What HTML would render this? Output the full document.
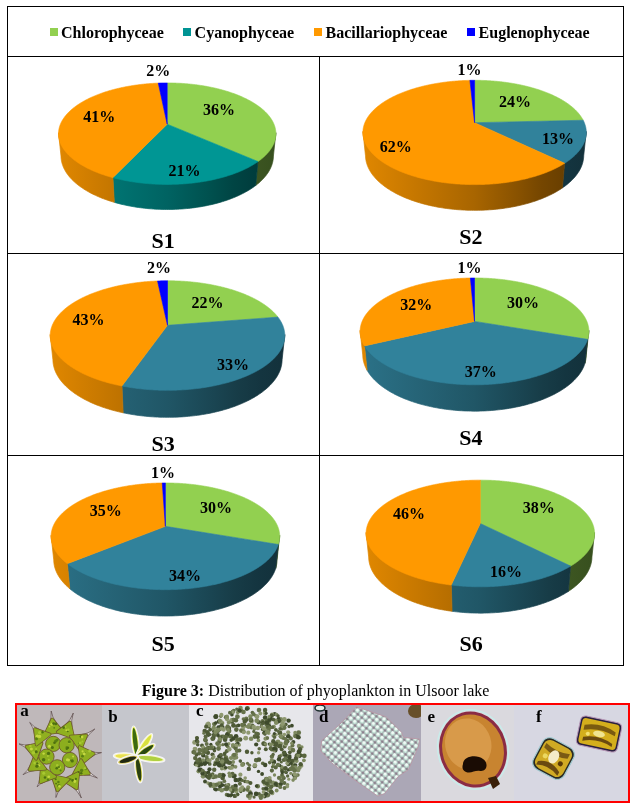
<!DOCTYPE html>
<html><head><meta charset="utf-8">
<style>
html,body{margin:0;padding:0;background:#fff;width:634px;height:804px;overflow:hidden}
svg{position:absolute;left:0;top:0;will-change:transform}
text{font-family:"Liberation Serif",serif}
</style></head><body>
<svg width="634" height="804" viewBox="0 0 634 804">
<rect x="0" y="0" width="634" height="804" fill="#fff"/>
<defs><linearGradient id="gS10" gradientUnits="userSpaceOnUse" x1="58.5" y1="0" x2="275.9" y2="0"><stop offset="0" stop-color="#80b746"/><stop offset="0.25" stop-color="#70a03e"/><stop offset="0.5" stop-color="#608935"/><stop offset="0.7" stop-color="#4d6e2a"/><stop offset="0.8" stop-color="#436025"/><stop offset="0.9" stop-color="#3c5521"/><stop offset="1.0" stop-color="#374f1e"/></linearGradient><linearGradient id="gS11" gradientUnits="userSpaceOnUse" x1="58.5" y1="0" x2="275.9" y2="0"><stop offset="0" stop-color="#008482"/><stop offset="0.25" stop-color="#007472"/><stop offset="0.5" stop-color="#006362"/><stop offset="0.7" stop-color="#00504e"/><stop offset="0.8" stop-color="#004544"/><stop offset="0.9" stop-color="#003d3d"/><stop offset="1.0" stop-color="#003938"/></linearGradient><linearGradient id="gS12" gradientUnits="userSpaceOnUse" x1="58.5" y1="0" x2="275.9" y2="0"><stop offset="0" stop-color="#e08700"/><stop offset="0.25" stop-color="#c47600"/><stop offset="0.5" stop-color="#a86500"/><stop offset="0.7" stop-color="#875100"/><stop offset="0.8" stop-color="#754600"/><stop offset="0.9" stop-color="#693f00"/><stop offset="1.0" stop-color="#613a00"/></linearGradient><linearGradient id="gS21" gradientUnits="userSpaceOnUse" x1="362.9" y1="0" x2="586.3" y2="0"><stop offset="0" stop-color="#2b7288"/><stop offset="0.25" stop-color="#266477"/><stop offset="0.5" stop-color="#205666"/><stop offset="0.7" stop-color="#1a4552"/><stop offset="0.8" stop-color="#173c47"/><stop offset="0.9" stop-color="#143540"/><stop offset="1.0" stop-color="#13313b"/></linearGradient><linearGradient id="gS22" gradientUnits="userSpaceOnUse" x1="362.9" y1="0" x2="586.3" y2="0"><stop offset="0" stop-color="#e08700"/><stop offset="0.25" stop-color="#c47600"/><stop offset="0.5" stop-color="#a86500"/><stop offset="0.7" stop-color="#875100"/><stop offset="0.8" stop-color="#754600"/><stop offset="0.9" stop-color="#693f00"/><stop offset="1.0" stop-color="#613a00"/></linearGradient><linearGradient id="gS31" gradientUnits="userSpaceOnUse" x1="50.2" y1="0" x2="284.8" y2="0"><stop offset="0" stop-color="#2b7288"/><stop offset="0.25" stop-color="#266477"/><stop offset="0.5" stop-color="#205666"/><stop offset="0.7" stop-color="#1a4552"/><stop offset="0.8" stop-color="#173c47"/><stop offset="0.9" stop-color="#143540"/><stop offset="1.0" stop-color="#13313b"/></linearGradient><linearGradient id="gS32" gradientUnits="userSpaceOnUse" x1="50.2" y1="0" x2="284.8" y2="0"><stop offset="0" stop-color="#e08700"/><stop offset="0.25" stop-color="#c47600"/><stop offset="0.5" stop-color="#a86500"/><stop offset="0.7" stop-color="#875100"/><stop offset="0.8" stop-color="#754600"/><stop offset="0.9" stop-color="#693f00"/><stop offset="1.0" stop-color="#613a00"/></linearGradient><linearGradient id="gS40" gradientUnits="userSpaceOnUse" x1="360.1" y1="0" x2="588.9" y2="0"><stop offset="0" stop-color="#80b746"/><stop offset="0.25" stop-color="#70a03e"/><stop offset="0.5" stop-color="#608935"/><stop offset="0.7" stop-color="#4d6e2a"/><stop offset="0.8" stop-color="#436025"/><stop offset="0.9" stop-color="#3c5521"/><stop offset="1.0" stop-color="#374f1e"/></linearGradient><linearGradient id="gS41" gradientUnits="userSpaceOnUse" x1="360.1" y1="0" x2="588.9" y2="0"><stop offset="0" stop-color="#2b7288"/><stop offset="0.25" stop-color="#266477"/><stop offset="0.5" stop-color="#205666"/><stop offset="0.7" stop-color="#1a4552"/><stop offset="0.8" stop-color="#173c47"/><stop offset="0.9" stop-color="#143540"/><stop offset="1.0" stop-color="#13313b"/></linearGradient><linearGradient id="gS42" gradientUnits="userSpaceOnUse" x1="360.1" y1="0" x2="588.9" y2="0"><stop offset="0" stop-color="#e08700"/><stop offset="0.25" stop-color="#c47600"/><stop offset="0.5" stop-color="#a86500"/><stop offset="0.7" stop-color="#875100"/><stop offset="0.8" stop-color="#754600"/><stop offset="0.9" stop-color="#693f00"/><stop offset="1.0" stop-color="#613a00"/></linearGradient><linearGradient id="gS50" gradientUnits="userSpaceOnUse" x1="51.1" y1="0" x2="279.7" y2="0"><stop offset="0" stop-color="#80b746"/><stop offset="0.25" stop-color="#70a03e"/><stop offset="0.5" stop-color="#608935"/><stop offset="0.7" stop-color="#4d6e2a"/><stop offset="0.8" stop-color="#436025"/><stop offset="0.9" stop-color="#3c5521"/><stop offset="1.0" stop-color="#374f1e"/></linearGradient><linearGradient id="gS51" gradientUnits="userSpaceOnUse" x1="51.1" y1="0" x2="279.7" y2="0"><stop offset="0" stop-color="#2b7288"/><stop offset="0.25" stop-color="#266477"/><stop offset="0.5" stop-color="#205666"/><stop offset="0.7" stop-color="#1a4552"/><stop offset="0.8" stop-color="#173c47"/><stop offset="0.9" stop-color="#143540"/><stop offset="1.0" stop-color="#13313b"/></linearGradient><linearGradient id="gS52" gradientUnits="userSpaceOnUse" x1="51.1" y1="0" x2="279.7" y2="0"><stop offset="0" stop-color="#e08700"/><stop offset="0.25" stop-color="#c47600"/><stop offset="0.5" stop-color="#a86500"/><stop offset="0.7" stop-color="#875100"/><stop offset="0.8" stop-color="#754600"/><stop offset="0.9" stop-color="#693f00"/><stop offset="1.0" stop-color="#613a00"/></linearGradient><linearGradient id="gS60" gradientUnits="userSpaceOnUse" x1="366.1" y1="0" x2="594.5" y2="0"><stop offset="0" stop-color="#80b746"/><stop offset="0.25" stop-color="#70a03e"/><stop offset="0.5" stop-color="#608935"/><stop offset="0.7" stop-color="#4d6e2a"/><stop offset="0.8" stop-color="#436025"/><stop offset="0.9" stop-color="#3c5521"/><stop offset="1.0" stop-color="#374f1e"/></linearGradient><linearGradient id="gS61" gradientUnits="userSpaceOnUse" x1="366.1" y1="0" x2="594.5" y2="0"><stop offset="0" stop-color="#2b7288"/><stop offset="0.25" stop-color="#266477"/><stop offset="0.5" stop-color="#205666"/><stop offset="0.7" stop-color="#1a4552"/><stop offset="0.8" stop-color="#173c47"/><stop offset="0.9" stop-color="#143540"/><stop offset="1.0" stop-color="#13313b"/></linearGradient><linearGradient id="gS62" gradientUnits="userSpaceOnUse" x1="366.1" y1="0" x2="594.5" y2="0"><stop offset="0" stop-color="#e08700"/><stop offset="0.25" stop-color="#c47600"/><stop offset="0.5" stop-color="#a86500"/><stop offset="0.7" stop-color="#875100"/><stop offset="0.8" stop-color="#754600"/><stop offset="0.9" stop-color="#693f00"/><stop offset="1.0" stop-color="#613a00"/></linearGradient></defs><path d="M275.90,132.69 L275.88,133.56 L275.83,134.45 L275.75,135.33 L275.64,136.21 L275.49,137.10 L275.30,137.99 L275.09,138.88 L274.84,139.77 L274.55,140.66 L274.23,141.55 L273.87,142.45 L273.48,143.34 L273.05,144.23 L272.59,145.12 L272.09,146.01 L271.55,146.89 L270.98,147.78 L270.37,148.66 L269.73,149.54 L269.05,150.42 L268.33,151.29 L267.58,152.16 L266.79,153.03 L265.96,153.89 L265.09,154.75 L264.19,155.60 L263.26,156.44 L262.28,157.28 L261.27,158.12 L260.22,158.94 L259.14,159.76 L258.02,160.57 L255.72,185.47 L256.82,184.61 L257.89,183.75 L258.91,182.88 L259.91,182.00 L260.86,181.12 L261.78,180.23 L262.67,179.33 L263.52,178.43 L264.33,177.52 L265.11,176.61 L265.86,175.69 L266.56,174.77 L267.23,173.84 L267.87,172.91 L268.47,171.98 L269.04,171.05 L269.57,170.11 L270.06,169.18 L270.52,168.24 L270.95,167.30 L271.34,166.36 L271.69,165.41 L272.01,164.47 L272.30,163.53 L272.56,162.59 L272.78,161.65 L272.96,160.71 L273.12,159.77 L273.24,158.84 L273.33,157.90 L273.38,156.97 L273.41,156.04 Z" fill="url(#gS10)" stroke="url(#gS10)" stroke-width="0.7"/>
<path d="M258.02,160.57 L256.84,161.39 L255.63,162.20 L254.38,163.00 L253.10,163.79 L251.78,164.57 L250.42,165.33 L249.03,166.09 L247.60,166.84 L246.14,167.58 L244.64,168.30 L243.11,169.01 L241.54,169.71 L239.95,170.40 L238.31,171.07 L236.65,171.73 L234.96,172.37 L233.23,173.00 L231.48,173.61 L229.69,174.21 L227.88,174.79 L226.04,175.36 L224.17,175.91 L222.27,176.44 L220.35,176.96 L218.40,177.45 L216.43,177.93 L214.43,178.39 L212.41,178.84 L210.37,179.26 L208.31,179.67 L206.23,180.05 L204.13,180.42 L202.01,180.76 L199.87,181.09 L197.72,181.39 L195.55,181.68 L193.37,181.94 L191.18,182.19 L188.97,182.41 L186.76,182.61 L184.53,182.79 L182.30,182.94 L180.05,183.08 L177.81,183.19 L175.55,183.29 L173.29,183.36 L171.03,183.40 L168.77,183.43 L166.50,183.43 L164.24,183.42 L161.98,183.38 L159.72,183.32 L157.46,183.23 L155.21,183.13 L152.96,183.00 L150.73,182.85 L148.50,182.68 L146.28,182.49 L144.07,182.27 L141.87,182.04 L139.68,181.78 L137.51,181.51 L135.35,181.21 L133.21,180.89 L131.08,180.55 L128.98,180.19 L126.89,179.82 L124.82,179.42 L122.77,179.00 L120.74,178.57 L118.74,178.11 L116.76,177.64 L114.80,177.15 L112.87,176.64 L114.31,202.35 L116.19,202.89 L118.10,203.40 L120.03,203.90 L121.98,204.38 L123.96,204.83 L125.95,205.27 L127.97,205.69 L130.00,206.08 L132.06,206.46 L134.12,206.81 L136.21,207.15 L138.31,207.46 L140.42,207.75 L142.55,208.02 L144.69,208.26 L146.84,208.49 L149.00,208.69 L151.17,208.87 L153.35,209.02 L155.53,209.16 L157.72,209.27 L159.92,209.36 L162.12,209.42 L164.32,209.46 L166.52,209.48 L168.72,209.48 L170.93,209.45 L173.13,209.40 L175.32,209.33 L177.52,209.23 L179.71,209.11 L181.89,208.97 L184.06,208.80 L186.23,208.61 L188.39,208.40 L190.53,208.17 L192.67,207.92 L194.79,207.64 L196.90,207.34 L198.99,207.02 L201.07,206.68 L203.13,206.32 L205.18,205.93 L207.21,205.53 L209.21,205.10 L211.20,204.66 L213.17,204.20 L215.11,203.71 L217.03,203.21 L218.93,202.69 L220.81,202.14 L222.66,201.59 L224.48,201.01 L226.28,200.41 L228.04,199.80 L229.79,199.17 L231.50,198.53 L233.18,197.87 L234.83,197.19 L236.46,196.50 L238.05,195.80 L239.61,195.08 L241.14,194.34 L242.64,193.59 L244.10,192.83 L245.53,192.06 L246.92,191.27 L248.29,190.48 L249.61,189.67 L250.91,188.85 L252.16,188.02 L253.39,187.18 L254.57,186.33 L255.72,185.47 Z" fill="url(#gS11)" stroke="url(#gS11)" stroke-width="0.7"/>
<path d="M112.87,176.64 L110.96,176.12 L109.09,175.57 L107.24,175.02 L105.42,174.44 L103.62,173.85 L101.86,173.24 L100.12,172.62 L98.42,171.98 L96.75,171.33 L95.11,170.67 L93.50,169.99 L91.93,169.30 L90.38,168.59 L88.87,167.88 L87.40,167.15 L85.96,166.40 L84.56,165.65 L83.19,164.89 L81.85,164.11 L80.56,163.33 L79.29,162.54 L78.07,161.74 L76.88,160.92 L75.73,160.10 L74.62,159.28 L73.54,158.44 L72.50,157.60 L71.50,156.75 L70.53,155.90 L69.61,155.04 L68.72,154.17 L67.87,153.30 L67.06,152.42 L66.28,151.54 L65.54,150.66 L64.84,149.77 L64.18,148.88 L63.55,147.98 L62.97,147.09 L62.42,146.19 L61.90,145.29 L61.43,144.38 L60.99,143.48 L60.59,142.58 L60.22,141.67 L59.89,140.77 L59.59,139.87 L59.34,138.96 L59.11,138.06 L58.92,137.16 L58.77,136.26 L58.65,135.36 L58.57,134.47 L58.52,133.58 L58.50,132.69 L60.99,156.04 L61.02,156.99 L61.08,157.93 L61.17,158.88 L61.29,159.83 L61.45,160.78 L61.64,161.73 L61.87,162.68 L62.13,163.63 L62.42,164.59 L62.75,165.54 L63.12,166.50 L63.52,167.45 L63.96,168.40 L64.43,169.36 L64.94,170.31 L65.48,171.25 L66.06,172.20 L66.68,173.14 L67.34,174.08 L68.03,175.02 L68.75,175.95 L69.52,176.88 L70.32,177.80 L71.15,178.72 L72.03,179.63 L72.94,180.54 L73.88,181.44 L74.87,182.34 L75.89,183.22 L76.94,184.10 L78.04,184.97 L79.16,185.84 L80.33,186.69 L81.53,187.53 L82.76,188.37 L84.03,189.19 L85.34,190.01 L86.68,190.81 L88.05,191.60 L89.46,192.38 L90.90,193.15 L92.37,193.90 L93.88,194.64 L95.42,195.37 L96.99,196.08 L98.59,196.78 L100.22,197.47 L101.88,198.13 L103.58,198.79 L105.30,199.42 L107.05,200.04 L108.82,200.65 L110.63,201.23 L112.46,201.80 L114.31,202.35 Z" fill="url(#gS12)" stroke="url(#gS12)" stroke-width="0.7"/>
<path d="M167.20,124.20 L167.20,82.94 L167.98,82.94 L168.77,82.94 L169.55,82.95 L170.34,82.96 L171.12,82.97 L171.91,82.98 L172.69,83.00 L173.47,83.02 L174.26,83.04 L175.04,83.07 L175.82,83.10 L176.61,83.13 L177.39,83.16 L178.17,83.20 L178.95,83.23 L179.73,83.27 L180.51,83.32 L181.29,83.36 L182.07,83.41 L182.85,83.46 L183.63,83.52 L184.40,83.58 L185.18,83.64 L185.96,83.70 L186.73,83.76 L187.51,83.83 L188.28,83.90 L189.05,83.97 L189.82,84.05 L190.59,84.13 L191.36,84.21 L192.13,84.29 L192.90,84.38 L193.67,84.46 L194.43,84.55 L195.20,84.65 L195.96,84.74 L196.72,84.84 L197.48,84.95 L198.24,85.05 L199.00,85.16 L199.76,85.27 L200.51,85.38 L201.27,85.49 L202.02,85.61 L202.77,85.73 L203.52,85.85 L204.27,85.98 L205.02,86.11 L205.76,86.24 L206.51,86.37 L207.25,86.51 L207.99,86.64 L208.73,86.79 L209.46,86.93 L210.20,87.08 L210.93,87.22 L211.66,87.38 L212.39,87.53 L213.12,87.69 L213.85,87.85 L214.57,88.01 L215.29,88.17 L216.01,88.34 L216.73,88.51 L217.44,88.68 L218.15,88.86 L218.86,89.04 L219.57,89.22 L220.28,89.40 L220.98,89.58 L221.68,89.77 L222.38,89.96 L223.08,90.16 L223.77,90.35 L224.46,90.55 L225.15,90.75 L225.84,90.95 L226.52,91.16 L227.20,91.37 L227.88,91.58 L228.55,91.79 L229.23,92.01 L229.90,92.23 L230.56,92.45 L231.23,92.67 L231.89,92.90 L232.54,93.13 L233.20,93.36 L233.85,93.60 L234.50,93.83 L235.14,94.07 L235.78,94.31 L236.42,94.56 L237.06,94.80 L237.69,95.05 L238.32,95.30 L238.94,95.56 L239.56,95.82 L240.18,96.08 L240.79,96.34 L241.41,96.60 L242.01,96.87 L242.62,97.14 L243.22,97.41 L243.81,97.68 L244.40,97.96 L244.99,98.24 L245.57,98.52 L246.15,98.80 L246.73,99.09 L247.30,99.38 L247.87,99.67 L248.43,99.96 L248.99,100.26 L249.55,100.56 L250.10,100.86 L250.65,101.16 L251.19,101.47 L251.73,101.78 L252.26,102.09 L252.79,102.40 L253.31,102.71 L253.83,103.03 L254.34,103.35 L254.85,103.67 L255.36,104.00 L255.86,104.32 L256.36,104.65 L256.85,104.98 L257.33,105.32 L257.81,105.65 L258.29,105.99 L258.76,106.33 L259.22,106.67 L259.68,107.02 L260.14,107.36 L260.59,107.71 L261.03,108.06 L261.47,108.42 L261.90,108.77 L262.33,109.13 L262.75,109.49 L263.17,109.85 L263.58,110.22 L263.98,110.58 L264.38,110.95 L264.77,111.32 L265.16,111.69 L265.54,112.07 L265.92,112.44 L266.29,112.82 L266.65,113.20 L267.01,113.58 L267.36,113.97 L267.70,114.35 L268.04,114.74 L268.37,115.13 L268.70,115.52 L269.02,115.91 L269.33,116.31 L269.64,116.71 L269.94,117.11 L270.23,117.51 L270.51,117.91 L270.79,118.31 L271.07,118.72 L271.33,119.13 L271.59,119.54 L271.84,119.95 L272.09,120.36 L272.32,120.77 L272.55,121.19 L272.78,121.61 L272.99,122.03 L273.20,122.45 L273.40,122.87 L273.60,123.29 L273.78,123.72 L273.96,124.14 L274.13,124.57 L274.30,125.00 L274.45,125.43 L274.60,125.86 L274.74,126.29 L274.87,126.73 L275.00,127.16 L275.12,127.60 L275.22,128.04 L275.33,128.48 L275.42,128.92 L275.50,129.36 L275.58,129.80 L275.65,130.24 L275.71,130.69 L275.76,131.13 L275.81,131.58 L275.84,132.03 L275.87,132.47 L275.89,132.92 L275.90,133.37 L275.90,133.82 L275.89,134.27 L275.88,134.72 L275.85,135.18 L275.82,135.63 L275.78,136.08 L275.73,136.54 L275.67,136.99 L275.60,137.45 L275.52,137.90 L275.44,138.36 L275.34,138.82 L275.24,139.27 L275.13,139.73 L275.00,140.19 L274.87,140.64 L274.73,141.10 L274.58,141.56 L274.42,142.02 L274.26,142.48 L274.08,142.93 L273.89,143.39 L273.70,143.85 L273.49,144.31 L273.28,144.77 L273.05,145.22 L272.82,145.68 L272.58,146.14 L272.33,146.59 L272.06,147.05 L271.79,147.51 L271.51,147.96 L271.22,148.42 L270.92,148.87 L270.61,149.32 L270.29,149.78 L269.96,150.23 L269.62,150.68 L269.28,151.13 L268.92,151.58 L268.55,152.03 L268.17,152.48 L267.79,152.92 L267.39,153.37 L266.98,153.82 L266.57,154.26 L266.14,154.70 L265.71,155.14 L265.26,155.58 L264.81,156.02 L264.34,156.46 L263.87,156.89 L263.39,157.33 L262.89,157.76 L262.39,158.19 L261.88,158.62 L261.35,159.05 L260.82,159.47 L260.28,159.90 L259.73,160.32 L259.17,160.74 L258.60,161.16 L258.02,161.57 Z" fill="#92d050" stroke="#92d050" stroke-width="0.6" stroke-linejoin="round"/>
<path d="M167.20,124.20 L258.02,161.57 L257.43,161.99 L256.83,162.40 L256.23,162.80 L255.61,163.21 L254.99,163.61 L254.36,164.01 L253.71,164.41 L253.06,164.81 L252.40,165.20 L251.73,165.59 L251.05,165.98 L250.36,166.37 L249.67,166.75 L248.96,167.13 L248.25,167.51 L247.52,167.88 L246.79,168.25 L246.05,168.62 L245.30,168.99 L244.54,169.35 L243.77,169.71 L242.99,170.06 L242.21,170.42 L241.41,170.77 L240.61,171.11 L239.80,171.46 L238.98,171.80 L238.16,172.13 L237.32,172.46 L236.48,172.79 L235.63,173.12 L234.77,173.44 L233.91,173.76 L233.03,174.07 L232.15,174.38 L231.26,174.69 L230.36,174.99 L229.46,175.29 L228.55,175.58 L227.63,175.87 L226.70,176.16 L225.77,176.44 L224.83,176.72 L223.88,176.99 L222.93,177.26 L221.97,177.52 L221.00,177.78 L220.03,178.04 L219.05,178.29 L218.06,178.54 L217.07,178.78 L216.07,179.02 L215.07,179.25 L214.06,179.48 L213.05,179.70 L212.02,179.92 L211.00,180.13 L209.97,180.34 L208.93,180.55 L207.89,180.75 L206.84,180.94 L205.79,181.13 L204.73,181.31 L203.67,181.49 L202.60,181.67 L201.53,181.84 L200.46,182.00 L199.38,182.16 L198.29,182.31 L197.21,182.46 L196.12,182.61 L195.02,182.75 L193.92,182.88 L192.82,183.01 L191.72,183.13 L190.61,183.24 L189.50,183.36 L188.39,183.46 L187.27,183.56 L186.15,183.66 L185.03,183.75 L183.91,183.83 L182.78,183.91 L181.66,183.98 L180.53,184.05 L179.40,184.12 L178.26,184.17 L177.13,184.22 L176.00,184.27 L174.86,184.31 L173.72,184.34 L172.58,184.37 L171.45,184.40 L170.31,184.41 L169.17,184.43 L168.03,184.43 L166.89,184.44 L165.75,184.43 L164.61,184.42 L163.47,184.41 L162.33,184.38 L161.19,184.36 L160.05,184.33 L158.92,184.29 L157.78,184.24 L156.65,184.20 L155.52,184.14 L154.38,184.08 L153.25,184.02 L152.13,183.95 L151.00,183.87 L149.88,183.79 L148.75,183.70 L147.63,183.61 L146.52,183.51 L145.40,183.40 L144.29,183.30 L143.18,183.18 L142.08,183.06 L140.97,182.94 L139.87,182.81 L138.78,182.67 L137.69,182.53 L136.60,182.38 L135.51,182.23 L134.43,182.07 L133.36,181.91 L132.28,181.75 L131.21,181.57 L130.15,181.40 L129.09,181.21 L128.04,181.03 L126.99,180.84 L125.94,180.64 L124.90,180.44 L123.87,180.23 L122.84,180.02 L121.82,179.80 L120.80,179.58 L119.79,179.35 L118.78,179.12 L117.78,178.89 L116.78,178.65 L115.79,178.40 L114.81,178.15 L113.84,177.90 L112.87,177.64 Z" fill="#009694" stroke="#009694" stroke-width="0.6" stroke-linejoin="round"/>
<path d="M167.20,124.20 L112.87,177.64 L111.90,177.38 L110.94,177.11 L109.99,176.84 L109.04,176.56 L108.10,176.28 L107.17,175.99 L106.24,175.70 L105.32,175.41 L104.41,175.11 L103.51,174.81 L102.61,174.51 L101.72,174.20 L100.84,173.88 L99.97,173.56 L99.10,173.24 L98.25,172.92 L97.40,172.59 L96.56,172.26 L95.72,171.92 L94.90,171.58 L94.08,171.24 L93.28,170.89 L92.48,170.54 L91.68,170.19 L90.90,169.83 L90.13,169.47 L89.36,169.11 L88.61,168.74 L87.86,168.38 L87.12,168.00 L86.39,167.63 L85.67,167.25 L84.96,166.87 L84.25,166.49 L83.56,166.10 L82.87,165.71 L82.20,165.32 L81.53,164.92 L80.87,164.53 L80.23,164.13 L79.59,163.73 L78.96,163.32 L78.34,162.91 L77.73,162.51 L77.13,162.10 L76.54,161.68 L75.95,161.27 L75.38,160.85 L74.82,160.43 L74.26,160.01 L73.72,159.59 L73.19,159.16 L72.66,158.73 L72.15,158.31 L71.64,157.87 L71.15,157.44 L70.66,157.01 L70.18,156.57 L69.72,156.14 L69.26,155.70 L68.81,155.26 L68.37,154.82 L67.95,154.38 L67.53,153.94 L67.12,153.49 L66.72,153.05 L66.33,152.60 L65.95,152.15 L65.58,151.70 L65.22,151.26 L64.87,150.80 L64.53,150.35 L64.20,149.90 L63.88,149.45 L63.56,149.00 L63.26,148.54 L62.97,148.09 L62.69,147.63 L62.41,147.18 L62.15,146.72 L61.89,146.27 L61.65,145.81 L61.41,145.35 L61.18,144.90 L60.97,144.44 L60.76,143.98 L60.56,143.52 L60.37,143.07 L60.19,142.61 L60.02,142.15 L59.86,141.69 L59.71,141.23 L59.57,140.78 L59.43,140.32 L59.31,139.86 L59.19,139.41 L59.09,138.95 L58.99,138.49 L58.90,138.04 L58.82,137.58 L58.75,137.13 L58.69,136.67 L58.64,136.22 L58.59,135.76 L58.56,135.31 L58.53,134.86 L58.51,134.41 L58.50,133.96 L58.50,133.51 L58.51,133.06 L58.52,132.61 L58.55,132.16 L58.58,131.71 L58.62,131.27 L58.67,130.82 L58.73,130.38 L58.80,129.93 L58.87,129.49 L58.95,129.05 L59.05,128.61 L59.14,128.17 L59.25,127.73 L59.36,127.30 L59.49,126.86 L59.62,126.43 L59.76,125.99 L59.90,125.56 L60.06,125.13 L60.22,124.70 L60.39,124.27 L60.56,123.85 L60.75,123.42 L60.94,123.00 L61.14,122.58 L61.34,122.16 L61.56,121.74 L61.78,121.32 L62.00,120.90 L62.24,120.49 L62.48,120.08 L62.73,119.67 L62.99,119.26 L63.25,118.85 L63.52,118.44 L63.80,118.04 L64.08,117.64 L64.37,117.23 L64.67,116.83 L64.97,116.44 L65.28,116.04 L65.60,115.65 L65.92,115.26 L66.25,114.87 L66.59,114.48 L66.93,114.09 L67.28,113.71 L67.63,113.32 L67.99,112.94 L68.36,112.57 L68.73,112.19 L69.11,111.81 L69.50,111.44 L69.89,111.07 L70.29,110.70 L70.69,110.34 L71.10,109.97 L71.51,109.61 L71.93,109.25 L72.36,108.89 L72.79,108.54 L73.22,108.18 L73.66,107.83 L74.11,107.48 L74.56,107.13 L75.02,106.79 L75.48,106.45 L75.95,106.11 L76.43,105.77 L76.91,105.43 L77.39,105.10 L77.88,104.77 L78.37,104.44 L78.87,104.11 L79.37,103.78 L79.88,103.46 L80.39,103.14 L80.91,102.82 L81.43,102.51 L81.96,102.19 L82.49,101.88 L83.03,101.57 L83.57,101.27 L84.11,100.96 L84.66,100.66 L85.21,100.36 L85.77,100.07 L86.33,99.77 L86.90,99.48 L87.47,99.19 L88.04,98.90 L88.62,98.62 L89.20,98.34 L89.79,98.06 L90.38,97.78 L90.97,97.51 L91.57,97.23 L92.17,96.96 L92.78,96.70 L93.39,96.43 L94.00,96.17 L94.62,95.91 L95.24,95.65 L95.86,95.40 L96.49,95.14 L97.12,94.89 L97.75,94.65 L98.39,94.40 L99.03,94.16 L99.67,93.92 L100.32,93.68 L100.97,93.45 L101.62,93.21 L102.27,92.98 L102.93,92.76 L103.60,92.53 L104.26,92.31 L104.93,92.09 L105.60,91.87 L106.27,91.66 L106.95,91.45 L107.63,91.24 L108.31,91.03 L108.99,90.83 L109.68,90.62 L110.37,90.42 L111.06,90.23 L111.76,90.03 L112.46,89.84 L113.16,89.65 L113.86,89.47 L114.56,89.28 L115.27,89.10 L115.98,88.92 L116.69,88.75 L117.40,88.57 L118.12,88.40 L118.84,88.24 L119.56,88.07 L120.28,87.91 L121.00,87.75 L121.73,87.59 L122.46,87.43 L123.19,87.28 L123.92,87.13 L124.65,86.99 L125.39,86.84 L126.13,86.70 L126.87,86.56 L127.61,86.42 L128.35,86.29 L129.09,86.16 L129.84,86.03 L130.59,85.90 L131.34,85.78 L132.09,85.66 L132.84,85.54 L133.59,85.42 L134.35,85.31 L135.10,85.20 L135.86,85.09 L136.62,84.99 L137.38,84.88 L138.14,84.78 L138.90,84.69 L139.67,84.59 L140.43,84.50 L141.20,84.41 L141.96,84.32 L142.73,84.24 L143.50,84.16 L144.27,84.08 L145.04,84.00 L145.81,83.93 L146.59,83.86 L147.36,83.79 L148.13,83.72 L148.91,83.66 L149.68,83.60 L150.46,83.54 L151.24,83.49 L152.02,83.43 L152.79,83.38 L153.57,83.34 L154.35,83.29 L155.13,83.25 L155.91,83.21 L156.69,83.17 L157.48,83.14 L158.26,83.11 Z" fill="#ff9900" stroke="#ff9900" stroke-width="0.6" stroke-linejoin="round"/>
<path d="M167.20,124.20 L158.26,83.11 L159.00,83.08 L159.75,83.06 L160.49,83.03 L161.24,83.01 L161.98,82.99 L162.73,82.98 L163.47,82.97 L164.22,82.96 L164.96,82.95 L165.71,82.94 L166.45,82.94 L167.20,82.94 Z" fill="#0000ff" stroke="#0000ff" stroke-width="0.6" stroke-linejoin="round"/>
<path d="M586.30,131.45 L586.28,132.37 L586.23,133.29 L586.14,134.22 L586.02,135.15 L585.86,136.08 L585.66,137.01 L585.43,137.94 L585.16,138.87 L584.86,139.81 L584.51,140.74 L584.13,141.68 L583.71,142.61 L583.25,143.54 L582.76,144.48 L582.22,145.41 L581.65,146.33 L581.04,147.26 L580.39,148.19 L579.70,149.11 L578.97,150.02 L578.21,150.94 L577.40,151.85 L576.55,152.75 L575.67,153.65 L574.74,154.55 L573.78,155.44 L572.78,156.32 L571.73,157.20 L570.65,158.07 L569.53,158.93 L568.37,159.78 L567.18,160.63 L565.94,161.47 L564.67,162.29 L562.38,187.96 L563.62,187.09 L564.83,186.21 L566.01,185.32 L567.14,184.42 L568.24,183.51 L569.30,182.60 L570.33,181.67 L571.31,180.74 L572.26,179.81 L573.17,178.86 L574.04,177.92 L574.87,176.96 L575.67,176.00 L576.42,175.04 L577.14,174.07 L577.82,173.10 L578.46,172.12 L579.07,171.15 L579.63,170.17 L580.16,169.19 L580.65,168.20 L581.11,167.22 L581.53,166.23 L581.91,165.24 L582.25,164.26 L582.56,163.27 L582.83,162.28 L583.06,161.30 L583.26,160.31 L583.43,159.33 L583.56,158.35 L583.65,157.37 L583.71,156.40 L583.74,155.42 Z" fill="url(#gS21)" stroke="url(#gS21)" stroke-width="0.7"/>
<path d="M564.67,162.29 L563.35,163.12 L561.99,163.93 L560.59,164.73 L559.16,165.52 L557.69,166.30 L556.18,167.07 L554.64,167.82 L553.06,168.57 L551.44,169.30 L549.79,170.01 L548.11,170.71 L546.39,171.40 L544.64,172.07 L542.86,172.73 L541.04,173.37 L539.20,173.99 L537.32,174.60 L535.41,175.19 L533.48,175.76 L531.51,176.32 L529.52,176.86 L527.50,177.38 L525.46,177.88 L523.39,178.36 L521.30,178.82 L519.18,179.26 L517.05,179.69 L514.89,180.09 L512.71,180.47 L510.51,180.83 L508.30,181.17 L506.06,181.49 L503.81,181.78 L501.55,182.06 L499.27,182.31 L496.99,182.54 L494.68,182.75 L492.37,182.93 L490.05,183.10 L487.73,183.24 L485.39,183.35 L483.05,183.45 L480.71,183.52 L478.36,183.57 L476.01,183.59 L473.66,183.60 L471.31,183.58 L468.96,183.53 L466.62,183.46 L464.27,183.37 L461.94,183.26 L459.61,183.13 L457.29,182.97 L454.97,182.79 L452.67,182.58 L450.38,182.36 L448.10,182.11 L445.83,181.84 L443.58,181.55 L441.35,181.23 L439.13,180.90 L436.93,180.54 L434.74,180.17 L432.58,179.77 L430.44,179.35 L428.32,178.91 L426.22,178.45 L424.15,177.98 L422.10,177.48 L420.08,176.96 L418.08,176.43 L416.11,175.88 L414.17,175.31 L412.26,174.72 L410.37,174.11 L408.52,173.49 L406.70,172.86 L404.91,172.20 L403.15,171.53 L401.43,170.85 L399.74,170.15 L398.08,169.44 L396.46,168.71 L394.87,167.97 L393.32,167.22 L391.81,166.46 L390.33,165.68 L388.89,164.89 L387.49,164.09 L386.12,163.28 L384.79,162.46 L383.50,161.63 L382.25,160.79 L381.04,159.94 L379.87,159.08 L378.74,158.22 L377.64,157.34 L376.59,156.46 L375.57,155.57 L374.60,154.68 L373.66,153.78 L372.77,152.88 L371.91,151.97 L371.09,151.05 L370.32,150.13 L369.58,149.21 L368.88,148.28 L368.22,147.35 L367.60,146.42 L367.02,145.49 L366.48,144.55 L365.98,143.61 L365.52,142.68 L365.10,141.74 L364.71,140.80 L364.36,139.86 L364.05,138.92 L363.78,137.98 L363.54,137.04 L363.35,136.10 L363.18,135.17 L363.06,134.23 L362.97,133.30 L362.92,132.37 L362.90,131.45 L365.46,155.42 L365.49,156.40 L365.55,157.38 L365.64,158.37 L365.78,159.36 L365.94,160.34 L366.14,161.33 L366.38,162.32 L366.66,163.32 L366.97,164.31 L367.31,165.30 L367.70,166.29 L368.12,167.29 L368.58,168.28 L369.08,169.27 L369.61,170.25 L370.19,171.24 L370.80,172.22 L371.45,173.20 L372.14,174.18 L372.87,175.15 L373.63,176.12 L374.44,177.08 L375.28,178.04 L376.16,179.00 L377.08,179.95 L378.04,180.89 L379.03,181.82 L380.07,182.75 L381.14,183.67 L382.25,184.58 L383.40,185.48 L384.59,186.38 L385.82,187.26 L387.08,188.13 L388.38,189.00 L389.71,189.85 L391.09,190.69 L392.50,191.52 L393.94,192.34 L395.42,193.14 L396.94,193.93 L398.49,194.71 L400.07,195.47 L401.69,196.22 L403.34,196.96 L405.02,197.68 L406.74,198.38 L408.48,199.06 L410.26,199.73 L412.07,200.39 L413.90,201.02 L415.77,201.64 L417.66,202.24 L419.58,202.82 L421.53,203.38 L423.50,203.92 L425.49,204.44 L427.51,204.94 L429.56,205.42 L431.62,205.88 L433.71,206.32 L435.81,206.74 L437.94,207.13 L440.08,207.51 L442.24,207.86 L444.42,208.19 L446.61,208.49 L448.82,208.78 L451.03,209.04 L453.27,209.27 L455.51,209.49 L457.76,209.68 L460.02,209.84 L462.28,209.98 L464.55,210.10 L466.83,210.20 L469.11,210.27 L471.40,210.31 L473.68,210.33 L475.97,210.33 L478.26,210.31 L480.54,210.26 L482.82,210.18 L485.10,210.08 L487.37,209.96 L489.63,209.81 L491.89,209.64 L494.14,209.45 L496.38,209.23 L498.61,208.99 L500.82,208.72 L503.03,208.43 L505.21,208.12 L507.39,207.79 L509.55,207.43 L511.68,207.06 L513.81,206.66 L515.91,206.23 L517.99,205.79 L520.05,205.33 L522.09,204.84 L524.10,204.34 L526.10,203.81 L528.06,203.27 L530.00,202.70 L531.92,202.12 L533.81,201.52 L535.66,200.90 L537.50,200.26 L539.30,199.60 L541.07,198.93 L542.81,198.24 L544.52,197.53 L546.19,196.81 L547.84,196.08 L549.45,195.32 L551.02,194.56 L552.57,193.78 L554.08,192.98 L555.55,192.18 L556.99,191.36 L558.39,190.52 L559.75,189.68 L561.08,188.83 L562.38,187.96 Z" fill="url(#gS22)" stroke="url(#gS22)" stroke-width="0.7"/>
<path d="M474.60,122.70 L474.60,80.30 L475.40,80.30 L476.21,80.30 L477.01,80.31 L477.82,80.32 L478.62,80.33 L479.42,80.35 L480.23,80.36 L481.03,80.38 L481.83,80.41 L482.63,80.43 L483.44,80.46 L484.24,80.49 L485.04,80.53 L485.84,80.56 L486.64,80.60 L487.44,80.64 L488.24,80.69 L489.04,80.74 L489.84,80.79 L490.64,80.84 L491.43,80.89 L492.23,80.95 L493.03,81.01 L493.82,81.08 L494.62,81.14 L495.41,81.21 L496.20,81.28 L496.99,81.36 L497.79,81.43 L498.58,81.51 L499.36,81.60 L500.15,81.68 L500.94,81.77 L501.73,81.86 L502.51,81.95 L503.29,82.05 L504.08,82.15 L504.86,82.25 L505.64,82.35 L506.42,82.46 L507.19,82.57 L507.97,82.68 L508.74,82.79 L509.52,82.91 L510.29,83.03 L511.06,83.15 L511.83,83.28 L512.60,83.41 L513.36,83.54 L514.13,83.67 L514.89,83.81 L515.65,83.95 L516.41,84.09 L517.16,84.23 L517.92,84.38 L518.67,84.53 L519.42,84.68 L520.17,84.84 L520.92,84.99 L521.67,85.15 L522.41,85.32 L523.15,85.48 L523.89,85.65 L524.63,85.82 L525.37,85.99 L526.10,86.17 L526.83,86.35 L527.56,86.53 L528.28,86.72 L529.01,86.90 L529.73,87.09 L530.45,87.28 L531.17,87.48 L531.88,87.68 L532.59,87.88 L533.30,88.08 L534.01,88.28 L534.71,88.49 L535.41,88.70 L536.11,88.92 L536.80,89.13 L537.50,89.35 L538.18,89.57 L538.87,89.80 L539.56,90.02 L540.24,90.25 L540.91,90.48 L541.59,90.72 L542.26,90.95 L542.93,91.19 L543.59,91.43 L544.25,91.68 L544.91,91.93 L545.57,92.18 L546.22,92.43 L546.87,92.68 L547.51,92.94 L548.15,93.20 L548.79,93.46 L549.43,93.73 L550.06,94.00 L550.68,94.27 L551.31,94.54 L551.93,94.81 L552.54,95.09 L553.15,95.37 L553.76,95.65 L554.36,95.94 L554.96,96.23 L555.56,96.52 L556.15,96.81 L556.74,97.11 L557.32,97.40 L557.90,97.70 L558.47,98.01 L559.04,98.31 L559.61,98.62 L560.17,98.93 L560.73,99.24 L561.28,99.56 L561.83,99.87 L562.37,100.19 L562.91,100.51 L563.44,100.84 L563.97,101.17 L564.50,101.50 L565.02,101.83 L565.53,102.16 L566.04,102.50 L566.55,102.84 L567.04,103.18 L567.54,103.52 L568.03,103.86 L568.51,104.21 L568.99,104.56 L569.46,104.91 L569.93,105.27 L570.39,105.63 L570.85,105.99 L571.30,106.35 L571.75,106.71 L572.19,107.08 L572.62,107.44 L573.05,107.81 L573.47,108.18 L573.89,108.56 L574.30,108.94 L574.71,109.31 L575.11,109.69 L575.50,110.08 L575.89,110.46 L576.27,110.85 L576.64,111.24 L577.01,111.63 L577.37,112.02 L577.73,112.41 L578.08,112.81 L578.42,113.21 L578.76,113.61 L579.09,114.01 L579.41,114.42 L579.73,114.82 L580.04,115.23 L580.34,115.64 L580.64,116.05 L580.93,116.47 L581.21,116.88 L581.48,117.30 L581.75,117.72 L582.01,118.14 L582.27,118.56 L582.51,118.98 L582.75,119.41 L582.98,119.84 L583.21,120.26 Z" fill="#92d050" stroke="#92d050" stroke-width="0.6" stroke-linejoin="round"/>
<path d="M474.60,122.70 L583.21,120.26 L583.43,120.69 L583.64,121.12 L583.84,121.56 L584.03,121.99 L584.22,122.43 L584.40,122.86 L584.57,123.30 L584.73,123.74 L584.89,124.18 L585.04,124.63 L585.18,125.07 L585.31,125.52 L585.43,125.96 L585.55,126.41 L585.66,126.86 L585.76,127.31 L585.85,127.76 L585.93,128.21 L586.01,128.67 L586.07,129.12 L586.13,129.58 L586.18,130.03 L586.22,130.49 L586.25,130.95 L586.28,131.41 L586.29,131.87 L586.30,132.33 L586.30,132.79 L586.29,133.25 L586.27,133.71 L586.24,134.18 L586.20,134.64 L586.15,135.11 L586.10,135.57 L586.03,136.04 L585.96,136.50 L585.88,136.97 L585.79,137.44 L585.69,137.91 L585.58,138.37 L585.46,138.84 L585.33,139.31 L585.19,139.78 L585.04,140.25 L584.89,140.72 L584.72,141.19 L584.55,141.66 L584.36,142.12 L584.17,142.59 L583.96,143.06 L583.75,143.53 L583.53,144.00 L583.29,144.47 L583.05,144.94 L582.80,145.40 L582.54,145.87 L582.26,146.34 L581.98,146.80 L581.69,147.27 L581.39,147.74 L581.08,148.20 L580.76,148.67 L580.43,149.13 L580.09,149.59 L579.74,150.05 L579.38,150.51 L579.01,150.98 L578.63,151.43 L578.24,151.89 L577.85,152.35 L577.44,152.81 L577.02,153.26 L576.59,153.72 L576.15,154.17 L575.70,154.62 L575.24,155.07 L574.78,155.52 L574.30,155.97 L573.81,156.41 L573.31,156.86 L572.80,157.30 L572.29,157.74 L571.76,158.18 L571.22,158.62 L570.67,159.05 L570.12,159.48 L569.55,159.92 L568.97,160.35 L568.39,160.77 L567.79,161.20 L567.18,161.62 L566.57,162.04 L565.94,162.46 L565.31,162.88 L564.67,163.29 Z" fill="#31829b" stroke="#31829b" stroke-width="0.6" stroke-linejoin="round"/>
<path d="M474.60,122.70 L564.67,163.29 L564.01,163.71 L563.35,164.12 L562.67,164.52 L561.99,164.93 L561.29,165.33 L560.59,165.73 L559.88,166.13 L559.16,166.52 L558.43,166.92 L557.69,167.30 L556.94,167.69 L556.18,168.07 L555.41,168.45 L554.63,168.83 L553.85,169.20 L553.05,169.57 L552.25,169.94 L551.44,170.30 L550.62,170.66 L549.79,171.01 L548.95,171.37 L548.10,171.72 L547.25,172.06 L546.39,172.40 L545.51,172.74 L544.63,173.07 L543.75,173.40 L542.85,173.73 L541.95,174.05 L541.03,174.37 L540.11,174.69 L539.19,175.00 L538.25,175.30 L537.31,175.60 L536.36,175.90 L535.40,176.20 L534.44,176.48 L533.46,176.77 L532.48,177.05 L531.50,177.32 L530.51,177.60 L529.51,177.86 L528.50,178.12 L527.49,178.38 L526.47,178.63 L525.44,178.88 L524.41,179.13 L523.37,179.36 L522.33,179.60 L521.28,179.83 L520.22,180.05 L519.16,180.27 L518.10,180.48 L517.02,180.69 L515.95,180.89 L514.86,181.09 L513.78,181.29 L512.68,181.47 L511.59,181.66 L510.49,181.83 L509.38,182.01 L508.27,182.17 L507.15,182.33 L506.04,182.49 L504.91,182.64 L503.79,182.79 L502.66,182.93 L501.52,183.06 L500.38,183.19 L499.24,183.31 L498.10,183.43 L496.95,183.54 L495.80,183.65 L494.65,183.75 L493.50,183.85 L492.34,183.94 L491.18,184.02 L490.02,184.10 L488.85,184.17 L487.69,184.24 L486.52,184.30 L485.35,184.36 L484.18,184.41 L483.01,184.45 L481.84,184.49 L480.67,184.52 L479.49,184.55 L478.32,184.57 L477.14,184.58 L475.97,184.59 L474.79,184.60 L473.62,184.60 L472.44,184.59 L471.27,184.57 L470.09,184.56 L468.92,184.53 L467.74,184.50 L466.57,184.46 L465.40,184.42 L464.23,184.37 L463.06,184.32 L461.89,184.26 L460.73,184.19 L459.56,184.12 L458.40,184.05 L457.24,183.96 L456.08,183.88 L454.93,183.78 L453.77,183.68 L452.62,183.58 L451.48,183.47 L450.33,183.35 L449.19,183.23 L448.05,183.10 L446.92,182.97 L445.78,182.83 L444.66,182.69 L443.53,182.54 L442.41,182.39 L441.30,182.23 L440.18,182.06 L439.08,181.89 L437.97,181.71 L436.87,181.53 L435.78,181.35 L434.69,181.16 L433.61,180.96 L432.53,180.76 L431.45,180.55 L430.39,180.34 L429.32,180.12 L428.27,179.90 L427.21,179.67 L426.17,179.44 L425.13,179.20 L424.09,178.96 L423.07,178.72 L422.05,178.47 L421.03,178.21 L420.02,177.95 L419.02,177.68 L418.02,177.41 L417.04,177.14 L416.06,176.86 L415.08,176.58 L414.11,176.29 L413.15,176.00 L412.20,175.70 L411.26,175.40 L410.32,175.10 L409.39,174.79 L408.47,174.48 L407.55,174.16 L406.65,173.84 L405.75,173.51 L404.86,173.18 L403.97,172.85 L403.10,172.51 L402.23,172.17 L401.38,171.83 L400.53,171.48 L399.68,171.13 L398.85,170.78 L398.03,170.42 L397.21,170.05 L396.41,169.69 L395.61,169.32 L394.82,168.95 L394.04,168.57 L393.27,168.20 L392.51,167.81 L391.76,167.43 L391.02,167.04 L390.28,166.65 L389.56,166.26 L388.84,165.86 L388.14,165.46 L387.44,165.06 L386.75,164.66 L386.07,164.25 L385.41,163.84 L384.75,163.43 L384.10,163.01 L383.46,162.60 L382.83,162.18 L382.21,161.76 L381.60,161.33 L381.00,160.91 L380.41,160.48 L379.83,160.05 L379.26,159.62 L378.69,159.18 L378.14,158.75 L377.60,158.31 L377.07,157.87 L376.55,157.43 L376.04,156.98 L375.53,156.54 L375.04,156.09 L374.56,155.65 L374.09,155.20 L373.63,154.75 L373.17,154.29 L372.73,153.84 L372.30,153.39 L371.88,152.93 L371.46,152.47 L371.06,152.01 L370.67,151.55 L370.28,151.09 L369.91,150.63 L369.55,150.17 L369.20,149.71 L368.85,149.24 L368.52,148.78 L368.20,148.31 L367.88,147.85 L367.58,147.38 L367.28,146.92 L367.00,146.45 L366.73,145.98 L366.46,145.51 L366.21,145.04 L365.96,144.57 L365.73,144.10 L365.50,143.63 L365.28,143.16 L365.08,142.69 L364.88,142.22 L364.69,141.75 L364.52,141.28 L364.35,140.81 L364.19,140.34 L364.04,139.87 L363.90,139.40 L363.77,138.93 L363.65,138.46 L363.53,138.00 L363.43,137.53 L363.34,137.06 L363.25,136.59 L363.18,136.12 L363.11,135.66 L363.05,135.19 L363.01,134.72 L362.97,134.26 L362.94,133.79 L362.92,133.33 L362.90,132.87 L362.90,132.40 L362.91,131.94 L362.92,131.48 L362.94,131.02 L362.97,130.56 L363.01,130.10 L363.06,129.64 L363.12,129.19 L363.18,128.73 L363.26,128.28 L363.34,127.82 L363.43,127.37 L363.53,126.92 L363.64,126.47 L363.75,126.02 L363.87,125.57 L364.01,125.13 L364.15,124.68 L364.29,124.24 L364.45,123.79 L364.61,123.35 L364.78,122.91 L364.96,122.48 L365.15,122.04 L365.34,121.60 L365.54,121.17 L365.75,120.74 L365.97,120.31 L366.19,119.88 L366.43,119.45 L366.66,119.02 L366.91,118.60 L367.16,118.17 L367.43,117.75 L367.69,117.33 L367.97,116.92 L368.25,116.50 L368.54,116.09 L368.84,115.67 L369.14,115.26 L369.45,114.85 L369.76,114.45 L370.09,114.04 L370.42,113.64 L370.75,113.24 L371.10,112.84 L371.45,112.44 L371.80,112.05 L372.16,111.65 L372.53,111.26 L372.91,110.87 L373.29,110.48 L373.68,110.10 L374.07,109.72 L374.47,109.33 L374.88,108.95 L375.29,108.58 L375.71,108.20 L376.13,107.83 L376.56,107.46 L376.99,107.09 L377.43,106.72 L377.88,106.36 L378.33,106.00 L378.79,105.64 L379.25,105.28 L379.72,104.93 L380.19,104.57 L380.67,104.22 L381.16,103.87 L381.65,103.53 L382.14,103.18 L382.64,102.84 L383.15,102.50 L383.66,102.17 L384.17,101.83 L384.69,101.50 L385.22,101.17 L385.75,100.84 L386.28,100.52 L386.82,100.20 L387.37,99.88 L387.91,99.56 L388.47,99.24 L389.03,98.93 L389.59,98.62 L390.16,98.31 L390.73,98.01 L391.30,97.70 L391.88,97.40 L392.47,97.10 L393.05,96.81 L393.65,96.51 L394.24,96.22 L394.84,95.94 L395.45,95.65 L396.06,95.37 L396.67,95.09 L397.29,94.81 L397.91,94.53 L398.53,94.26 L399.16,93.99 L399.79,93.72 L400.43,93.46 L401.06,93.19 L401.71,92.93 L402.35,92.67 L403.00,92.42 L403.66,92.17 L404.31,91.92 L404.97,91.67 L405.63,91.42 L406.30,91.18 L406.97,90.94 L407.64,90.71 L408.32,90.47 L409.00,90.24 L409.68,90.01 L410.36,89.78 L411.05,89.56 L411.74,89.34 L412.44,89.12 L413.13,88.90 L413.83,88.69 L414.53,88.48 L415.24,88.27 L415.95,88.07 L416.66,87.86 L417.37,87.66 L418.09,87.46 L418.80,87.27 L419.52,87.08 L420.25,86.89 L420.97,86.70 L421.70,86.52 L422.43,86.34 L423.16,86.16 L423.90,85.98 L424.63,85.81 L425.37,85.64 L426.11,85.47 L426.85,85.30 L427.60,85.14 L428.35,84.98 L429.10,84.82 L429.85,84.67 L430.60,84.51 L431.36,84.36 L432.11,84.22 L432.87,84.07 L433.63,83.93 L434.39,83.79 L435.16,83.66 L435.92,83.52 L436.69,83.39 L437.46,83.26 L438.23,83.14 L439.00,83.02 L439.77,82.90 L440.55,82.78 L441.32,82.67 L442.10,82.55 L442.88,82.44 L443.66,82.34 L444.44,82.23 L445.22,82.13 L446.01,82.03 L446.79,81.94 L447.58,81.85 L448.37,81.76 L449.16,81.67 L449.94,81.58 L450.74,81.50 L451.53,81.42 L452.32,81.35 L453.11,81.27 L453.91,81.20 L454.70,81.13 L455.50,81.07 L456.29,81.00 L457.09,80.94 L457.89,80.88 L458.69,80.83 L459.49,80.78 L460.29,80.73 L461.09,80.68 L461.89,80.64 L462.69,80.59 L463.49,80.56 L464.29,80.52 L465.10,80.49 L465.90,80.46 L466.70,80.43 L467.51,80.40 L468.31,80.38 L469.12,80.36 L469.92,80.34 Z" fill="#ff9900" stroke="#ff9900" stroke-width="0.6" stroke-linejoin="round"/>
<path d="M474.60,122.70 L469.92,80.34 L470.70,80.33 L471.48,80.32 L472.26,80.31 L473.04,80.30 L473.82,80.30 L474.60,80.30 Z" fill="#0000ff" stroke="#0000ff" stroke-width="0.6" stroke-linejoin="round"/>
<path d="M284.80,334.54 L284.78,335.50 L284.73,336.47 L284.63,337.45 L284.50,338.42 L284.34,339.40 L284.13,340.38 L283.89,341.35 L283.60,342.34 L283.28,343.32 L282.92,344.30 L282.52,345.28 L282.08,346.26 L281.60,347.24 L281.08,348.22 L280.52,349.20 L279.92,350.17 L279.27,351.15 L278.59,352.12 L277.87,353.08 L277.10,354.05 L276.30,355.01 L275.45,355.96 L274.56,356.92 L273.63,357.86 L272.66,358.80 L271.65,359.74 L270.59,360.66 L269.50,361.58 L268.36,362.50 L267.18,363.40 L265.97,364.30 L264.71,365.19 L263.41,366.07 L262.07,366.94 L260.69,367.79 L259.27,368.64 L257.82,369.48 L256.32,370.31 L254.79,371.12 L253.21,371.92 L251.60,372.71 L249.96,373.49 L248.27,374.25 L246.55,375.00 L244.79,375.73 L243.00,376.45 L241.18,377.15 L239.32,377.84 L237.42,378.51 L235.50,379.16 L233.54,379.80 L231.55,380.42 L229.53,381.02 L227.49,381.60 L225.41,382.16 L223.31,382.71 L221.17,383.23 L219.02,383.74 L216.84,384.22 L214.63,384.69 L212.40,385.13 L210.15,385.55 L207.88,385.95 L205.59,386.33 L203.28,386.69 L200.95,387.03 L198.60,387.34 L196.24,387.63 L193.87,387.90 L191.48,388.14 L189.08,388.37 L186.67,388.57 L184.25,388.74 L181.82,388.89 L179.38,389.02 L176.94,389.12 L174.49,389.20 L172.04,389.26 L169.59,389.29 L167.13,389.30 L164.68,389.29 L162.23,389.25 L159.78,389.18 L157.33,389.09 L154.89,388.98 L152.46,388.85 L150.03,388.69 L147.61,388.51 L145.20,388.30 L142.81,388.07 L140.42,387.82 L138.05,387.55 L135.70,387.25 L133.35,386.93 L131.03,386.59 L128.73,386.22 L126.44,385.84 L124.17,385.43 L121.93,385.00 L123.15,412.82 L125.34,413.27 L127.54,413.70 L129.77,414.10 L132.01,414.48 L134.28,414.84 L136.55,415.18 L138.85,415.49 L141.15,415.78 L143.47,416.04 L145.81,416.28 L148.15,416.50 L150.50,416.69 L152.86,416.86 L155.23,417.00 L157.61,417.11 L159.99,417.21 L162.37,417.27 L164.76,417.31 L167.14,417.33 L169.53,417.32 L171.92,417.29 L174.30,417.23 L176.68,417.14 L179.06,417.04 L181.43,416.90 L183.79,416.74 L186.15,416.56 L188.49,416.35 L190.83,416.12 L193.15,415.86 L195.47,415.58 L197.76,415.27 L200.05,414.95 L202.31,414.59 L204.56,414.22 L206.79,413.82 L209.01,413.40 L211.20,412.96 L213.37,412.49 L215.52,412.00 L217.64,411.49 L219.74,410.96 L221.82,410.41 L223.87,409.84 L225.89,409.25 L227.89,408.64 L229.86,408.01 L231.80,407.36 L233.71,406.69 L235.58,406.00 L237.43,405.30 L239.25,404.58 L241.03,403.84 L242.78,403.09 L244.49,402.32 L246.17,401.53 L247.82,400.73 L249.43,399.91 L251.00,399.08 L252.54,398.24 L254.04,397.39 L255.50,396.52 L256.93,395.64 L258.32,394.74 L259.67,393.84 L260.98,392.92 L262.25,392.00 L263.48,391.06 L264.68,390.12 L265.83,389.17 L266.94,388.21 L268.02,387.24 L269.05,386.26 L270.05,385.28 L271.00,384.28 L271.92,383.29 L272.79,382.29 L273.63,381.28 L274.42,380.27 L275.18,379.25 L275.89,378.23 L276.57,377.21 L277.20,376.18 L277.80,375.15 L278.35,374.12 L278.87,373.09 L279.35,372.05 L279.79,371.02 L280.19,369.98 L280.55,368.94 L280.87,367.91 L281.16,366.87 L281.40,365.84 L281.61,364.80 L281.78,363.77 L281.92,362.74 L282.02,361.71 L282.08,360.69 L282.11,359.66 Z" fill="url(#gS31)" stroke="url(#gS31)" stroke-width="0.7"/>
<path d="M121.93,385.00 L119.72,384.55 L117.53,384.08 L115.37,383.60 L113.23,383.09 L111.11,382.56 L109.03,382.01 L106.97,381.45 L104.94,380.86 L102.94,380.26 L100.97,379.64 L99.03,379.00 L97.12,378.35 L95.24,377.68 L93.40,376.99 L91.59,376.29 L89.82,375.57 L88.08,374.84 L86.37,374.09 L84.70,373.33 L83.07,372.55 L81.48,371.77 L79.92,370.97 L78.40,370.15 L76.92,369.33 L75.47,368.49 L74.07,367.65 L72.70,366.79 L71.38,365.92 L70.09,365.05 L68.85,364.16 L67.64,363.27 L66.48,362.37 L65.35,361.46 L64.27,360.54 L63.22,359.62 L62.22,358.69 L61.26,357.75 L60.34,356.81 L59.46,355.86 L58.62,354.91 L57.82,353.95 L57.06,352.99 L56.35,352.03 L55.67,351.07 L55.03,350.10 L54.44,349.13 L53.88,348.15 L53.37,347.18 L52.89,346.20 L52.46,345.23 L52.06,344.25 L51.70,343.27 L51.38,342.30 L51.10,341.32 L50.86,340.35 L50.66,339.37 L50.49,338.40 L50.36,337.43 L50.27,336.46 L50.22,335.50 L50.20,334.54 L52.89,359.66 L52.92,360.68 L52.98,361.70 L53.08,362.72 L53.21,363.75 L53.38,364.78 L53.59,365.80 L53.84,366.83 L54.12,367.87 L54.44,368.90 L54.80,369.93 L55.19,370.96 L55.63,371.99 L56.10,373.02 L56.61,374.05 L57.16,375.07 L57.75,376.10 L58.38,377.12 L59.05,378.14 L59.75,379.16 L60.50,380.17 L61.29,381.17 L62.11,382.18 L62.98,383.18 L63.89,384.17 L64.83,385.15 L65.82,386.13 L66.84,387.11 L67.91,388.07 L69.01,389.03 L70.15,389.98 L71.33,390.92 L72.55,391.85 L73.81,392.78 L75.11,393.69 L76.45,394.59 L77.82,395.48 L79.24,396.36 L80.68,397.22 L82.17,398.08 L83.69,398.92 L85.25,399.75 L86.85,400.56 L88.48,401.36 L90.14,402.15 L91.84,402.92 L93.57,403.67 L95.34,404.41 L97.14,405.13 L98.97,405.84 L100.83,406.52 L102.72,407.19 L104.64,407.84 L106.60,408.48 L108.57,409.09 L110.58,409.68 L112.61,410.26 L114.67,410.81 L116.76,411.34 L118.87,411.86 L121.00,412.35 L123.15,412.82 Z" fill="url(#gS32)" stroke="url(#gS32)" stroke-width="0.7"/>
<path d="M167.50,325.30 L167.50,280.77 L168.35,280.77 L169.19,280.78 L170.04,280.78 L170.88,280.79 L171.73,280.81 L172.57,280.82 L173.41,280.84 L174.26,280.86 L175.10,280.89 L175.95,280.91 L176.79,280.94 L177.63,280.98 L178.47,281.01 L179.32,281.05 L180.16,281.09 L181.00,281.14 L181.84,281.18 L182.68,281.23 L183.52,281.28 L184.36,281.34 L185.20,281.40 L186.03,281.46 L186.87,281.52 L187.71,281.59 L188.54,281.66 L189.37,281.73 L190.21,281.81 L191.04,281.89 L191.87,281.97 L192.70,282.05 L193.53,282.14 L194.36,282.23 L195.19,282.32 L196.01,282.41 L196.84,282.51 L197.66,282.61 L198.48,282.72 L199.30,282.82 L200.12,282.93 L200.94,283.04 L201.76,283.16 L202.58,283.28 L203.39,283.40 L204.20,283.52 L205.01,283.65 L205.82,283.78 L206.63,283.91 L207.44,284.04 L208.24,284.18 L209.05,284.32 L209.85,284.46 L210.65,284.61 L211.44,284.76 L212.24,284.91 L213.03,285.07 L213.83,285.22 L214.62,285.38 L215.40,285.55 L216.19,285.71 L216.97,285.88 L217.75,286.05 L218.53,286.23 L219.31,286.40 L220.09,286.58 L220.86,286.77 L221.63,286.95 L222.40,287.14 L223.16,287.33 L223.93,287.52 L224.69,287.72 L225.45,287.92 L226.20,288.12 L226.95,288.33 L227.70,288.54 L228.45,288.75 L229.20,288.96 L229.94,289.17 L230.68,289.39 L231.41,289.62 L232.15,289.84 L232.88,290.07 L233.61,290.30 L234.33,290.53 L235.05,290.76 L235.77,291.00 L236.49,291.24 L237.20,291.49 L237.91,291.73 L238.61,291.98 L239.31,292.23 L240.01,292.49 L240.71,292.75 L241.40,293.01 L242.09,293.27 L242.77,293.53 L243.45,293.80 L244.13,294.07 L244.80,294.35 L245.47,294.62 L246.14,294.90 L246.80,295.18 L247.46,295.47 L248.12,295.75 L248.77,296.04 L249.41,296.34 L250.06,296.63 L250.69,296.93 L251.33,297.23 L251.96,297.53 L252.58,297.84 L253.20,298.15 L253.82,298.46 L254.43,298.77 L255.04,299.09 L255.65,299.40 L256.24,299.72 L256.84,300.05 L257.43,300.37 L258.01,300.70 L258.59,301.03 L259.17,301.37 L259.74,301.70 L260.30,302.04 L260.87,302.38 L261.42,302.73 L261.97,303.07 L262.52,303.42 L263.06,303.77 L263.59,304.13 L264.12,304.48 L264.65,304.84 L265.16,305.20 L265.68,305.57 L266.19,305.93 L266.69,306.30 L267.18,306.67 L267.68,307.04 L268.16,307.42 L268.64,307.80 L269.11,308.18 L269.58,308.56 L270.04,308.94 L270.50,309.33 L270.95,309.72 L271.39,310.11 L271.83,310.51 L272.26,310.90 L272.69,311.30 L273.11,311.70 L273.52,312.10 L273.92,312.51 L274.32,312.91 L274.72,313.32 L275.10,313.73 L275.48,314.15 L275.86,314.56 L276.22,314.98 L276.58,315.40 L276.93,315.82 L277.28,316.24 L277.62,316.67 L277.95,317.10 Z" fill="#92d050" stroke="#92d050" stroke-width="0.6" stroke-linejoin="round"/>
<path d="M167.50,325.30 L277.95,317.10 L278.27,317.52 L278.59,317.96 L278.90,318.39 L279.20,318.82 L279.50,319.26 L279.79,319.70 L280.07,320.14 L280.34,320.58 L280.61,321.02 L280.86,321.47 L281.12,321.92 L281.36,322.37 L281.59,322.82 L281.82,323.27 L282.04,323.72 L282.25,324.18 L282.45,324.64 L282.65,325.09 L282.84,325.55 L283.01,326.02 L283.18,326.48 L283.35,326.94 L283.50,327.41 L283.65,327.88 L283.78,328.35 L283.91,328.82 L284.03,329.29 L284.15,329.76 L284.25,330.23 L284.34,330.71 L284.43,331.18 L284.51,331.66 L284.57,332.14 L284.63,332.62 L284.68,333.10 L284.73,333.58 L284.76,334.06 L284.78,334.54 L284.79,335.03 L284.80,335.51 L284.80,336.00 L284.78,336.49 L284.76,336.97 L284.73,337.46 L284.69,337.95 L284.64,338.44 L284.57,338.93 L284.51,339.42 L284.43,339.91 L284.34,340.40 L284.24,340.89 L284.13,341.38 L284.01,341.88 L283.88,342.37 L283.75,342.86 L283.60,343.35 L283.44,343.85 L283.27,344.34 L283.10,344.83 L282.91,345.33 L282.71,345.82 L282.51,346.31 L282.29,346.81 L282.06,347.30 L281.82,347.79 L281.58,348.29 L281.32,348.78 L281.05,349.27 L280.77,349.76 L280.49,350.25 L280.19,350.74 L279.88,351.23 L279.56,351.72 L279.23,352.21 L278.89,352.70 L278.54,353.19 L278.18,353.67 L277.81,354.16 L277.43,354.64 L277.04,355.13 L276.64,355.61 L276.22,356.09 L275.80,356.57 L275.37,357.05 L274.92,357.53 L274.47,358.01 L274.00,358.48 L273.53,358.96 L273.04,359.43 L272.55,359.90 L272.04,360.37 L271.53,360.84 L271.00,361.31 L270.46,361.77 L269.91,362.24 L269.36,362.70 L268.79,363.16 L268.21,363.62 L267.62,364.07 L267.02,364.52 L266.41,364.98 L265.79,365.42 L265.16,365.87 L264.52,366.32 L263.87,366.76 L263.21,367.20 L262.54,367.64 L261.86,368.07 L261.17,368.50 L260.46,368.93 L259.75,369.36 L259.03,369.78 L258.30,370.21 L257.56,370.62 L256.81,371.04 L256.05,371.45 L255.28,371.86 L254.50,372.27 L253.71,372.67 L252.91,373.07 L252.10,373.47 L251.29,373.86 L250.46,374.25 L249.62,374.64 L248.78,375.02 L247.92,375.40 L247.06,375.78 L246.18,376.15 L245.30,376.52 L244.41,376.89 L243.51,377.25 L242.60,377.60 L241.68,377.96 L240.76,378.31 L239.82,378.65 L238.88,378.99 L237.93,379.33 L236.97,379.66 L236.00,379.99 L235.03,380.32 L234.04,380.64 L233.05,380.95 L232.05,381.26 L231.05,381.57 L230.03,381.87 L229.01,382.17 L227.98,382.46 L226.94,382.75 L225.90,383.03 L224.85,383.31 L223.79,383.58 L222.72,383.85 L221.65,384.12 L220.57,384.37 L219.49,384.63 L218.40,384.88 L217.30,385.12 L216.20,385.36 L215.09,385.59 L213.97,385.82 L212.85,386.04 L211.73,386.26 L210.59,386.47 L209.46,386.68 L208.31,386.88 L207.17,387.07 L206.01,387.27 L204.86,387.45 L203.69,387.63 L202.53,387.80 L201.36,387.97 L200.18,388.13 L199.00,388.29 L197.82,388.44 L196.63,388.59 L195.44,388.72 L194.25,388.86 L193.05,388.99 L191.85,389.11 L190.64,389.22 L189.44,389.34 L188.23,389.44 L187.01,389.54 L185.80,389.63 L184.58,389.72 L183.36,389.80 L182.14,389.87 L180.92,389.94 L179.69,390.00 L178.47,390.06 L177.24,390.11 L176.01,390.16 L174.78,390.20 L173.55,390.23 L172.31,390.26 L171.08,390.28 L169.85,390.29 L168.61,390.30 L167.38,390.30 L166.15,390.30 L164.91,390.29 L163.68,390.27 L162.45,390.25 L161.22,390.22 L159.99,390.19 L158.75,390.15 L157.53,390.10 L156.30,390.05 L155.07,389.99 L153.85,389.93 L152.62,389.86 L151.40,389.78 L150.18,389.70 L148.97,389.61 L147.75,389.52 L146.54,389.42 L145.33,389.31 L144.12,389.20 L142.92,389.09 L141.72,388.96 L140.52,388.83 L139.33,388.70 L138.14,388.56 L136.95,388.41 L135.77,388.26 L134.59,388.10 L133.42,387.94 L132.25,387.77 L131.08,387.59 L129.92,387.41 L128.76,387.23 L127.61,387.04 L126.46,386.84 L125.32,386.64 L124.19,386.43 L123.06,386.22 L121.93,386.00 Z" fill="#31829b" stroke="#31829b" stroke-width="0.6" stroke-linejoin="round"/>
<path d="M167.50,325.30 L121.93,386.00 L120.81,385.78 L119.70,385.55 L118.59,385.31 L117.49,385.07 L116.39,384.83 L115.30,384.58 L114.22,384.33 L113.14,384.07 L112.07,383.80 L111.01,383.53 L109.95,383.26 L108.90,382.98 L107.86,382.69 L106.82,382.40 L105.79,382.11 L104.77,381.81 L103.76,381.51 L102.76,381.20 L101.76,380.89 L100.77,380.58 L99.78,380.25 L98.81,379.93 L97.84,379.60 L96.89,379.27 L95.94,378.93 L95.00,378.59 L94.06,378.24 L93.14,377.89 L92.22,377.54 L91.32,377.18 L90.42,376.82 L89.53,376.45 L88.65,376.08 L87.78,375.71 L86.91,375.33 L86.06,374.95 L85.22,374.57 L84.38,374.18 L83.56,373.79 L82.74,373.39 L81.93,373.00 L81.14,372.60 L80.35,372.19 L79.57,371.78 L78.80,371.37 L78.05,370.96 L77.30,370.54 L76.56,370.13 L75.83,369.70 L75.11,369.28 L74.40,368.85 L73.70,368.42 L73.01,367.99 L72.33,367.55 L71.66,367.11 L71.01,366.67 L70.36,366.23 L69.72,365.79 L69.09,365.34 L68.47,364.89 L67.86,364.44 L67.27,363.98 L66.68,363.53 L66.10,363.07 L65.54,362.61 L64.98,362.15 L64.43,361.69 L63.90,361.22 L63.37,360.75 L62.86,360.28 L62.36,359.81 L61.86,359.34 L61.38,358.87 L60.91,358.39 L60.44,357.92 L59.99,357.44 L59.55,356.96 L59.12,356.48 L58.70,356.00 L58.29,355.52 L57.89,355.04 L57.50,354.55 L57.12,354.07 L56.75,353.58 L56.39,353.09 L56.04,352.61 L55.71,352.12 L55.38,351.63 L55.06,351.14 L54.76,350.65 L54.46,350.16 L54.17,349.67 L53.90,349.18 L53.63,348.68 L53.38,348.19 L53.13,347.70 L52.89,347.21 L52.67,346.71 L52.45,346.22 L52.25,345.73 L52.05,345.23 L51.87,344.74 L51.69,344.25 L51.53,343.75 L51.37,343.26 L51.23,342.77 L51.09,342.28 L50.97,341.78 L50.85,341.29 L50.74,340.80 L50.65,340.31 L50.56,339.82 L50.48,339.33 L50.41,338.84 L50.35,338.35 L50.31,337.86 L50.27,337.37 L50.24,336.88 L50.21,336.39 L50.20,335.91 L50.20,335.42 L50.21,334.94 L50.22,334.45 L50.25,333.97 L50.28,333.49 L50.33,333.01 L50.38,332.53 L50.44,332.05 L50.51,331.57 L50.59,331.09 L50.67,330.62 L50.77,330.14 L50.87,329.67 L50.99,329.20 L51.11,328.73 L51.24,328.26 L51.38,327.79 L51.53,327.32 L51.68,326.86 L51.85,326.39 L52.02,325.93 L52.20,325.47 L52.39,325.01 L52.58,324.55 L52.79,324.09 L53.00,323.64 L53.22,323.18 L53.45,322.73 L53.69,322.28 L53.93,321.83 L54.18,321.39 L54.44,320.94 L54.71,320.50 L54.98,320.06 L55.27,319.62 L55.56,319.18 L55.85,318.74 L56.16,318.31 L56.47,317.87 L56.79,317.44 L57.11,317.02 L57.44,316.59 L57.78,316.16 L58.13,315.74 L58.48,315.32 L58.85,314.90 L59.21,314.48 L59.59,314.07 L59.97,313.66 L60.36,313.25 L60.75,312.84 L61.15,312.43 L61.56,312.03 L61.97,311.63 L62.39,311.23 L62.82,310.83 L63.25,310.43 L63.69,310.04 L64.13,309.65 L64.58,309.26 L65.04,308.87 L65.50,308.49 L65.97,308.11 L66.45,307.73 L66.93,307.35 L67.41,306.98 L67.91,306.60 L68.40,306.23 L68.91,305.87 L69.42,305.50 L69.93,305.14 L70.45,304.78 L70.98,304.42 L71.51,304.06 L72.04,303.71 L72.58,303.36 L73.13,303.01 L73.68,302.67 L74.24,302.32 L74.80,301.98 L75.36,301.64 L75.94,301.31 L76.51,300.97 L77.09,300.64 L77.68,300.31 L78.27,299.99 L78.86,299.67 L79.46,299.35 L80.07,299.03 L80.68,298.71 L81.29,298.40 L81.91,298.09 L82.53,297.78 L83.16,297.48 L83.79,297.17 L84.42,296.88 L85.06,296.58 L85.70,296.28 L86.35,295.99 L87.00,295.70 L87.66,295.42 L88.32,295.13 L88.98,294.85 L89.65,294.57 L90.32,294.30 L90.99,294.02 L91.67,293.75 L92.35,293.49 L93.04,293.22 L93.72,292.96 L94.42,292.70 L95.11,292.44 L95.81,292.19 L96.51,291.94 L97.22,291.69 L97.93,291.44 L98.64,291.20 L99.36,290.96 L100.08,290.72 L100.80,290.49 L101.52,290.26 L102.25,290.03 L102.98,289.80 L103.72,289.58 L104.45,289.35 L105.19,289.14 L105.94,288.92 L106.68,288.71 L107.43,288.50 L108.18,288.29 L108.93,288.09 L109.69,287.88 L110.45,287.69 L111.21,287.49 L111.97,287.30 L112.74,287.11 L113.51,286.92 L114.28,286.73 L115.05,286.55 L115.83,286.37 L116.60,286.20 L117.38,286.02 L118.16,285.85 L118.95,285.68 L119.73,285.52 L120.52,285.36 L121.31,285.20 L122.11,285.04 L122.90,284.88 L123.70,284.73 L124.49,284.59 L125.29,284.44 L126.09,284.30 L126.90,284.16 L127.70,284.02 L128.51,283.89 L129.32,283.75 L130.13,283.63 L130.94,283.50 L131.75,283.38 L132.57,283.26 L133.38,283.14 L134.20,283.02 L135.02,282.91 L135.84,282.80 L136.66,282.70 L137.48,282.60 L138.31,282.49 L139.13,282.40 L139.96,282.30 L140.78,282.21 L141.61,282.12 L142.44,282.04 L143.27,281.95 L144.10,281.87 L144.94,281.79 L145.77,281.72 L146.60,281.65 L147.44,281.58 L148.27,281.51 L149.11,281.45 L149.95,281.39 L150.79,281.33 L151.62,281.28 L152.46,281.22 L153.30,281.17 L154.14,281.13 L154.99,281.08 L155.83,281.04 L156.67,281.01 L157.51,280.97 Z" fill="#ff9900" stroke="#ff9900" stroke-width="0.6" stroke-linejoin="round"/>
<path d="M167.50,325.30 L157.51,280.97 L158.34,280.94 L159.17,280.91 L160.01,280.88 L160.84,280.86 L161.67,280.84 L162.50,280.82 L163.34,280.81 L164.17,280.79 L165.00,280.78 L165.83,280.78 L166.67,280.77 L167.50,280.77 Z" fill="#0000ff" stroke="#0000ff" stroke-width="0.6" stroke-linejoin="round"/>
<path d="M588.90,330.38 L588.88,331.26 L588.84,332.14 L588.76,333.03 L588.65,333.91 L588.51,334.80 L588.33,335.69 L588.13,336.58 L587.89,337.47 L587.62,338.37 L584.95,363.35 L585.22,362.41 L585.46,361.47 L585.67,360.52 L585.85,359.59 L586.00,358.65 L586.11,357.71 L586.20,356.78 L586.25,355.84 L586.27,354.91 Z" fill="url(#gS40)" stroke="url(#gS40)" stroke-width="0.7"/>
<path d="M587.62,338.37 L587.29,339.32 L586.92,340.28 L586.51,341.24 L586.07,342.19 L585.58,343.15 L585.06,344.11 L584.50,345.06 L583.89,346.01 L583.25,346.96 L582.57,347.90 L581.85,348.85 L581.08,349.79 L580.28,350.72 L579.44,351.65 L578.55,352.58 L577.63,353.50 L576.67,354.41 L575.66,355.32 L574.62,356.22 L573.53,357.12 L572.41,358.01 L571.25,358.89 L570.04,359.76 L568.80,360.62 L567.52,361.48 L566.19,362.32 L564.83,363.16 L563.43,363.98 L562.00,364.79 L560.52,365.59 L559.01,366.38 L557.46,367.16 L555.87,367.93 L554.25,368.68 L552.59,369.41 L550.90,370.14 L549.17,370.85 L547.41,371.54 L545.61,372.22 L543.79,372.88 L541.93,373.53 L540.03,374.16 L538.11,374.78 L536.16,375.37 L534.18,375.95 L532.17,376.51 L530.13,377.05 L528.07,377.58 L525.98,378.08 L523.86,378.57 L521.72,379.03 L519.56,379.48 L517.38,379.90 L515.17,380.30 L512.95,380.69 L510.70,381.05 L508.44,381.39 L506.16,381.71 L503.87,382.00 L501.56,382.28 L499.24,382.53 L496.90,382.76 L494.55,382.97 L492.20,383.15 L489.83,383.31 L487.46,383.45 L485.08,383.57 L482.69,383.66 L480.30,383.73 L477.91,383.77 L475.52,383.79 L473.12,383.79 L470.73,383.77 L468.34,383.72 L465.95,383.64 L463.56,383.55 L461.19,383.43 L458.81,383.29 L456.45,383.13 L454.09,382.94 L451.75,382.73 L449.42,382.49 L447.09,382.24 L444.79,381.96 L442.49,381.66 L440.22,381.34 L437.96,381.00 L435.72,380.63 L433.50,380.25 L431.29,379.84 L429.11,379.41 L426.95,378.96 L424.82,378.49 L422.71,378.01 L420.62,377.50 L418.56,376.97 L416.53,376.43 L414.52,375.87 L412.55,375.28 L410.60,374.68 L408.68,374.07 L406.79,373.44 L404.94,372.79 L403.12,372.12 L401.32,371.44 L399.57,370.74 L397.85,370.03 L396.16,369.30 L394.50,368.56 L392.89,367.81 L391.31,367.05 L389.76,366.27 L388.26,365.47 L386.79,364.67 L385.35,363.86 L383.96,363.03 L382.61,362.20 L381.29,361.35 L380.01,360.49 L378.78,359.63 L377.58,358.76 L376.42,357.88 L375.30,356.99 L374.22,356.09 L373.18,355.19 L372.19,354.28 L371.23,353.36 L370.31,352.44 L369.43,351.51 L368.60,350.58 L367.80,349.65 L367.04,348.71 L366.33,347.76 L365.65,346.82 L365.01,345.87 L364.42,344.92 L367.07,370.27 L367.66,371.27 L368.29,372.27 L368.96,373.27 L369.66,374.26 L370.41,375.25 L371.19,376.24 L372.02,377.22 L372.88,378.20 L373.78,379.17 L374.73,380.13 L375.71,381.09 L376.73,382.04 L377.78,382.99 L378.88,383.92 L380.02,384.85 L381.19,385.77 L382.40,386.68 L383.66,387.58 L384.94,388.47 L386.27,389.35 L387.63,390.22 L389.03,391.07 L390.47,391.92 L391.95,392.75 L393.45,393.57 L395.00,394.38 L396.58,395.17 L398.19,395.95 L399.84,396.71 L401.52,397.46 L403.24,398.19 L404.99,398.90 L406.77,399.60 L408.58,400.29 L410.42,400.95 L412.29,401.60 L414.19,402.23 L416.11,402.84 L418.07,403.43 L420.05,404.00 L422.06,404.55 L424.09,405.08 L426.15,405.60 L428.23,406.09 L430.33,406.56 L432.45,407.01 L434.60,407.43 L436.76,407.84 L438.94,408.22 L441.14,408.58 L443.36,408.92 L445.59,409.23 L447.83,409.52 L450.09,409.79 L452.36,410.04 L454.65,410.26 L456.94,410.45 L459.24,410.63 L461.55,410.77 L463.86,410.90 L466.18,411.00 L468.50,411.07 L470.83,411.12 L473.16,411.15 L475.49,411.15 L477.82,411.13 L480.15,411.08 L482.47,411.01 L484.79,410.92 L487.11,410.79 L489.42,410.65 L491.72,410.48 L494.01,410.29 L496.30,410.07 L498.57,409.83 L500.83,409.57 L503.08,409.28 L505.31,408.97 L507.53,408.63 L509.73,408.28 L511.91,407.90 L514.08,407.50 L516.23,407.07 L518.35,406.63 L520.46,406.16 L522.54,405.67 L524.60,405.16 L526.64,404.63 L528.65,404.08 L530.64,403.51 L532.60,402.93 L534.53,402.32 L536.43,401.69 L538.31,401.05 L540.15,400.39 L541.97,399.71 L543.75,399.01 L545.50,398.30 L547.22,397.57 L548.91,396.82 L550.56,396.06 L552.18,395.29 L553.77,394.50 L555.32,393.69 L556.83,392.87 L558.31,392.04 L559.75,391.20 L561.16,390.35 L562.53,389.48 L563.86,388.60 L565.15,387.71 L566.41,386.82 L567.63,385.91 L568.81,384.99 L569.95,384.06 L571.05,383.13 L572.12,382.19 L573.14,381.23 L574.13,380.28 L575.08,379.31 L575.99,378.34 L576.85,377.37 L577.68,376.39 L578.48,375.40 L579.23,374.41 L579.94,373.42 L580.61,372.42 L581.25,371.42 L581.85,370.42 L582.40,369.41 L582.92,368.40 L583.40,367.39 L583.85,366.38 L584.25,365.37 L584.62,364.36 L584.95,363.35 Z" fill="url(#gS41)" stroke="url(#gS41)" stroke-width="0.7"/>
<path d="M364.42,344.92 L363.88,344.01 L363.39,343.10 L362.93,342.19 L362.50,341.28 L362.12,340.36 L361.76,339.45 L361.44,338.54 L361.16,337.63 L360.91,336.72 L360.69,335.81 L360.51,334.90 L360.36,333.99 L360.25,333.09 L360.16,332.18 L360.12,331.28 L360.10,330.38 L362.73,354.91 L362.75,355.86 L362.81,356.82 L362.89,357.77 L363.01,358.73 L363.17,359.69 L363.35,360.65 L363.57,361.61 L363.82,362.57 L364.11,363.53 L364.43,364.50 L364.78,365.46 L365.17,366.42 L365.59,367.39 L366.05,368.35 L366.54,369.31 L367.07,370.27 Z" fill="url(#gS42)" stroke="url(#gS42)" stroke-width="0.7"/>
<path d="M474.50,321.40 L474.50,277.97 L475.32,277.97 L476.15,277.98 L476.97,277.98 L477.79,277.99 L478.62,278.01 L479.44,278.02 L480.26,278.04 L481.08,278.06 L481.91,278.08 L482.73,278.11 L483.55,278.14 L484.37,278.17 L485.19,278.21 L486.01,278.24 L486.83,278.28 L487.65,278.33 L488.47,278.37 L489.29,278.42 L490.10,278.47 L490.92,278.53 L491.74,278.58 L492.55,278.64 L493.37,278.70 L494.18,278.77 L495.00,278.84 L495.81,278.91 L496.62,278.98 L497.43,279.06 L498.24,279.14 L499.05,279.22 L499.86,279.30 L500.66,279.39 L501.47,279.48 L502.27,279.57 L503.08,279.67 L503.88,279.76 L504.68,279.86 L505.48,279.97 L506.28,280.07 L507.08,280.18 L507.87,280.30 L508.67,280.41 L509.46,280.53 L510.25,280.65 L511.04,280.77 L511.83,280.90 L512.62,281.02 L513.41,281.16 L514.19,281.29 L514.97,281.43 L515.75,281.57 L516.53,281.71 L517.31,281.85 L518.08,282.00 L518.86,282.15 L519.63,282.30 L520.40,282.46 L521.17,282.62 L521.93,282.78 L522.70,282.94 L523.46,283.11 L524.22,283.28 L524.97,283.45 L525.73,283.63 L526.48,283.80 L527.23,283.99 L527.98,284.17 L528.73,284.35 L529.47,284.54 L530.21,284.73 L530.95,284.93 L531.69,285.12 L532.42,285.32 L533.15,285.53 L533.88,285.73 L534.61,285.94 L535.33,286.15 L536.05,286.36 L536.77,286.58 L537.48,286.80 L538.19,287.02 L538.90,287.24 L539.61,287.47 L540.31,287.70 L541.01,287.93 L541.71,288.16 L542.40,288.40 L543.09,288.64 L543.78,288.88 L544.47,289.13 L545.15,289.37 L545.82,289.62 L546.50,289.88 L547.17,290.13 L547.84,290.39 L548.50,290.65 L549.16,290.92 L549.82,291.18 L550.47,291.45 L551.12,291.72 L551.77,292.00 L552.41,292.27 L553.05,292.55 L553.68,292.83 L554.31,293.12 L554.94,293.40 L555.56,293.69 L556.18,293.99 L556.79,294.28 L557.40,294.58 L558.01,294.88 L558.61,295.18 L559.21,295.48 L559.80,295.79 L560.39,296.10 L560.97,296.41 L561.55,296.73 L562.13,297.05 L562.70,297.37 L563.26,297.69 L563.82,298.01 L564.38,298.34 L564.93,298.67 L565.48,299.00 L566.02,299.34 L566.56,299.67 L567.09,300.01 L567.61,300.35 L568.14,300.70 L568.65,301.05 L569.16,301.39 L569.67,301.75 L570.17,302.10 L570.67,302.45 L571.16,302.81 L571.64,303.17 L572.12,303.54 L572.60,303.90 L573.06,304.27 L573.53,304.64 L573.98,305.01 L574.43,305.39 L574.88,305.76 L575.32,306.14 L575.75,306.52 L576.18,306.90 L576.60,307.29 L577.01,307.68 L577.42,308.07 L577.83,308.46 L578.22,308.85 L578.61,309.25 L579.00,309.65 L579.37,310.05 L579.75,310.45 L580.11,310.85 L580.47,311.26 L580.82,311.67 L581.16,312.08 L581.50,312.49 L581.83,312.90 L582.16,313.32 L582.47,313.74 L582.79,314.16 L583.09,314.58 L583.38,315.00 L583.67,315.42 L583.96,315.85 L584.23,316.28 L584.50,316.71 L584.76,317.14 L585.01,317.58 L585.26,318.01 L585.49,318.45 L585.73,318.89 L585.95,319.33 L586.16,319.77 L586.37,320.21 L586.57,320.66 L586.76,321.10 L586.95,321.55 L587.12,322.00 L587.29,322.45 L587.45,322.90 L587.60,323.36 L587.75,323.81 L587.88,324.27 L588.01,324.73 L588.13,325.19 L588.24,325.65 L588.34,326.11 L588.43,326.57 L588.52,327.03 L588.60,327.50 L588.67,327.96 L588.72,328.43 L588.78,328.90 L588.82,329.37 L588.85,329.84 L588.88,330.31 L588.89,330.78 L588.90,331.25 L588.90,331.72 L588.89,332.20 L588.87,332.67 L588.84,333.14 L588.80,333.62 L588.75,334.10 L588.70,334.57 L588.63,335.05 L588.55,335.53 L588.47,336.01 L588.38,336.49 L588.27,336.97 L588.16,337.44 L588.04,337.92 L587.91,338.40 L587.77,338.88 L587.62,339.37 Z" fill="#92d050" stroke="#92d050" stroke-width="0.6" stroke-linejoin="round"/>
<path d="M474.50,321.40 L587.62,339.37 L587.45,339.85 L587.28,340.33 L587.11,340.81 L586.92,341.29 L586.72,341.77 L586.51,342.25 L586.29,342.73 L586.06,343.21 L585.82,343.69 L585.57,344.17 L585.32,344.65 L585.05,345.13 L584.77,345.61 L584.48,346.08 L584.18,346.56 L583.88,347.04 L583.56,347.51 L583.23,347.99 L582.89,348.47 L582.54,348.94 L582.18,349.41 L581.82,349.89 L581.44,350.36 L581.05,350.83 L580.65,351.30 L580.24,351.77 L579.82,352.23 L579.39,352.70 L578.95,353.17 L578.50,353.63 L578.05,354.09 L577.58,354.55 L577.10,355.01 L576.61,355.47 L576.11,355.93 L575.59,356.38 L575.07,356.84 L574.54,357.29 L574.00,357.74 L573.45,358.19 L572.89,358.63 L572.32,359.08 L571.74,359.52 L571.15,359.96 L570.55,360.40 L569.94,360.83 L569.32,361.27 L568.69,361.70 L568.05,362.13 L567.40,362.56 L566.73,362.98 L566.06,363.40 L565.38,363.82 L564.70,364.24 L564.00,364.65 L563.29,365.06 L562.57,365.47 L561.84,365.88 L561.10,366.28 L560.36,366.68 L559.60,367.08 L558.83,367.47 L558.06,367.86 L557.27,368.25 L556.48,368.64 L555.68,369.02 L554.87,369.40 L554.04,369.77 L553.21,370.14 L552.38,370.51 L551.53,370.87 L550.67,371.23 L549.81,371.59 L548.93,371.94 L548.05,372.29 L547.16,372.64 L546.26,372.98 L545.35,373.32 L544.44,373.65 L543.51,373.98 L542.58,374.31 L541.64,374.63 L540.69,374.95 L539.74,375.26 L538.78,375.57 L537.80,375.87 L536.83,376.17 L535.84,376.47 L534.85,376.76 L533.85,377.05 L532.84,377.33 L531.82,377.60 L530.80,377.88 L529.78,378.15 L528.74,378.41 L527.70,378.67 L526.65,378.92 L525.60,379.17 L524.54,379.41 L523.47,379.65 L522.40,379.89 L521.32,380.12 L520.23,380.34 L519.14,380.56 L518.05,380.77 L516.95,380.98 L515.84,381.18 L514.73,381.38 L513.62,381.58 L512.49,381.76 L511.37,381.94 L510.24,382.12 L509.10,382.29 L507.96,382.46 L506.82,382.62 L505.67,382.77 L504.52,382.92 L503.37,383.07 L502.21,383.20 L501.05,383.34 L499.88,383.46 L498.71,383.58 L497.54,383.70 L496.37,383.81 L495.19,383.91 L494.01,384.01 L492.83,384.10 L491.64,384.19 L490.45,384.27 L489.26,384.35 L488.07,384.42 L486.88,384.48 L485.69,384.54 L484.49,384.59 L483.29,384.64 L482.09,384.68 L480.90,384.71 L479.70,384.74 L478.50,384.76 L477.29,384.78 L476.09,384.79 L474.89,384.79 L473.69,384.79 L472.49,384.79 L471.29,384.77 L470.09,384.75 L468.88,384.73 L467.69,384.70 L466.49,384.66 L465.29,384.62 L464.09,384.57 L462.90,384.52 L461.70,384.46 L460.51,384.39 L459.32,384.32 L458.13,384.24 L456.95,384.16 L455.76,384.07 L454.58,383.98 L453.40,383.88 L452.22,383.77 L451.05,383.66 L449.88,383.54 L448.71,383.42 L447.55,383.29 L446.39,383.16 L445.23,383.02 L444.07,382.87 L442.92,382.72 L441.78,382.56 L440.64,382.40 L439.50,382.23 L438.37,382.06 L437.24,381.88 L436.11,381.70 L434.99,381.51 L433.88,381.31 L432.77,381.11 L431.67,380.91 L430.57,380.70 L429.47,380.48 L428.39,380.26 L427.30,380.04 L426.23,379.81 L425.16,379.57 L424.09,379.33 L423.03,379.08 L421.98,378.83 L420.94,378.58 L419.90,378.32 L418.86,378.05 L417.84,377.78 L416.82,377.51 L415.81,377.23 L414.80,376.95 L413.80,376.66 L412.81,376.36 L411.83,376.07 L410.86,375.77 L409.89,375.46 L408.93,375.15 L407.97,374.83 L407.03,374.52 L406.09,374.19 L405.16,373.87 L404.24,373.53 L403.33,373.20 L402.42,372.86 L401.53,372.52 L400.64,372.17 L399.76,371.82 L398.89,371.47 L398.03,371.11 L397.17,370.75 L396.33,370.38 L395.49,370.01 L394.67,369.64 L393.85,369.26 L393.04,368.88 L392.24,368.50 L391.45,368.12 L390.67,367.73 L389.90,367.34 L389.14,366.94 L388.38,366.54 L387.64,366.14 L386.90,365.74 L386.18,365.33 L385.46,364.92 L384.76,364.51 L384.06,364.09 L383.38,363.68 L382.70,363.25 L382.03,362.83 L381.38,362.41 L380.73,361.98 L380.09,361.55 L379.47,361.12 L378.85,360.68 L378.24,360.24 L377.64,359.81 L377.06,359.36 L376.48,358.92 L375.91,358.48 L375.35,358.03 L374.81,357.58 L374.27,357.13 L373.74,356.68 L373.23,356.22 L372.72,355.77 L372.22,355.31 L371.74,354.85 L371.26,354.39 L370.79,353.93 L370.34,353.47 L369.89,353.00 L369.46,352.54 L369.03,352.07 L368.61,351.60 L368.21,351.13 L367.81,350.66 L367.43,350.19 L367.05,349.72 L366.69,349.25 L366.33,348.77 L365.99,348.30 L365.65,347.82 L365.33,347.35 L365.02,346.87 L364.71,346.39 L364.42,345.92 Z" fill="#31829b" stroke="#31829b" stroke-width="0.6" stroke-linejoin="round"/>
<path d="M474.50,321.40 L364.42,345.92 L364.13,345.44 L363.86,344.96 L363.59,344.48 L363.34,344.00 L363.09,343.51 L362.85,343.03 L362.63,342.55 L362.41,342.07 L362.21,341.59 L362.01,341.11 L361.83,340.62 L361.65,340.14 L361.48,339.66 L361.32,339.18 L361.18,338.70 L361.04,338.22 L360.91,337.73 L360.79,337.25 L360.68,336.77 L360.58,336.29 L360.49,335.81 L360.41,335.33 L360.34,334.85 L360.28,334.37 L360.23,333.90 L360.18,333.42 L360.15,332.94 L360.12,332.47 L360.11,331.99 L360.10,331.52 L360.10,331.04 L360.11,330.57 L360.13,330.10 L360.16,329.63 L360.20,329.16 L360.25,328.69 L360.30,328.22 L360.36,327.75 L360.44,327.28 L360.52,326.82 L360.61,326.35 L360.71,325.89 L360.81,325.43 L360.93,324.97 L361.05,324.51 L361.18,324.05 L361.32,323.59 L361.47,323.14 L361.63,322.68 L361.79,322.23 L361.96,321.78 L362.14,321.33 L362.33,320.88 L362.53,320.44 L362.73,319.99 L362.95,319.55 L363.16,319.10 L363.39,318.66 L363.63,318.22 L363.87,317.79 L364.12,317.35 L364.38,316.92 L364.64,316.48 L364.91,316.05 L365.19,315.62 L365.48,315.20 L365.77,314.77 L366.07,314.35 L366.38,313.93 L366.70,313.51 L367.02,313.09 L367.35,312.67 L367.68,312.26 L368.03,311.85 L368.38,311.44 L368.73,311.03 L369.09,310.62 L369.46,310.22 L369.84,309.82 L370.22,309.42 L370.61,309.02 L371.01,308.62 L371.41,308.23 L371.81,307.84 L372.23,307.45 L372.65,307.06 L373.07,306.68 L373.51,306.29 L373.94,305.91 L374.39,305.54 L374.84,305.16 L375.29,304.79 L375.76,304.41 L376.22,304.04 L376.70,303.68 L377.17,303.31 L377.66,302.95 L378.15,302.59 L378.64,302.23 L379.14,301.88 L379.65,301.52 L380.16,301.17 L380.68,300.82 L381.20,300.48 L381.72,300.13 L382.25,299.79 L382.79,299.45 L383.33,299.12 L383.88,298.78 L384.43,298.45 L384.99,298.12 L385.55,297.80 L386.11,297.47 L386.68,297.15 L387.26,296.83 L387.84,296.52 L388.42,296.20 L389.01,295.89 L389.61,295.58 L390.20,295.28 L390.80,294.97 L391.41,294.67 L392.02,294.37 L392.64,294.08 L393.25,293.78 L393.88,293.49 L394.50,293.20 L395.14,292.92 L395.77,292.63 L396.41,292.35 L397.05,292.07 L397.70,291.80 L398.35,291.53 L399.00,291.26 L399.66,290.99 L400.32,290.72 L400.98,290.46 L401.65,290.20 L402.33,289.94 L403.00,289.69 L403.68,289.44 L404.36,289.19 L405.05,288.94 L405.73,288.70 L406.43,288.46 L407.12,288.22 L407.82,287.98 L408.52,287.75 L409.23,287.52 L409.93,287.29 L410.64,287.07 L411.36,286.85 L412.07,286.63 L412.79,286.41 L413.51,286.19 L414.24,285.98 L414.97,285.77 L415.70,285.57 L416.43,285.37 L417.16,285.17 L417.90,284.97 L418.64,284.77 L419.38,284.58 L420.13,284.39 L420.88,284.20 L421.63,284.02 L422.38,283.84 L423.13,283.66 L423.89,283.48 L424.65,283.31 L425.41,283.14 L426.17,282.97 L426.94,282.81 L427.71,282.64 L428.48,282.49 L429.25,282.33 L430.02,282.17 L430.80,282.02 L431.57,281.88 L432.35,281.73 L433.13,281.59 L433.92,281.45 L434.70,281.31 L435.49,281.17 L436.27,281.04 L437.06,280.91 L437.85,280.79 L438.65,280.66 L439.44,280.54 L440.24,280.42 L441.03,280.31 L441.83,280.20 L442.63,280.09 L443.43,279.98 L444.23,279.88 L445.04,279.77 L445.84,279.68 L446.65,279.58 L447.45,279.49 L448.26,279.40 L449.07,279.31 L449.88,279.22 L450.69,279.14 L451.50,279.06 L452.32,278.99 L453.13,278.91 L453.94,278.84 L454.76,278.77 L455.58,278.71 L456.39,278.65 L457.21,278.59 L458.03,278.53 L458.85,278.47 L459.67,278.42 L460.49,278.37 L461.31,278.33 L462.13,278.29 L462.95,278.25 L463.78,278.21 L464.60,278.17 L465.42,278.14 L466.25,278.11 L467.07,278.09 L467.89,278.06 L468.72,278.04 L469.54,278.02 L470.37,278.01 Z" fill="#ff9900" stroke="#ff9900" stroke-width="0.6" stroke-linejoin="round"/>
<path d="M474.50,321.40 L470.37,278.01 L471.06,278.00 L471.75,277.99 L472.43,277.98 L473.12,277.98 L473.81,277.97 L474.50,277.97 Z" fill="#0000ff" stroke="#0000ff" stroke-width="0.6" stroke-linejoin="round"/>
<path d="M279.70,535.32 L279.68,536.22 L279.63,537.13 L279.55,538.03 L279.44,538.94 L279.29,539.85 L279.11,540.76 L278.89,541.67 L278.64,542.58 L278.35,543.49 L275.69,568.47 L275.98,567.50 L276.23,566.54 L276.45,565.58 L276.63,564.61 L276.79,563.65 L276.91,562.70 L277.00,561.74 L277.05,560.79 L277.08,559.83 Z" fill="url(#gS50)" stroke="url(#gS50)" stroke-width="0.7"/>
<path d="M278.35,543.49 L278.02,544.45 L277.64,545.40 L277.23,546.36 L276.78,547.32 L276.29,548.27 L275.76,549.22 L275.19,550.17 L274.58,551.12 L273.93,552.07 L273.24,553.01 L272.51,553.95 L271.74,554.89 L270.93,555.82 L270.08,556.75 L269.19,557.67 L268.26,558.59 L267.29,559.50 L266.28,560.41 L265.23,561.31 L264.14,562.20 L263.01,563.09 L261.84,563.96 L260.63,564.83 L259.39,565.69 L258.10,566.54 L256.77,567.39 L255.41,568.22 L254.00,569.04 L252.56,569.85 L251.08,570.64 L249.57,571.43 L248.01,572.20 L246.42,572.96 L244.80,573.71 L243.14,574.45 L241.44,575.17 L239.71,575.87 L237.94,576.56 L236.15,577.24 L234.32,577.90 L232.45,578.54 L230.56,579.17 L228.64,579.78 L226.68,580.37 L224.70,580.94 L222.69,581.50 L220.65,582.04 L218.59,582.56 L216.50,583.06 L214.38,583.54 L212.24,584.00 L210.08,584.44 L207.90,584.86 L205.69,585.26 L203.47,585.64 L201.23,586.00 L198.97,586.34 L196.69,586.65 L194.39,586.94 L192.09,587.21 L189.77,587.46 L187.43,587.69 L185.09,587.89 L182.74,588.07 L180.37,588.23 L178.00,588.36 L175.63,588.47 L173.24,588.56 L170.86,588.63 L168.47,588.67 L166.08,588.69 L163.69,588.68 L161.30,588.65 L158.91,588.60 L156.53,588.53 L154.15,588.43 L151.77,588.31 L149.41,588.16 L147.05,588.00 L144.70,587.81 L142.36,587.59 L140.03,587.36 L137.72,587.10 L135.41,586.82 L133.13,586.52 L130.86,586.19 L128.60,585.85 L126.37,585.48 L124.15,585.09 L121.96,584.68 L119.78,584.25 L117.63,583.81 L115.50,583.34 L113.40,582.85 L111.32,582.34 L109.27,581.81 L107.24,581.26 L105.24,580.70 L103.27,580.12 L101.33,579.52 L99.42,578.90 L97.54,578.27 L95.69,577.62 L93.87,576.95 L92.09,576.27 L90.34,575.57 L88.62,574.86 L86.94,574.13 L85.30,573.39 L83.69,572.64 L82.11,571.87 L80.57,571.09 L79.07,570.30 L77.61,569.50 L76.19,568.68 L74.80,567.86 L73.45,567.02 L72.14,566.18 L70.87,565.32 L69.64,564.46 L68.45,563.59 L67.29,562.71 L69.76,588.73 L70.89,589.65 L72.06,590.57 L73.26,591.48 L74.51,592.38 L75.79,593.27 L77.11,594.15 L78.47,595.02 L79.86,595.87 L81.29,596.72 L82.76,597.55 L84.26,598.37 L85.80,599.18 L87.37,599.97 L88.98,600.75 L90.62,601.51 L92.30,602.26 L94.01,602.99 L95.75,603.71 L97.52,604.41 L99.32,605.09 L101.16,605.75 L103.02,606.40 L104.91,607.03 L106.84,607.64 L108.78,608.24 L110.76,608.81 L112.76,609.36 L114.79,609.90 L116.84,610.41 L118.91,610.90 L121.01,611.38 L123.12,611.83 L125.26,612.26 L127.42,612.66 L129.59,613.05 L131.79,613.41 L134.00,613.75 L136.22,614.07 L138.46,614.36 L140.72,614.63 L142.98,614.88 L145.26,615.10 L147.54,615.30 L149.84,615.48 L152.14,615.63 L154.45,615.75 L156.77,615.86 L159.09,615.94 L161.41,615.99 L163.74,616.02 L166.06,616.03 L168.39,616.01 L170.71,615.96 L173.03,615.89 L175.35,615.80 L177.66,615.69 L179.97,615.54 L182.27,615.38 L184.56,615.19 L186.84,614.98 L189.11,614.74 L191.37,614.48 L193.61,614.20 L195.84,613.89 L198.06,613.56 L200.26,613.21 L202.45,612.83 L204.61,612.43 L206.76,612.01 L208.88,611.57 L210.99,611.11 L213.07,610.63 L215.13,610.12 L217.17,609.60 L219.18,609.05 L221.17,608.49 L223.13,607.90 L225.06,607.30 L226.97,606.68 L228.84,606.04 L230.69,605.38 L232.51,604.70 L234.29,604.01 L236.05,603.30 L237.77,602.57 L239.46,601.83 L241.11,601.08 L242.74,600.31 L244.32,599.52 L245.88,598.72 L247.40,597.91 L248.88,597.08 L250.33,596.24 L251.74,595.39 L253.11,594.53 L254.45,593.65 L255.74,592.77 L257.01,591.87 L258.23,590.97 L259.41,590.05 L260.56,589.13 L261.67,588.20 L262.74,587.26 L263.77,586.31 L264.76,585.36 L265.71,584.39 L266.63,583.43 L267.50,582.45 L268.34,581.48 L269.14,580.49 L269.89,579.51 L270.61,578.51 L271.29,577.52 L271.94,576.52 L272.54,575.52 L273.10,574.52 L273.63,573.51 L274.12,572.50 L274.57,571.49 L274.98,570.49 L275.35,569.48 L275.69,568.47 Z" fill="url(#gS51)" stroke="url(#gS51)" stroke-width="0.7"/>
<path d="M67.29,562.71 L66.18,561.81 L65.10,560.91 L64.06,560.00 L63.06,559.09 L62.10,558.17 L61.19,557.24 L60.31,556.31 L59.48,555.38 L58.68,554.44 L57.93,553.49 L57.22,552.55 L56.54,551.60 L55.91,550.64 L55.32,549.69 L54.76,548.73 L54.25,547.77 L53.78,546.81 L53.34,545.85 L52.95,544.89 L52.59,543.93 L52.28,542.96 L52.00,542.00 L51.76,541.04 L51.56,540.09 L51.39,539.13 L51.26,538.17 L51.17,537.22 L51.12,536.27 L51.10,535.32 L53.72,559.83 L53.75,560.84 L53.81,561.84 L53.91,562.85 L54.04,563.86 L54.21,564.87 L54.42,565.88 L54.66,566.89 L54.94,567.91 L55.26,568.92 L55.62,569.94 L56.01,570.96 L56.44,571.97 L56.91,572.98 L57.42,574.00 L57.97,575.01 L58.55,576.01 L59.18,577.02 L59.85,578.02 L60.55,579.02 L61.29,580.02 L62.08,581.01 L62.90,581.99 L63.76,582.97 L64.66,583.95 L65.60,584.92 L66.58,585.88 L67.60,586.84 L68.66,587.79 L69.76,588.73 Z" fill="url(#gS52)" stroke="url(#gS52)" stroke-width="0.7"/>
<path d="M165.40,526.35 L165.40,482.96 L166.22,482.96 L167.05,482.97 L167.87,482.97 L168.70,482.98 L169.52,483.00 L170.34,483.01 L171.17,483.03 L171.99,483.05 L172.81,483.07 L173.64,483.10 L174.46,483.13 L175.28,483.16 L176.10,483.19 L176.92,483.23 L177.74,483.27 L178.56,483.32 L179.38,483.36 L180.20,483.41 L181.02,483.46 L181.84,483.52 L182.65,483.57 L183.47,483.63 L184.29,483.69 L185.10,483.76 L185.92,483.83 L186.73,483.90 L187.54,483.97 L188.35,484.05 L189.16,484.13 L189.97,484.21 L190.78,484.29 L191.59,484.38 L192.40,484.47 L193.20,484.56 L194.01,484.66 L194.81,484.76 L195.61,484.86 L196.41,484.96 L197.21,485.07 L198.01,485.18 L198.80,485.29 L199.60,485.41 L200.39,485.52 L201.19,485.64 L201.98,485.77 L202.77,485.89 L203.55,486.02 L204.34,486.15 L205.13,486.29 L205.91,486.42 L206.69,486.56 L207.47,486.71 L208.25,486.85 L209.02,487.00 L209.80,487.15 L210.57,487.30 L211.34,487.46 L212.11,487.62 L212.87,487.78 L213.64,487.95 L214.40,488.11 L215.16,488.28 L215.92,488.46 L216.67,488.63 L217.43,488.81 L218.18,488.99 L218.93,489.17 L219.67,489.36 L220.42,489.55 L221.16,489.74 L221.90,489.94 L222.63,490.13 L223.37,490.33 L224.10,490.54 L224.83,490.74 L225.55,490.95 L226.28,491.16 L227.00,491.37 L227.72,491.59 L228.43,491.81 L229.14,492.03 L229.85,492.25 L230.56,492.48 L231.26,492.71 L231.96,492.94 L232.66,493.18 L233.35,493.42 L234.04,493.66 L234.73,493.90 L235.42,494.14 L236.10,494.39 L236.78,494.64 L237.45,494.90 L238.12,495.15 L238.79,495.41 L239.45,495.67 L240.11,495.94 L240.77,496.21 L241.42,496.48 L242.07,496.75 L242.72,497.02 L243.36,497.30 L244.00,497.58 L244.63,497.86 L245.26,498.15 L245.89,498.43 L246.51,498.72 L247.13,499.02 L247.74,499.31 L248.35,499.61 L248.96,499.91 L249.56,500.21 L250.15,500.52 L250.75,500.83 L251.33,501.14 L251.92,501.45 L252.50,501.77 L253.07,502.09 L253.64,502.41 L254.21,502.73 L254.77,503.06 L255.32,503.38 L255.87,503.71 L256.42,504.05 L256.96,504.38 L257.50,504.72 L258.03,505.06 L258.56,505.40 L259.08,505.75 L259.59,506.10 L260.10,506.45 L260.61,506.80 L261.11,507.15 L261.60,507.51 L262.09,507.87 L262.58,508.23 L263.06,508.59 L263.53,508.96 L264.00,509.33 L264.46,509.70 L264.91,510.07 L265.36,510.45 L265.81,510.82 L266.24,511.20 L266.68,511.59 L267.10,511.97 L267.52,512.36 L267.94,512.74 L268.34,513.14 L268.75,513.53 L269.14,513.92 L269.53,514.32 L269.91,514.72 L270.29,515.12 L270.66,515.52 L271.02,515.93 L271.38,516.33 L271.73,516.74 L272.07,517.15 L272.41,517.57 L272.74,517.98 L273.06,518.40 L273.37,518.82 L273.68,519.24 L273.98,519.66 L274.28,520.08 L274.57,520.51 L274.85,520.94 L275.12,521.37 L275.38,521.80 L275.64,522.23 L275.89,522.67 L276.14,523.10 L276.37,523.54 L276.60,523.98 L276.82,524.42 L277.03,524.86 L277.24,525.31 L277.44,525.75 L277.62,526.20 L277.81,526.65 L277.98,527.10 L278.15,527.55 L278.30,528.01 L278.45,528.46 L278.59,528.92 L278.73,529.37 L278.85,529.83 L278.97,530.29 L279.08,530.75 L279.17,531.21 L279.27,531.68 L279.35,532.14 L279.42,532.61 L279.49,533.07 L279.54,533.54 L279.59,534.01 L279.63,534.48 L279.66,534.95 L279.68,535.42 L279.70,535.89 L279.70,536.37 L279.69,536.84 L279.68,537.31 L279.66,537.79 L279.62,538.26 L279.58,538.74 L279.53,539.22 L279.47,539.69 L279.40,540.17 L279.32,540.65 L279.24,541.13 L279.14,541.61 L279.03,542.09 L278.91,542.57 L278.79,543.05 L278.65,543.53 L278.51,544.01 L278.35,544.49 Z" fill="#92d050" stroke="#92d050" stroke-width="0.6" stroke-linejoin="round"/>
<path d="M165.40,526.35 L278.35,544.49 L278.19,544.97 L278.02,545.45 L277.83,545.93 L277.64,546.41 L277.44,546.89 L277.22,547.37 L277.00,547.85 L276.77,548.33 L276.53,548.81 L276.28,549.29 L276.01,549.77 L275.74,550.25 L275.46,550.72 L275.17,551.20 L274.87,551.68 L274.56,552.15 L274.23,552.63 L273.90,553.10 L273.56,553.58 L273.21,554.05 L272.85,554.52 L272.48,555.00 L272.09,555.47 L271.70,555.94 L271.30,556.40 L270.89,556.87 L270.46,557.34 L270.03,557.80 L269.59,558.27 L269.14,558.73 L268.67,559.19 L268.20,559.65 L267.72,560.11 L267.22,560.57 L266.72,561.02 L266.21,561.48 L265.68,561.93 L265.15,562.38 L264.61,562.83 L264.05,563.28 L263.49,563.72 L262.91,564.16 L262.33,564.60 L261.74,565.04 L261.13,565.48 L260.52,565.92 L259.89,566.35 L259.26,566.78 L258.62,567.21 L257.96,567.63 L257.30,568.05 L256.63,568.47 L255.95,568.89 L255.25,569.31 L254.55,569.72 L253.84,570.13 L253.12,570.54 L252.39,570.94 L251.65,571.34 L250.90,571.74 L250.14,572.14 L249.37,572.53 L248.59,572.92 L247.81,573.30 L247.01,573.69 L246.20,574.07 L245.39,574.44 L244.57,574.82 L243.73,575.19 L242.89,575.55 L242.04,575.91 L241.19,576.27 L240.32,576.63 L239.44,576.98 L238.56,577.33 L237.67,577.67 L236.76,578.01 L235.86,578.34 L234.94,578.68 L234.01,579.00 L233.08,579.33 L232.14,579.65 L231.19,579.96 L230.23,580.27 L229.27,580.58 L228.29,580.88 L227.31,581.18 L226.33,581.48 L225.33,581.76 L224.33,582.05 L223.32,582.33 L222.31,582.60 L221.28,582.88 L220.25,583.14 L219.22,583.40 L218.18,583.66 L217.13,583.91 L216.07,584.16 L215.01,584.40 L213.94,584.64 L212.87,584.87 L211.79,585.10 L210.71,585.32 L209.62,585.53 L208.52,585.75 L207.42,585.95 L206.31,586.15 L205.20,586.35 L204.08,586.54 L202.96,586.72 L201.84,586.90 L200.71,587.08 L199.57,587.25 L198.43,587.41 L197.29,587.57 L196.14,587.72 L194.99,587.87 L193.84,588.01 L192.68,588.15 L191.52,588.28 L190.35,588.40 L189.18,588.52 L188.01,588.63 L186.84,588.74 L185.66,588.84 L184.48,588.94 L183.30,589.03 L182.11,589.12 L180.93,589.19 L179.74,589.27 L178.55,589.33 L177.36,589.40 L176.16,589.45 L174.97,589.50 L173.77,589.55 L172.58,589.58 L171.38,589.62 L170.18,589.64 L168.98,589.66 L167.78,589.68 L166.58,589.69 L165.38,589.69 L164.18,589.69 L162.98,589.68 L161.78,589.66 L160.58,589.64 L159.38,589.61 L158.19,589.58 L156.99,589.54 L155.79,589.50 L154.60,589.45 L153.41,589.39 L152.21,589.33 L151.02,589.26 L149.84,589.19 L148.65,589.11 L147.46,589.03 L146.28,588.94 L145.10,588.84 L143.93,588.74 L142.75,588.63 L141.58,588.52 L140.41,588.40 L139.25,588.27 L138.09,588.14 L136.93,588.01 L135.77,587.86 L134.62,587.72 L133.47,587.56 L132.33,587.41 L131.19,587.24 L130.06,587.07 L128.93,586.90 L127.80,586.72 L126.68,586.53 L125.56,586.34 L124.45,586.15 L123.35,585.95 L122.25,585.74 L121.15,585.53 L120.06,585.31 L118.98,585.09 L117.90,584.86 L116.82,584.63 L115.76,584.39 L114.69,584.15 L113.64,583.90 L112.59,583.65 L111.55,583.39 L110.51,583.13 L109.48,582.87 L108.46,582.60 L107.45,582.32 L106.44,582.04 L105.44,581.76 L104.44,581.47 L103.46,581.17 L102.48,580.87 L101.50,580.57 L100.54,580.26 L99.58,579.95 L98.63,579.64 L97.69,579.32 L96.76,578.99 L95.83,578.67 L94.92,578.33 L94.01,578.00 L93.11,577.66 L92.21,577.31 L91.33,576.97 L90.45,576.62 L89.59,576.26 L88.73,575.90 L87.88,575.54 L87.04,575.17 L86.21,574.80 L85.38,574.43 L84.57,574.06 L83.77,573.68 L82.97,573.29 L82.18,572.91 L81.41,572.52 L80.64,572.12 L79.88,571.73 L79.13,571.33 L78.39,570.93 L77.66,570.52 L76.94,570.12 L76.23,569.71 L75.53,569.29 L74.83,568.88 L74.15,568.46 L73.48,568.04 L72.82,567.62 L72.16,567.19 L71.52,566.76 L70.89,566.33 L70.26,565.90 L69.65,565.47 L69.04,565.03 L68.45,564.59 L67.87,564.15 L67.29,563.71 Z" fill="#31829b" stroke="#31829b" stroke-width="0.6" stroke-linejoin="round"/>
<path d="M165.40,526.35 L67.29,563.71 L66.73,563.26 L66.17,562.81 L65.63,562.36 L65.09,561.91 L64.57,561.46 L64.06,561.00 L63.55,560.55 L63.06,560.09 L62.57,559.63 L62.10,559.17 L61.64,558.70 L61.18,558.24 L60.74,557.77 L60.31,557.31 L59.88,556.84 L59.47,556.37 L59.07,555.90 L58.68,555.43 L58.29,554.96 L57.92,554.48 L57.56,554.01 L57.21,553.54 L56.87,553.06 L56.54,552.59 L56.21,552.11 L55.90,551.63 L55.60,551.15 L55.31,550.67 L55.03,550.20 L54.76,549.72 L54.50,549.24 L54.24,548.76 L54.00,548.28 L53.77,547.79 L53.55,547.31 L53.34,546.83 L53.14,546.35 L52.94,545.87 L52.76,545.39 L52.59,544.91 L52.43,544.43 L52.27,543.95 L52.13,543.46 L51.99,542.98 L51.87,542.50 L51.75,542.02 L51.65,541.54 L51.55,541.06 L51.46,540.59 L51.39,540.11 L51.32,539.63 L51.26,539.15 L51.21,538.67 L51.17,538.20 L51.14,537.72 L51.12,537.25 L51.10,536.77 L51.10,536.30 L51.10,535.83 L51.12,535.35 L51.14,534.88 L51.17,534.41 L51.21,533.94 L51.26,533.47 L51.32,533.01 L51.39,532.54 L51.46,532.08 L51.55,531.61 L51.64,531.15 L51.74,530.69 L51.85,530.23 L51.97,529.77 L52.09,529.31 L52.23,528.85 L52.37,528.39 L52.52,527.94 L52.68,527.49 L52.84,527.04 L53.02,526.59 L53.20,526.14 L53.39,525.69 L53.59,525.24 L53.80,524.80 L54.01,524.36 L54.23,523.92 L54.46,523.48 L54.70,523.04 L54.94,522.60 L55.20,522.17 L55.45,521.73 L55.72,521.30 L56.00,520.87 L56.28,520.45 L56.57,520.02 L56.86,519.60 L57.16,519.17 L57.47,518.75 L57.79,518.34 L58.11,517.92 L58.44,517.50 L58.78,517.09 L59.13,516.68 L59.48,516.27 L59.83,515.87 L60.20,515.46 L60.57,515.06 L60.95,514.66 L61.33,514.26 L61.72,513.86 L62.12,513.47 L62.52,513.07 L62.93,512.68 L63.34,512.30 L63.76,511.91 L64.19,511.53 L64.62,511.14 L65.06,510.77 L65.51,510.39 L65.96,510.01 L66.42,509.64 L66.88,509.27 L67.35,508.90 L67.82,508.54 L68.30,508.17 L68.78,507.81 L69.27,507.45 L69.77,507.10 L70.27,506.74 L70.78,506.39 L71.29,506.04 L71.81,505.69 L72.33,505.35 L72.86,505.01 L73.39,504.67 L73.92,504.33 L74.47,503.99 L75.01,503.66 L75.57,503.33 L76.12,503.00 L76.68,502.68 L77.25,502.35 L77.82,502.03 L78.40,501.72 L78.98,501.40 L79.56,501.09 L80.15,500.78 L80.74,500.47 L81.34,500.16 L81.94,499.86 L82.55,499.56 L83.16,499.26 L83.78,498.97 L84.39,498.68 L85.02,498.39 L85.64,498.10 L86.27,497.81 L86.91,497.53 L87.55,497.25 L88.19,496.98 L88.84,496.70 L89.49,496.43 L90.14,496.16 L90.80,495.89 L91.46,495.63 L92.12,495.37 L92.79,495.11 L93.46,494.85 L94.14,494.60 L94.82,494.35 L95.50,494.10 L96.18,493.86 L96.87,493.61 L97.56,493.37 L98.26,493.14 L98.96,492.90 L99.66,492.67 L100.36,492.44 L101.07,492.21 L101.78,491.99 L102.49,491.77 L103.21,491.55 L103.93,491.34 L104.65,491.12 L105.37,490.91 L106.10,490.70 L106.83,490.50 L107.56,490.30 L108.30,490.10 L109.03,489.90 L109.77,489.71 L110.51,489.52 L111.26,489.33 L112.01,489.14 L112.76,488.96 L113.51,488.78 L114.26,488.60 L115.02,488.42 L115.78,488.25 L116.54,488.08 L117.30,487.92 L118.06,487.75 L118.83,487.59 L119.60,487.43 L120.37,487.28 L121.14,487.12 L121.92,486.97 L122.69,486.83 L123.47,486.68 L124.25,486.54 L125.03,486.40 L125.82,486.26 L126.60,486.13 L127.39,486.00 L128.18,485.87 L128.97,485.74 L129.76,485.62 L130.55,485.50 L131.35,485.38 L132.14,485.27 L132.94,485.16 L133.74,485.05 L134.54,484.94 L135.34,484.84 L136.14,484.74 L136.94,484.64 L137.75,484.55 L138.55,484.45 L139.36,484.36 L140.17,484.28 L140.98,484.19 L141.79,484.11 L142.60,484.03 L143.41,483.96 L144.22,483.88 L145.04,483.81 L145.85,483.75 L146.67,483.68 L147.48,483.62 L148.30,483.56 L149.12,483.50 L149.94,483.45 L150.75,483.40 L151.57,483.35 L152.39,483.31 L153.21,483.26 L154.03,483.22 L154.86,483.19 L155.68,483.15 L156.50,483.12 L157.32,483.09 L158.15,483.07 L158.97,483.05 L159.79,483.02 L160.62,483.01 L161.44,482.99 L162.26,482.98 Z" fill="#ff9900" stroke="#ff9900" stroke-width="0.6" stroke-linejoin="round"/>
<path d="M165.40,526.35 L162.26,482.98 L163.05,482.97 L163.83,482.97 L164.62,482.96 L165.40,482.96 Z" fill="#0000ff" stroke="#0000ff" stroke-width="0.6" stroke-linejoin="round"/>
<path d="M594.55,532.47 L594.53,533.39 L594.48,534.32 L594.39,535.25 L594.27,536.18 L594.12,537.11 L593.92,538.05 L593.70,538.98 L593.43,539.92 L593.13,540.86 L592.79,541.79 L592.42,542.73 L592.00,543.67 L591.55,544.60 L591.07,545.54 L590.54,546.47 L589.98,547.41 L589.38,548.34 L588.74,549.26 L588.06,550.19 L587.35,551.11 L586.59,552.03 L585.80,552.95 L584.97,553.86 L584.10,554.76 L583.19,555.66 L582.24,556.56 L581.25,557.45 L580.23,558.33 L579.16,559.20 L578.06,560.07 L576.92,560.94 L575.74,561.79 L574.53,562.63 L573.27,563.47 L571.98,564.30 L570.66,565.12 L568.35,591.40 L569.65,590.54 L570.91,589.67 L572.14,588.79 L573.33,587.90 L574.49,587.00 L575.61,586.10 L576.69,585.18 L577.73,584.26 L578.74,583.33 L579.71,582.39 L580.64,581.45 L581.53,580.50 L582.39,579.55 L583.21,578.59 L583.99,577.62 L584.73,576.65 L585.44,575.68 L586.11,574.71 L586.74,573.73 L587.33,572.75 L587.89,571.76 L588.41,570.78 L588.90,569.79 L589.34,568.80 L589.75,567.81 L590.13,566.82 L590.47,565.83 L590.77,564.84 L591.03,563.85 L591.27,562.86 L591.46,561.88 L591.62,560.89 L591.75,559.91 L591.84,558.93 L591.90,557.95 L591.93,556.97 Z" fill="url(#gS60)" stroke="url(#gS60)" stroke-width="0.7"/>
<path d="M570.66,565.12 L569.27,565.94 L567.84,566.75 L566.38,567.55 L564.87,568.33 L563.34,569.11 L561.76,569.87 L560.15,570.62 L558.50,571.36 L556.82,572.08 L555.11,572.79 L553.36,573.48 L551.58,574.16 L549.76,574.82 L547.91,575.47 L546.03,576.10 L544.13,576.71 L542.19,577.31 L540.22,577.89 L538.22,578.45 L536.20,578.99 L534.15,579.51 L532.07,580.02 L529.97,580.51 L527.85,580.97 L525.70,581.42 L523.53,581.85 L521.34,582.25 L519.13,582.64 L516.90,583.00 L514.65,583.34 L512.38,583.66 L510.10,583.96 L507.80,584.24 L505.49,584.50 L503.17,584.73 L500.84,584.94 L498.49,585.13 L496.14,585.30 L493.78,585.44 L491.41,585.56 L489.04,585.65 L486.66,585.73 L484.28,585.78 L481.90,585.81 L479.51,585.81 L477.13,585.79 L474.75,585.75 L472.37,585.68 L469.99,585.59 L467.62,585.48 L465.26,585.35 L462.91,585.19 L460.56,585.01 L458.22,584.81 L455.89,584.58 L453.58,584.33 L451.28,584.06 L452.06,611.30 L454.30,611.59 L456.55,611.85 L458.82,612.08 L461.09,612.30 L463.38,612.49 L465.67,612.65 L467.97,612.79 L470.27,612.91 L472.58,613.00 L474.90,613.07 L477.22,613.12 L479.54,613.14 L481.85,613.13 L484.17,613.10 L486.49,613.05 L488.80,612.97 L491.11,612.87 L493.42,612.75 L495.71,612.60 L498.00,612.42 L500.28,612.23 L502.55,612.01 L504.81,611.76 L507.06,611.49 L509.30,611.20 L511.52,610.89 L513.72,610.55 L515.91,610.19 L518.08,609.81 L520.23,609.40 L522.37,608.98 L524.48,608.53 L526.57,608.06 L528.64,607.57 L530.69,607.06 L532.71,606.53 L534.71,605.98 L536.68,605.41 L538.63,604.82 L540.55,604.22 L542.44,603.59 L544.30,602.95 L546.13,602.28 L547.94,601.60 L549.71,600.91 L551.45,600.20 L553.15,599.47 L554.83,598.72 L556.47,597.96 L558.08,597.19 L559.65,596.40 L561.19,595.60 L562.69,594.79 L564.16,593.96 L565.60,593.12 L566.99,592.27 L568.35,591.40 Z" fill="url(#gS61)" stroke="url(#gS61)" stroke-width="0.7"/>
<path d="M451.28,584.06 L449.00,583.77 L446.74,583.46 L444.49,583.12 L442.27,582.77 L440.06,582.39 L437.87,582.00 L435.70,581.58 L433.55,581.14 L431.42,580.68 L429.32,580.21 L427.24,579.71 L425.19,579.20 L423.16,578.66 L421.16,578.11 L419.19,577.54 L417.25,576.95 L415.34,576.35 L413.45,575.73 L411.60,575.09 L409.78,574.44 L407.99,573.77 L406.23,573.08 L404.51,572.38 L402.82,571.67 L401.16,570.94 L399.54,570.20 L397.96,569.45 L396.41,568.68 L394.90,567.90 L393.42,567.11 L391.98,566.31 L390.58,565.50 L389.22,564.67 L387.89,563.84 L386.61,563.00 L385.36,562.14 L384.15,561.28 L382.98,560.41 L381.85,559.53 L380.76,558.65 L379.70,557.76 L378.69,556.86 L377.72,555.95 L376.79,555.04 L375.89,554.13 L375.04,553.21 L374.22,552.28 L373.45,551.35 L372.71,550.42 L372.02,549.48 L371.36,548.54 L370.74,547.60 L370.16,546.66 L369.63,545.71 L369.13,544.76 L368.66,543.81 L368.24,542.87 L367.86,541.92 L367.51,540.97 L367.20,540.02 L366.93,539.07 L366.69,538.12 L366.49,537.17 L366.33,536.23 L366.21,535.29 L366.12,534.34 L366.07,533.41 L366.05,532.47 L368.67,556.97 L368.70,557.96 L368.76,558.95 L368.85,559.95 L368.98,560.94 L369.15,561.94 L369.35,562.94 L369.59,563.94 L369.86,564.95 L370.17,565.95 L370.52,566.95 L370.90,567.95 L371.33,568.96 L371.78,569.96 L372.28,570.96 L372.82,571.96 L373.39,572.95 L374.00,573.95 L374.65,574.94 L375.33,575.92 L376.06,576.91 L376.82,577.89 L377.62,578.86 L378.47,579.83 L379.34,580.80 L380.26,581.76 L381.22,582.71 L382.21,583.66 L383.25,584.60 L384.32,585.53 L385.43,586.45 L386.57,587.37 L387.76,588.27 L388.98,589.17 L390.24,590.06 L391.54,590.94 L392.87,591.80 L394.25,592.66 L395.65,593.50 L397.10,594.33 L398.57,595.15 L400.09,595.96 L401.64,596.75 L403.22,597.53 L404.83,598.29 L406.48,599.04 L408.17,599.78 L409.88,600.50 L411.63,601.20 L413.41,601.89 L415.21,602.56 L417.05,603.21 L418.92,603.84 L420.81,604.46 L422.73,605.06 L424.68,605.64 L426.66,606.20 L428.66,606.74 L430.68,607.26 L432.73,607.76 L434.80,608.24 L436.89,608.70 L439.00,609.14 L441.14,609.55 L443.29,609.95 L445.46,610.32 L447.64,610.67 L449.85,611.00 L452.06,611.30 Z" fill="url(#gS62)" stroke="url(#gS62)" stroke-width="0.7"/>
<path d="M480.30,523.50 L480.30,480.13 L481.12,480.13 L481.95,480.13 L482.77,480.14 L483.60,480.15 L484.42,480.16 L485.24,480.18 L486.07,480.20 L486.89,480.22 L487.71,480.24 L488.53,480.27 L489.36,480.30 L490.18,480.33 L491.00,480.36 L491.82,480.40 L492.64,480.44 L493.46,480.48 L494.28,480.53 L495.10,480.58 L495.92,480.63 L496.74,480.68 L497.55,480.74 L498.37,480.80 L499.18,480.86 L500.00,480.93 L500.81,481.00 L501.63,481.07 L502.44,481.14 L503.25,481.22 L504.06,481.30 L504.87,481.38 L505.68,481.46 L506.49,481.55 L507.29,481.64 L508.10,481.73 L508.90,481.83 L509.71,481.93 L510.51,482.03 L511.31,482.13 L512.11,482.24 L512.91,482.35 L513.70,482.46 L514.50,482.57 L515.29,482.69 L516.08,482.81 L516.87,482.94 L517.66,483.06 L518.45,483.19 L519.24,483.32 L520.02,483.46 L520.80,483.59 L521.59,483.73 L522.36,483.88 L523.14,484.02 L523.92,484.17 L524.69,484.32 L525.46,484.47 L526.23,484.63 L527.00,484.79 L527.77,484.95 L528.53,485.12 L529.29,485.28 L530.05,485.45 L530.81,485.63 L531.57,485.80 L532.32,485.98 L533.07,486.16 L533.82,486.34 L534.57,486.53 L535.31,486.72 L536.05,486.91 L536.79,487.11 L537.53,487.30 L538.26,487.50 L538.99,487.71 L539.72,487.91 L540.45,488.12 L541.17,488.33 L541.89,488.54 L542.61,488.76 L543.32,488.98 L544.04,489.20 L544.75,489.43 L545.45,489.65 L546.15,489.88 L546.85,490.11 L547.55,490.35 L548.25,490.59 L548.94,490.83 L549.62,491.07 L550.31,491.32 L550.99,491.57 L551.67,491.82 L552.34,492.07 L553.01,492.33 L553.68,492.59 L554.34,492.85 L555.00,493.11 L555.66,493.38 L556.31,493.65 L556.96,493.92 L557.61,494.19 L558.25,494.47 L558.89,494.75 L559.52,495.03 L560.15,495.32 L560.78,495.61 L561.40,495.90 L562.01,496.19 L562.63,496.49 L563.24,496.78 L563.84,497.08 L564.44,497.39 L565.04,497.69 L565.63,498.00 L566.22,498.31 L566.80,498.63 L567.38,498.94 L567.96,499.26 L568.53,499.58 L569.09,499.90 L569.65,500.23 L570.21,500.56 L570.76,500.89 L571.31,501.22 L571.85,501.56 L572.38,501.89 L572.91,502.24 L573.44,502.58 L573.96,502.92 L574.48,503.27 L574.99,503.62 L575.49,503.97 L575.99,504.33 L576.49,504.68 L576.97,505.04 L577.46,505.41 L577.94,505.77 L578.41,506.14 L578.88,506.50 L579.34,506.87 L579.79,507.25 L580.24,507.62 L580.68,508.00 L581.12,508.38 L581.55,508.76 L581.98,509.15 L582.40,509.53 L582.81,509.92 L583.22,510.31 L583.62,510.70 L584.02,511.10 L584.41,511.50 L584.79,511.90 L585.16,512.30 L585.53,512.70 L585.89,513.10 L586.25,513.51 L586.60,513.92 L586.94,514.33 L587.28,514.74 L587.61,515.16 L587.93,515.58 L588.24,515.99 L588.55,516.42 L588.85,516.84 L589.15,517.26 L589.43,517.69 L589.71,518.12 L589.99,518.55 L590.25,518.98 L590.51,519.41 L590.76,519.84 L591.00,520.28 L591.24,520.72 L591.47,521.16 L591.69,521.60 L591.90,522.04 L592.10,522.49 L592.30,522.93 L592.49,523.38 L592.67,523.83 L592.84,524.28 L593.01,524.73 L593.16,525.19 L593.31,525.64 L593.45,526.10 L593.59,526.55 L593.71,527.01 L593.83,527.47 L593.93,527.93 L594.03,528.39 L594.12,528.86 L594.20,529.32 L594.28,529.79 L594.34,530.25 L594.40,530.72 L594.45,531.19 L594.48,531.66 L594.51,532.13 L594.53,532.60 L594.55,533.07 L594.55,533.54 L594.54,534.02 L594.53,534.49 L594.50,534.97 L594.47,535.44 L594.43,535.92 L594.38,536.40 L594.32,536.87 L594.25,537.35 L594.17,537.83 L594.08,538.31 L593.98,538.79 L593.87,539.27 L593.76,539.75 L593.63,540.23 L593.49,540.71 L593.35,541.19 L593.19,541.67 L593.03,542.15 L592.85,542.63 L592.67,543.11 L592.47,543.60 L592.27,544.08 L592.05,544.56 L591.83,545.04 L591.60,545.52 L591.35,546.00 L591.10,546.48 L590.84,546.96 L590.56,547.44 L590.28,547.92 L589.99,548.39 L589.68,548.87 L589.37,549.35 L589.05,549.83 L588.71,550.30 L588.37,550.78 L588.02,551.25 L587.65,551.72 L587.28,552.20 L586.89,552.67 L586.50,553.14 L586.09,553.61 L585.68,554.08 L585.25,554.55 L584.82,555.01 L584.37,555.48 L583.92,555.94 L583.45,556.40 L582.98,556.86 L582.49,557.32 L582.00,557.78 L581.49,558.24 L580.97,558.69 L580.45,559.14 L579.91,559.59 L579.36,560.04 L578.81,560.49 L578.24,560.94 L577.66,561.38 L577.07,561.82 L576.48,562.26 L575.87,562.70 L575.25,563.13 L574.63,563.57 L573.99,564.00 L573.34,564.43 L572.68,564.85 L572.02,565.28 L571.34,565.70 L570.66,566.12 Z" fill="#92d050" stroke="#92d050" stroke-width="0.6" stroke-linejoin="round"/>
<path d="M480.30,523.50 L570.66,566.12 L569.96,566.53 L569.25,566.94 L568.54,567.35 L567.81,567.76 L567.08,568.17 L566.34,568.57 L565.58,568.97 L564.82,569.36 L564.05,569.75 L563.27,570.14 L562.48,570.53 L561.68,570.91 L560.87,571.29 L560.05,571.67 L559.22,572.04 L558.39,572.41 L557.54,572.77 L556.69,573.14 L555.82,573.49 L554.95,573.85 L554.07,574.20 L553.19,574.55 L552.29,574.89 L551.38,575.23 L550.47,575.56 L549.55,575.90 L548.62,576.22 L547.68,576.55 L546.74,576.87 L545.78,577.18 L544.82,577.49 L543.85,577.80 L542.88,578.10 L541.89,578.40 L540.90,578.69 L539.90,578.98 L538.90,579.26 L537.88,579.54 L536.86,579.81 L535.84,580.08 L534.80,580.35 L533.76,580.61 L532.72,580.87 L531.66,581.12 L530.61,581.36 L529.54,581.60 L528.47,581.84 L527.39,582.07 L526.31,582.29 L525.22,582.52 L524.13,582.73 L523.03,582.94 L521.92,583.15 L520.81,583.35 L519.69,583.54 L518.57,583.73 L517.45,583.91 L516.32,584.09 L515.19,584.26 L514.05,584.43 L512.90,584.59 L511.76,584.75 L510.61,584.90 L509.45,585.05 L508.29,585.19 L507.13,585.32 L505.97,585.45 L504.80,585.57 L503.63,585.69 L502.45,585.80 L501.27,585.90 L500.09,586.00 L498.91,586.10 L497.73,586.19 L496.54,586.27 L495.35,586.35 L494.16,586.42 L492.96,586.48 L491.77,586.54 L490.57,586.59 L489.38,586.64 L488.18,586.68 L486.98,586.72 L485.78,586.75 L484.58,586.77 L483.37,586.79 L482.17,586.80 L480.97,586.81 L479.77,586.81 L478.56,586.80 L477.36,586.79 L476.16,586.78 L474.96,586.75 L473.76,586.72 L472.56,586.69 L471.36,586.65 L470.16,586.60 L468.97,586.55 L467.77,586.49 L466.58,586.42 L465.39,586.35 L464.20,586.28 L463.01,586.20 L461.82,586.11 L460.64,586.02 L459.46,585.92 L458.28,585.81 L457.11,585.70 L455.94,585.58 L454.77,585.46 L453.60,585.33 L452.44,585.20 L451.28,585.06 Z" fill="#31829b" stroke="#31829b" stroke-width="0.6" stroke-linejoin="round"/>
<path d="M480.30,523.50 L451.28,585.06 L450.12,584.92 L448.97,584.77 L447.82,584.61 L446.68,584.45 L445.54,584.28 L444.40,584.11 L443.27,583.93 L442.15,583.75 L441.03,583.56 L439.91,583.37 L438.80,583.17 L437.69,582.96 L436.59,582.75 L435.50,582.54 L434.41,582.32 L433.32,582.09 L432.24,581.86 L431.17,581.63 L430.10,581.39 L429.04,581.14 L427.99,580.89 L426.94,580.64 L425.90,580.38 L424.87,580.11 L423.84,579.84 L422.82,579.57 L421.80,579.29 L420.80,579.01 L419.80,578.72 L418.80,578.42 L417.82,578.13 L416.84,577.83 L415.87,577.52 L414.91,577.21 L413.95,576.90 L413.01,576.58 L412.07,576.25 L411.14,575.93 L410.21,575.60 L409.30,575.26 L408.39,574.92 L407.49,574.58 L406.60,574.23 L405.72,573.88 L404.85,573.53 L403.99,573.17 L403.13,572.81 L402.29,572.44 L401.45,572.07 L400.62,571.70 L399.80,571.32 L398.99,570.94 L398.19,570.56 L397.40,570.17 L396.62,569.78 L395.84,569.39 L395.08,569.00 L394.32,568.60 L393.58,568.20 L392.84,567.79 L392.12,567.39 L391.40,566.98 L390.69,566.56 L390.00,566.15 L389.31,565.73 L388.63,565.31 L387.97,564.88 L387.31,564.46 L386.66,564.03 L386.02,563.60 L385.39,563.17 L384.78,562.73 L384.17,562.29 L383.57,561.85 L382.98,561.41 L382.40,560.97 L381.84,560.52 L381.28,560.08 L380.73,559.63 L380.19,559.18 L379.66,558.72 L379.15,558.27 L378.64,557.81 L378.14,557.35 L377.66,556.90 L377.18,556.43 L376.71,555.97 L376.26,555.51 L375.81,555.04 L375.38,554.58 L374.95,554.11 L374.53,553.64 L374.13,553.17 L373.73,552.70 L373.35,552.23 L372.97,551.76 L372.61,551.28 L372.25,550.81 L371.91,550.33 L371.58,549.86 L371.25,549.38 L370.94,548.90 L370.63,548.43 L370.34,547.95 L370.05,547.47 L369.78,546.99 L369.52,546.51 L369.26,546.03 L369.02,545.55 L368.78,545.07 L368.56,544.59 L368.34,544.11 L368.14,543.63 L367.94,543.14 L367.76,542.66 L367.58,542.18 L367.42,541.70 L367.26,541.22 L367.12,540.74 L366.98,540.26 L366.85,539.78 L366.73,539.30 L366.63,538.82 L366.53,538.34 L366.44,537.86 L366.36,537.38 L366.29,536.90 L366.23,536.42 L366.17,535.95 L366.13,535.47 L366.10,535.00 L366.07,534.52 L366.06,534.05 L366.05,533.57 L366.05,533.10 L366.06,532.63 L366.08,532.15 L366.11,531.68 L366.15,531.21 L366.20,530.75 L366.25,530.28 L366.32,529.81 L366.39,529.35 L366.47,528.88 L366.56,528.42 L366.66,527.96 L366.77,527.50 L366.88,527.04 L367.01,526.58 L367.14,526.12 L367.28,525.66 L367.43,525.21 L367.59,524.76 L367.75,524.30 L367.92,523.85 L368.10,523.40 L368.29,522.96 L368.49,522.51 L368.69,522.07 L368.90,521.62 L369.12,521.18 L369.35,520.74 L369.59,520.30 L369.83,519.87 L370.08,519.43 L370.34,519.00 L370.60,518.57 L370.87,518.14 L371.15,517.71 L371.44,517.28 L371.73,516.86 L372.03,516.43 L372.34,516.01 L372.66,515.60 L372.98,515.18 L373.31,514.76 L373.64,514.35 L373.98,513.94 L374.33,513.53 L374.69,513.12 L375.05,512.72 L375.42,512.31 L375.80,511.91 L376.18,511.51 L376.57,511.12 L376.96,510.72 L377.36,510.33 L377.77,509.94 L378.18,509.55 L378.60,509.16 L379.03,508.78 L379.46,508.40 L379.90,508.02 L380.34,507.64 L380.79,507.26 L381.25,506.89 L381.71,506.52 L382.17,506.15 L382.65,505.78 L383.12,505.42 L383.61,505.06 L384.10,504.70 L384.59,504.34 L385.09,503.99 L385.60,503.63 L386.11,503.28 L386.62,502.94 L387.14,502.59 L387.67,502.25 L388.20,501.91 L388.73,501.57 L389.28,501.23 L389.82,500.90 L390.37,500.57 L390.93,500.24 L391.49,499.91 L392.05,499.59 L392.62,499.27 L393.20,498.95 L393.78,498.64 L394.36,498.32 L394.95,498.01 L395.54,497.70 L396.14,497.40 L396.74,497.09 L397.34,496.79 L397.95,496.50 L398.57,496.20 L399.18,495.91 L399.81,495.62 L400.43,495.33 L401.06,495.04 L401.70,494.76 L402.33,494.48 L402.98,494.20 L403.62,493.93 L404.27,493.66 L404.92,493.39 L405.58,493.12 L406.24,492.85 L406.90,492.59 L407.57,492.33 L408.24,492.08 L408.92,491.82 L409.59,491.57 L410.27,491.32 L410.96,491.08 L411.65,490.83 L412.34,490.59 L413.03,490.36 L413.73,490.12 L414.43,489.89 L415.13,489.66 L415.84,489.43 L416.55,489.21 L417.26,488.98 L417.98,488.77 L418.69,488.55 L419.41,488.34 L420.14,488.12 L420.86,487.92 L421.59,487.71 L422.32,487.51 L423.06,487.31 L423.79,487.11 L424.53,486.92 L425.28,486.72 L426.02,486.53 L426.77,486.35 L427.51,486.16 L428.27,485.98 L429.02,485.80 L429.77,485.63 L430.53,485.46 L431.29,485.29 L432.05,485.12 L432.82,484.95 L433.59,484.79 L434.35,484.63 L435.12,484.48 L435.90,484.32 L436.67,484.17 L437.45,484.02 L438.22,483.88 L439.00,483.74 L439.78,483.60 L440.57,483.46 L441.35,483.32 L442.14,483.19 L442.93,483.06 L443.72,482.94 L444.51,482.81 L445.30,482.69 L446.09,482.58 L446.89,482.46 L447.69,482.35 L448.48,482.24 L449.28,482.13 L450.08,482.03 L450.89,481.93 L451.69,481.83 L452.49,481.73 L453.30,481.64 L454.11,481.55 L454.91,481.46 L455.72,481.38 L456.53,481.30 L457.34,481.22 L458.15,481.14 L458.97,481.07 L459.78,481.00 L460.59,480.93 L461.41,480.86 L462.23,480.80 L463.04,480.74 L463.86,480.68 L464.68,480.63 L465.50,480.58 L466.32,480.53 L467.14,480.48 L467.96,480.44 L468.78,480.40 L469.60,480.36 L470.42,480.33 L471.24,480.30 L472.06,480.27 L472.89,480.24 L473.71,480.22 L474.53,480.20 L475.36,480.18 L476.18,480.16 L477.00,480.15 L477.83,480.14 L478.65,480.14 L479.48,480.13 L480.30,480.13 Z" fill="#ff9900" stroke="#ff9900" stroke-width="0.6" stroke-linejoin="round"/>
<g fill="#000" shape-rendering="crispEdges">
<rect x="7" y="6" width="617" height="1"/>
<rect x="7" y="56" width="617" height="1"/>
<rect x="7" y="253" width="617" height="1"/>
<rect x="7" y="455" width="617" height="1"/>
<rect x="7" y="665" width="617" height="1"/>
<rect x="7" y="6" width="1" height="660"/>
<rect x="623" y="6" width="1" height="660"/>
<rect x="319" y="56" width="1" height="610"/>
</g>
<g shape-rendering="crispEdges">
<rect x="50" y="28" width="8" height="8" fill="#92d050"/>
<rect x="183" y="28" width="8" height="8" fill="#009494"/>
<rect x="314" y="28" width="8" height="8" fill="#ff9900"/>
<rect x="467" y="28" width="8" height="8" fill="#0000ff"/>
</g>
<g font-weight="bold" font-size="16" fill="#000">
<text x="61" y="38">Chlorophyceae</text>
<text x="194.6" y="38">Cyanophyceae</text>
<text x="325.6" y="38">Bacillariophyceae</text>
<text x="478.6" y="38">Euglenophyceae</text>
</g>
<g font-weight="bold" font-size="16" fill="#000">
<text x="146.2" y="75.7">2%</text>
<text x="203" y="114.6">36%</text>
<text x="168.5" y="176.1">21%</text>
<text x="83.2" y="122.4">41%</text>
<text x="457.6" y="74.9">1%</text>
<text x="499" y="107.4">24%</text>
<text x="379.7" y="151.9">62%</text>
<text x="542.1" y="143.9">13%</text>
<text x="147" y="272.7">2%</text>
<text x="191.4" y="307.5">22%</text>
<text x="72.5" y="325">43%</text>
<text x="216.9" y="369.5">33%</text>
<text x="457.4" y="272.5">1%</text>
<text x="507.1" y="308.1">30%</text>
<text x="400.3" y="310.2">32%</text>
<text x="464.7" y="377.2">37%</text>
<text x="151" y="477.5">1%</text>
<text x="89.8" y="515.9">35%</text>
<text x="200" y="512.8">30%</text>
<text x="169.1" y="580.8">34%</text>
<text x="393.1" y="519.2">46%</text>
<text x="522.8" y="512.8">38%</text>
<text x="489.9" y="577">16%</text>
</g>
<g font-weight="bold" font-size="22" fill="#000">
<text x="151.6" y="248">S1</text>
<text x="459.2" y="244.3">S2</text>
<text x="151.6" y="451.4">S3</text>
<text x="459.2" y="445">S4</text>
<text x="151.6" y="651.4">S5</text>
<text x="459.4" y="651.4">S6</text>
</g>
<text x="141.8" y="696" font-size="16" fill="#000"><tspan font-weight="bold">Figure 3:</tspan> Distribution of phyoplankton in Ulsoor lake</text>
<defs><clipPath id="cp0"><rect x="17" y="705" width="85" height="96"/></clipPath><clipPath id="cp1"><rect x="102" y="705" width="87" height="96"/></clipPath><clipPath id="cp2"><rect x="189" y="705" width="124" height="96"/></clipPath><clipPath id="cp3"><rect x="313" y="705" width="108" height="96"/></clipPath><clipPath id="cp4"><rect x="421" y="705" width="93" height="96"/></clipPath><clipPath id="cp5"><rect x="514" y="705" width="114" height="96"/></clipPath><pattern id="mer" width="5.2" height="5.2" patternUnits="userSpaceOnUse" patternTransform="rotate(40)"><rect width="5.2" height="5.2" fill="#8c7e8c"/><circle cx="2.6" cy="2.6" r="2.4" fill="#c4e4d8"/><circle cx="2.2" cy="2.1" r="1.4" fill="#f4fcf8"/></pattern></defs><rect x="17" y="705" width="85" height="96" fill="#bfb8ba"/>
<rect x="102" y="705" width="87" height="96" fill="#c5c6cc"/>
<rect x="189" y="705" width="124" height="96" fill="#e7e7eb"/>
<rect x="313" y="705" width="108" height="96" fill="#aba7b6"/>
<rect x="421" y="705" width="93" height="96" fill="#dad9de"/>
<rect x="514" y="705" width="114" height="96" fill="#d7d7e2"/>
<g clip-path="url(#cp0)">
<path d="M56.3,722.7 Q52.0,717.2 51.2,711.0 Q52.0,717.2 49.1,723.6 Z" fill="#e8e4e4" stroke="#5a4848" stroke-width="0.7"/>
<path d="M72.0,727.2 Q70.7,720.4 73.3,713.0 Q70.7,720.4 65.3,724.8 Z" fill="#e8e4e4" stroke="#5a4848" stroke-width="0.7"/>
<path d="M85.4,740.4 Q88.1,734.0 94.8,729.0 Q88.1,734.0 81.1,734.6 Z" fill="#e8e4e4" stroke="#5a4848" stroke-width="0.7"/>
<path d="M90.4,757.7 Q95.9,753.3 101.5,752.6 Q95.9,753.3 89.5,750.5 Z" fill="#e8e4e4" stroke="#5a4848" stroke-width="0.7"/>
<path d="M83.9,775.0 Q90.9,774.6 97.4,778.0 Q90.9,774.6 87.2,768.6 Z" fill="#e8e4e4" stroke="#5a4848" stroke-width="0.7"/>
<path d="M71.8,786.6 Q77.7,790.4 81.4,798.0 Q77.7,790.4 78.3,783.4 Z" fill="#e8e4e4" stroke="#5a4848" stroke-width="0.7"/>
<path d="M54.8,785.9 Q57.0,792.6 55.9,797.5 Q57.0,792.6 61.8,787.5 Z" fill="#e8e4e4" stroke="#5a4848" stroke-width="0.7"/>
<path d="M39.9,777.0 Q39.2,784.0 37.1,786.8 Q39.2,784.0 45.7,781.4 Z" fill="#e8e4e4" stroke="#5a4848" stroke-width="0.7"/>
<path d="M30.4,764.8 Q27.7,771.2 23.0,774.7 Q27.7,771.2 34.7,770.6 Z" fill="#e8e4e4" stroke="#5a4848" stroke-width="0.7"/>
<path d="M31.2,744.5 Q24.4,745.8 19.0,743.9 Q24.4,745.8 28.8,751.2 Z" fill="#e8e4e4" stroke="#5a4848" stroke-width="0.7"/>
<path d="M40.1,729.8 Q33.6,727.3 29.7,722.4 Q33.6,727.3 34.5,734.3 Z" fill="#e8e4e4" stroke="#5a4848" stroke-width="0.7"/>
<polygon points="52.2,719.2 62.3,731.5 45.4,733.6" fill="#90b020" stroke="#6e5a2a" stroke-width="3.2" stroke-linejoin="round"/>
<polygon points="52.2,719.2 62.3,731.5 45.4,733.6" fill="#90b020" stroke="#90b020" stroke-width="1.6" stroke-linejoin="round"/>
<polygon points="70.0,722.3 73.5,737.8 57.4,732.1" fill="#90b020" stroke="#6e5a2a" stroke-width="3.2" stroke-linejoin="round"/>
<polygon points="70.0,722.3 73.5,737.8 57.4,732.1" fill="#90b020" stroke="#90b020" stroke-width="1.6" stroke-linejoin="round"/>
<polygon points="86.4,735.2 80.6,750.0 70.5,736.3" fill="#90b020" stroke="#6e5a2a" stroke-width="3.2" stroke-linejoin="round"/>
<polygon points="86.4,735.2 80.6,750.0 70.5,736.3" fill="#90b020" stroke="#90b020" stroke-width="1.6" stroke-linejoin="round"/>
<polygon points="93.9,753.6 81.6,763.7 79.5,746.9" fill="#90b020" stroke="#6e5a2a" stroke-width="3.2" stroke-linejoin="round"/>
<polygon points="93.9,753.6 81.6,763.7 79.5,746.9" fill="#90b020" stroke="#90b020" stroke-width="1.6" stroke-linejoin="round"/>
<polygon points="89.1,773.7 73.2,775.0 81.0,759.9" fill="#90b020" stroke="#6e5a2a" stroke-width="3.2" stroke-linejoin="round"/>
<polygon points="89.1,773.7 73.2,775.0 81.0,759.9" fill="#90b020" stroke="#90b020" stroke-width="1.6" stroke-linejoin="round"/>
<polygon points="76.8,788.6 63.2,780.2 78.5,772.7" fill="#90b020" stroke="#6e5a2a" stroke-width="3.2" stroke-linejoin="round"/>
<polygon points="76.8,788.6 63.2,780.2 78.5,772.7" fill="#90b020" stroke="#90b020" stroke-width="1.6" stroke-linejoin="round"/>
<polygon points="57.4,790.6 52.1,775.6 68.7,779.3" fill="#90b020" stroke="#6e5a2a" stroke-width="3.2" stroke-linejoin="round"/>
<polygon points="57.4,790.6 52.1,775.6 68.7,779.3" fill="#90b020" stroke="#90b020" stroke-width="1.6" stroke-linejoin="round"/>
<polygon points="40.4,782.4 41.7,766.5 55.3,776.7" fill="#90b020" stroke="#6e5a2a" stroke-width="3.2" stroke-linejoin="round"/>
<polygon points="40.4,782.4 41.7,766.5 55.3,776.7" fill="#90b020" stroke="#90b020" stroke-width="1.6" stroke-linejoin="round"/>
<polygon points="29.4,770.0 35.2,755.2 45.3,768.9" fill="#90b020" stroke="#6e5a2a" stroke-width="3.2" stroke-linejoin="round"/>
<polygon points="29.4,770.0 35.2,755.2 45.3,768.9" fill="#90b020" stroke="#90b020" stroke-width="1.6" stroke-linejoin="round"/>
<polygon points="26.3,746.5 41.8,743.1 36.1,759.1" fill="#90b020" stroke="#6e5a2a" stroke-width="3.2" stroke-linejoin="round"/>
<polygon points="26.3,746.5 41.8,743.1 36.1,759.1" fill="#90b020" stroke="#90b020" stroke-width="1.6" stroke-linejoin="round"/>
<polygon points="34.8,728.9 49.9,734.3 36.5,744.8" fill="#90b020" stroke="#6e5a2a" stroke-width="3.2" stroke-linejoin="round"/>
<polygon points="34.8,728.9 49.9,734.3 36.5,744.8" fill="#90b020" stroke="#90b020" stroke-width="1.6" stroke-linejoin="round"/>
<circle cx="53.2" cy="743.9" r="7.6" fill="#8cae1e" stroke="#6e5a2a" stroke-width="0.9"/>
<circle cx="66.6" cy="745.2" r="7.6" fill="#8cae1e" stroke="#6e5a2a" stroke-width="0.9"/>
<circle cx="70" cy="760" r="7.6" fill="#8cae1e" stroke="#6e5a2a" stroke-width="0.9"/>
<circle cx="57.2" cy="767.3" r="7.6" fill="#8cae1e" stroke="#6e5a2a" stroke-width="0.9"/>
<circle cx="46.5" cy="756.6" r="7.6" fill="#8cae1e" stroke="#6e5a2a" stroke-width="0.9"/>
<circle cx="51.8" cy="724.3" r="1.5" fill="#c4d840"/>
<circle cx="55.8" cy="723.9" r="1.4" fill="#4e7010"/>
<circle cx="49.5" cy="726.6" r="0.9" fill="#c4d840"/>
<circle cx="53.6" cy="723.6" r="1.4" fill="#4e7010"/>
<circle cx="54.2" cy="727.8" r="0.9" fill="#5a8012"/>
<circle cx="63.7" cy="727.6" r="1.4" fill="#4e7010"/>
<circle cx="65.6" cy="727.0" r="0.9" fill="#a8c830"/>
<circle cx="67.8" cy="731.3" r="0.9" fill="#4e7010"/>
<circle cx="66.3" cy="730.2" r="0.9" fill="#c4d840"/>
<circle cx="68.3" cy="729.8" r="1.3" fill="#a8c830"/>
<circle cx="79.7" cy="743.3" r="1.2" fill="#4e7010"/>
<circle cx="82.4" cy="741.5" r="1.0" fill="#a8c830"/>
<circle cx="80.2" cy="742.9" r="1.5" fill="#a8c830"/>
<circle cx="80.9" cy="736.5" r="1.3" fill="#4e7010"/>
<circle cx="82.1" cy="737.1" r="1.3" fill="#c4d840"/>
<circle cx="89.7" cy="751.2" r="1.4" fill="#a8c830"/>
<circle cx="84.7" cy="753.4" r="1.3" fill="#5a8012"/>
<circle cx="82.6" cy="751.3" r="1.1" fill="#c4d840"/>
<circle cx="82.5" cy="756.2" r="1.4" fill="#5a8012"/>
<circle cx="84.3" cy="753.7" r="1.5" fill="#c4d840"/>
<circle cx="85.5" cy="768.8" r="1.4" fill="#5a8012"/>
<circle cx="78.5" cy="772.1" r="0.9" fill="#4e7010"/>
<circle cx="81.2" cy="773.3" r="1.3" fill="#4e7010"/>
<circle cx="81.6" cy="770.4" r="1.7" fill="#5a8012"/>
<circle cx="84.9" cy="768.2" r="1.2" fill="#a8c830"/>
<circle cx="74.8" cy="780.4" r="1.0" fill="#c4d840"/>
<circle cx="70.7" cy="779.3" r="1.0" fill="#5a8012"/>
<circle cx="75.9" cy="778.9" r="1.1" fill="#4e7010"/>
<circle cx="72.7" cy="780.4" r="1.4" fill="#4e7010"/>
<circle cx="74.8" cy="781.5" r="1.4" fill="#c4d840"/>
<circle cx="58.9" cy="785.8" r="1.8" fill="#5a8012"/>
<circle cx="58.4" cy="782.0" r="1.3" fill="#5a8012"/>
<circle cx="55.7" cy="779.3" r="1.0" fill="#4e7010"/>
<circle cx="56.1" cy="783.6" r="0.9" fill="#4e7010"/>
<circle cx="59.5" cy="786.4" r="1.4" fill="#c4d840"/>
<circle cx="48.2" cy="776.9" r="0.9" fill="#a8c830"/>
<circle cx="48.8" cy="776.8" r="1.3" fill="#c4d840"/>
<circle cx="48.0" cy="779.9" r="1.3" fill="#5a8012"/>
<circle cx="43.7" cy="773.2" r="1.5" fill="#a8c830"/>
<circle cx="45.0" cy="777.5" r="1.3" fill="#4e7010"/>
<circle cx="39.4" cy="765.5" r="0.9" fill="#c4d840"/>
<circle cx="37.9" cy="763.7" r="1.4" fill="#c4d840"/>
<circle cx="37.4" cy="763.4" r="1.2" fill="#4e7010"/>
<circle cx="34.6" cy="763.1" r="1.3" fill="#a8c830"/>
<circle cx="36.9" cy="766.2" r="1.6" fill="#4e7010"/>
<circle cx="36.2" cy="751.7" r="1.5" fill="#4e7010"/>
<circle cx="31.4" cy="749.1" r="1.5" fill="#c4d840"/>
<circle cx="36.1" cy="749.0" r="1.0" fill="#a8c830"/>
<circle cx="33.4" cy="752.7" r="1.8" fill="#a8c830"/>
<circle cx="30.4" cy="746.0" r="1.3" fill="#a8c830"/>
<circle cx="37.4" cy="736.2" r="1.7" fill="#c4d840"/>
<circle cx="39.6" cy="736.4" r="1.6" fill="#c4d840"/>
<circle cx="42.5" cy="732.2" r="1.2" fill="#4e7010"/>
<circle cx="39.6" cy="732.6" r="1.6" fill="#a8c830"/>
<circle cx="36.5" cy="738.8" r="1.5" fill="#5a8012"/>
<circle cx="52.4" cy="747.5" r="1.5" fill="#4e7010"/>
<circle cx="57.1" cy="740.1" r="1.4" fill="#5a8012"/>
<circle cx="55.7" cy="741.1" r="1.6" fill="#5a8012"/>
<circle cx="54.5" cy="742.7" r="1.3" fill="#4e7010"/>
<circle cx="49.4" cy="746.3" r="1.5" fill="#c4d840"/>
<circle cx="66.8" cy="748.7" r="1.2" fill="#4e7010"/>
<circle cx="69.2" cy="742.9" r="1.1" fill="#a8c830"/>
<circle cx="66.6" cy="747.3" r="1.1" fill="#5a8012"/>
<circle cx="69.3" cy="741.7" r="1.5" fill="#5a8012"/>
<circle cx="67.9" cy="747.7" r="1.3" fill="#4e7010"/>
<circle cx="70.3" cy="760.2" r="0.8" fill="#5a8012"/>
<circle cx="72.2" cy="760.9" r="1.6" fill="#4e7010"/>
<circle cx="67.4" cy="759.8" r="1.5" fill="#c4d840"/>
<circle cx="68.6" cy="760.1" r="1.4" fill="#c4d840"/>
<circle cx="73.1" cy="756.5" r="1.0" fill="#c4d840"/>
<circle cx="59.4" cy="767.4" r="1.4" fill="#c4d840"/>
<circle cx="56.7" cy="768.2" r="1.3" fill="#4e7010"/>
<circle cx="58.7" cy="766.9" r="1.3" fill="#5a8012"/>
<circle cx="57.3" cy="765.3" r="1.3" fill="#a8c830"/>
<circle cx="60.6" cy="770.4" r="1.0" fill="#5a8012"/>
<circle cx="43.6" cy="753.6" r="1.2" fill="#c4d840"/>
<circle cx="47.9" cy="756.0" r="1.0" fill="#a8c830"/>
<circle cx="48.8" cy="759.8" r="1.0" fill="#a8c830"/>
<circle cx="43.6" cy="759.7" r="1.8" fill="#4e7010"/>
<circle cx="48.5" cy="753.4" r="1.7" fill="#4e7010"/>
</g>
<g clip-path="url(#cp1)">
<ellipse cx="135.3" cy="742.0" rx="16.1" ry="3.6" transform="rotate(-96.5 135.3 742.0)" fill="#f0f060" stroke="#f4f4f8" stroke-width="1.2"/>
<ellipse cx="135.3" cy="742.0" rx="14.1" ry="2.2" transform="rotate(-96.5 135.3 742.0)" fill="#3c6a10"/>
<ellipse cx="144.2" cy="745.8" rx="14.4" ry="3.6" transform="rotate(-57.4 144.2 745.8)" fill="#ffffa0" stroke="#f4f4f8" stroke-width="1.2"/>
<ellipse cx="144.2" cy="745.8" rx="12.4" ry="2.2" transform="rotate(-57.4 144.2 745.8)" fill="#d8e040"/>
<ellipse cx="145.5" cy="750.9" rx="11.5" ry="3.6" transform="rotate(-35.7 145.5 750.9)" fill="#e0e050" stroke="#f4f4f8" stroke-width="1.2"/>
<ellipse cx="145.5" cy="750.9" rx="9.5" ry="2.2" transform="rotate(-35.7 145.5 750.9)" fill="#2a4a10"/>
<ellipse cx="150.4" cy="758.5" rx="14.5" ry="3.6" transform="rotate(6.2 150.4 758.5)" fill="#f8f8c0" stroke="#f4f4f8" stroke-width="1.2"/>
<ellipse cx="150.4" cy="758.5" rx="12.5" ry="2.2" transform="rotate(6.2 150.4 758.5)" fill="#b0d040"/>
<ellipse cx="138.7" cy="769.4" rx="13.5" ry="3.6" transform="rotate(82.2 138.7 769.4)" fill="#e8e060" stroke="#f4f4f8" stroke-width="1.2"/>
<ellipse cx="138.7" cy="769.4" rx="11.5" ry="2.2" transform="rotate(82.2 138.7 769.4)" fill="#2a4010"/>
<ellipse cx="125.7" cy="756.4" rx="12.3" ry="3.6" transform="rotate(-177.0 125.7 756.4)" fill="#fff8b0" stroke="#f4f4f8" stroke-width="1.2"/>
<ellipse cx="125.7" cy="756.4" rx="10.3" ry="2.2" transform="rotate(-177.0 125.7 756.4)" fill="#e8e050"/>
<ellipse cx="127.8" cy="759.8" rx="10.7" ry="3.6" transform="rotate(163.2 127.8 759.8)" fill="#e0d060" stroke="#f4f4f8" stroke-width="1.2"/>
<ellipse cx="127.8" cy="759.8" rx="8.7" ry="2.2" transform="rotate(163.2 127.8 759.8)" fill="#202810"/>
</g>
<g clip-path="url(#cp2)">
<circle cx="211.1" cy="746.6" r="1.9" fill="#8e9870"/>
<circle cx="240.2" cy="739.5" r="2.2" fill="#4e5a36"/>
<circle cx="195.2" cy="758.1" r="2.2" fill="#5a6640"/>
<circle cx="236.0" cy="754.6" r="2.0" fill="#7e8a60"/>
<circle cx="204.7" cy="731.0" r="2.3" fill="#4e5a36"/>
<circle cx="213.3" cy="777.0" r="2.3" fill="#5a6640"/>
<circle cx="268.7" cy="794.9" r="1.7" fill="#5a6640"/>
<circle cx="295.9" cy="759.6" r="1.9" fill="#3e4a2c"/>
<circle cx="224.3" cy="781.2" r="1.9" fill="#66724a"/>
<circle cx="264.1" cy="781.4" r="2.1" fill="#4e5a36"/>
<circle cx="217.9" cy="730.9" r="2.0" fill="#4e5a36"/>
<circle cx="231.0" cy="758.0" r="2.1" fill="#7e8a60"/>
<circle cx="222.3" cy="723.0" r="2.1" fill="#7e8a60"/>
<circle cx="252.5" cy="725.4" r="2.0" fill="#5a6640"/>
<circle cx="212.9" cy="738.6" r="2.4" fill="#4e5a36"/>
<circle cx="249.6" cy="797.9" r="2.0" fill="#8e9870"/>
<circle cx="284.7" cy="746.6" r="2.0" fill="#5a6640"/>
<circle cx="227.5" cy="726.2" r="1.9" fill="#66724a"/>
<circle cx="286.2" cy="772.4" r="1.7" fill="#3e4a2c"/>
<circle cx="263.1" cy="788.7" r="1.7" fill="#5a6640"/>
<circle cx="290.5" cy="769.0" r="2.1" fill="#7e8a60"/>
<circle cx="213.8" cy="731.3" r="1.8" fill="#4e5a36"/>
<circle cx="254.3" cy="729.0" r="1.8" fill="#7e8a60"/>
<circle cx="213.5" cy="737.5" r="2.0" fill="#4e5a36"/>
<circle cx="249.3" cy="724.9" r="2.2" fill="#8e9870"/>
<circle cx="209.1" cy="761.2" r="1.6" fill="#5a6640"/>
<circle cx="227.1" cy="727.9" r="2.4" fill="#8e9870"/>
<circle cx="288.6" cy="720.6" r="2.2" fill="#3e4a2c"/>
<circle cx="248.3" cy="732.7" r="2.1" fill="#8e9870"/>
<circle cx="292.9" cy="765.0" r="2.2" fill="#3e4a2c"/>
<circle cx="249.6" cy="791.5" r="2.1" fill="#8e9870"/>
<circle cx="269.9" cy="781.0" r="2.1" fill="#3e4a2c"/>
<circle cx="270.7" cy="727.6" r="1.6" fill="#4e5a36"/>
<circle cx="264.4" cy="796.2" r="2.3" fill="#5a6640"/>
<circle cx="282.3" cy="776.3" r="2.3" fill="#8e9870"/>
<circle cx="203.3" cy="755.4" r="2.2" fill="#3e4a2c"/>
<circle cx="222.7" cy="774.6" r="1.8" fill="#66724a"/>
<circle cx="265.8" cy="749.3" r="2.0" fill="#4e5a36"/>
<circle cx="269.6" cy="778.1" r="2.1" fill="#8e9870"/>
<circle cx="215.2" cy="762.4" r="1.8" fill="#7e8a60"/>
<circle cx="276.2" cy="734.6" r="1.7" fill="#8e9870"/>
<circle cx="247.0" cy="751.7" r="2.2" fill="#4e5a36"/>
<circle cx="268.7" cy="733.3" r="1.8" fill="#8e9870"/>
<circle cx="245.2" cy="778.1" r="1.8" fill="#8e9870"/>
<circle cx="195.0" cy="749.1" r="2.4" fill="#8e9870"/>
<circle cx="243.3" cy="731.3" r="2.3" fill="#66724a"/>
<circle cx="203.1" cy="776.3" r="2.4" fill="#7e8a60"/>
<circle cx="207.9" cy="783.1" r="1.8" fill="#8e9870"/>
<circle cx="205.6" cy="740.3" r="2.3" fill="#5a6640"/>
<circle cx="247.4" cy="708.3" r="2.4" fill="#4e5a36"/>
<circle cx="269.3" cy="744.1" r="1.7" fill="#3e4a2c"/>
<circle cx="231.5" cy="735.7" r="1.6" fill="#7e8a60"/>
<circle cx="277.1" cy="784.9" r="2.4" fill="#4e5a36"/>
<circle cx="275.9" cy="729.8" r="1.9" fill="#4e5a36"/>
<circle cx="233.4" cy="746.2" r="2.3" fill="#7e8a60"/>
<circle cx="301.8" cy="747.0" r="1.8" fill="#7e8a60"/>
<circle cx="234.8" cy="795.9" r="2.2" fill="#4e5a36"/>
<circle cx="263.7" cy="791.9" r="2.0" fill="#8e9870"/>
<circle cx="275.0" cy="748.4" r="2.1" fill="#66724a"/>
<circle cx="245.9" cy="738.3" r="1.8" fill="#7e8a60"/>
<circle cx="275.7" cy="767.4" r="2.1" fill="#5a6640"/>
<circle cx="226.7" cy="758.4" r="1.7" fill="#5a6640"/>
<circle cx="265.0" cy="713.1" r="2.3" fill="#8e9870"/>
<circle cx="248.7" cy="726.7" r="2.4" fill="#7e8a60"/>
<circle cx="243.4" cy="719.1" r="1.8" fill="#66724a"/>
<circle cx="212.6" cy="758.3" r="1.8" fill="#7e8a60"/>
<circle cx="221.9" cy="759.5" r="2.2" fill="#4e5a36"/>
<circle cx="239.2" cy="744.9" r="1.8" fill="#8e9870"/>
<circle cx="223.3" cy="776.7" r="1.8" fill="#5a6640"/>
<circle cx="249.4" cy="765.2" r="1.7" fill="#66724a"/>
<circle cx="293.4" cy="742.1" r="2.0" fill="#3e4a2c"/>
<circle cx="293.3" cy="750.5" r="2.0" fill="#8e9870"/>
<circle cx="297.0" cy="755.6" r="2.4" fill="#5a6640"/>
<circle cx="220.8" cy="716.3" r="1.7" fill="#66724a"/>
<circle cx="285.4" cy="771.9" r="1.7" fill="#5a6640"/>
<circle cx="207.1" cy="759.5" r="2.1" fill="#4e5a36"/>
<circle cx="227.0" cy="718.0" r="2.0" fill="#7e8a60"/>
<circle cx="226.6" cy="794.7" r="1.9" fill="#66724a"/>
<circle cx="218.0" cy="762.5" r="2.0" fill="#4e5a36"/>
<circle cx="228.4" cy="784.9" r="2.0" fill="#66724a"/>
<circle cx="219.3" cy="729.2" r="2.2" fill="#5a6640"/>
<circle cx="221.8" cy="768.7" r="1.8" fill="#7e8a60"/>
<circle cx="196.8" cy="737.8" r="1.9" fill="#5a6640"/>
<circle cx="225.7" cy="785.4" r="1.8" fill="#4e5a36"/>
<circle cx="284.8" cy="727.7" r="1.8" fill="#66724a"/>
<circle cx="262.8" cy="763.3" r="1.9" fill="#5a6640"/>
<circle cx="267.5" cy="795.2" r="2.3" fill="#66724a"/>
<circle cx="213.6" cy="748.3" r="2.3" fill="#3e4a2c"/>
<circle cx="297.3" cy="736.9" r="2.1" fill="#66724a"/>
<circle cx="274.2" cy="784.9" r="2.0" fill="#7e8a60"/>
<circle cx="202.0" cy="745.5" r="2.0" fill="#4e5a36"/>
<circle cx="278.0" cy="741.7" r="2.3" fill="#7e8a60"/>
<circle cx="241.4" cy="710.6" r="1.8" fill="#5a6640"/>
<circle cx="275.6" cy="750.6" r="1.9" fill="#3e4a2c"/>
<circle cx="283.9" cy="778.1" r="1.9" fill="#4e5a36"/>
<circle cx="245.0" cy="781.5" r="1.8" fill="#4e5a36"/>
<circle cx="276.7" cy="790.5" r="1.9" fill="#7e8a60"/>
<circle cx="230.5" cy="795.7" r="1.8" fill="#4e5a36"/>
<circle cx="273.3" cy="735.7" r="1.8" fill="#7e8a60"/>
<circle cx="273.8" cy="762.0" r="2.4" fill="#3e4a2c"/>
<circle cx="205.0" cy="773.3" r="2.4" fill="#5a6640"/>
<circle cx="236.3" cy="729.6" r="2.3" fill="#5a6640"/>
<circle cx="207.9" cy="752.7" r="2.2" fill="#4e5a36"/>
<circle cx="275.7" cy="783.3" r="2.1" fill="#66724a"/>
<circle cx="229.7" cy="736.0" r="2.2" fill="#7e8a60"/>
<circle cx="210.9" cy="744.3" r="1.6" fill="#3e4a2c"/>
<circle cx="254.9" cy="736.6" r="2.3" fill="#5a6640"/>
<circle cx="219.2" cy="745.2" r="2.3" fill="#8e9870"/>
<circle cx="219.3" cy="756.6" r="2.2" fill="#3e4a2c"/>
<circle cx="280.3" cy="733.6" r="2.1" fill="#7e8a60"/>
<circle cx="234.8" cy="775.4" r="2.0" fill="#66724a"/>
<circle cx="213.8" cy="728.1" r="2.3" fill="#7e8a60"/>
<circle cx="257.8" cy="736.7" r="1.8" fill="#5a6640"/>
<circle cx="220.5" cy="755.5" r="2.2" fill="#3e4a2c"/>
<circle cx="204.5" cy="750.6" r="2.3" fill="#66724a"/>
<circle cx="225.9" cy="717.2" r="2.1" fill="#66724a"/>
<circle cx="285.7" cy="724.3" r="1.9" fill="#4e5a36"/>
<circle cx="290.0" cy="748.2" r="2.2" fill="#7e8a60"/>
<circle cx="197.2" cy="738.0" r="1.8" fill="#4e5a36"/>
<circle cx="221.6" cy="762.3" r="2.3" fill="#3e4a2c"/>
<circle cx="284.3" cy="783.0" r="2.1" fill="#5a6640"/>
<circle cx="213.7" cy="735.3" r="1.6" fill="#66724a"/>
<circle cx="282.1" cy="768.4" r="2.1" fill="#66724a"/>
<circle cx="270.9" cy="744.5" r="2.1" fill="#7e8a60"/>
<circle cx="239.8" cy="710.8" r="2.1" fill="#3e4a2c"/>
<circle cx="233.0" cy="745.1" r="2.1" fill="#7e8a60"/>
<circle cx="236.8" cy="744.1" r="1.9" fill="#4e5a36"/>
<circle cx="203.1" cy="760.3" r="2.0" fill="#7e8a60"/>
<circle cx="254.8" cy="766.2" r="2.1" fill="#4e5a36"/>
<circle cx="296.8" cy="775.3" r="1.7" fill="#66724a"/>
<circle cx="224.7" cy="755.0" r="1.7" fill="#4e5a36"/>
<circle cx="247.9" cy="781.7" r="1.8" fill="#66724a"/>
<circle cx="295.2" cy="735.6" r="2.3" fill="#8e9870"/>
<circle cx="236.4" cy="791.0" r="2.2" fill="#8e9870"/>
<circle cx="292.8" cy="766.2" r="2.1" fill="#66724a"/>
<circle cx="261.8" cy="724.4" r="1.7" fill="#5a6640"/>
<circle cx="217.4" cy="743.6" r="1.7" fill="#8e9870"/>
<circle cx="233.2" cy="720.0" r="2.3" fill="#3e4a2c"/>
<circle cx="214.6" cy="789.1" r="1.6" fill="#3e4a2c"/>
<circle cx="227.3" cy="745.5" r="1.8" fill="#8e9870"/>
<circle cx="236.6" cy="740.5" r="2.0" fill="#8e9870"/>
<circle cx="195.6" cy="764.2" r="2.0" fill="#5a6640"/>
<circle cx="243.0" cy="764.1" r="2.2" fill="#66724a"/>
<circle cx="237.8" cy="712.3" r="1.9" fill="#7e8a60"/>
<circle cx="203.3" cy="747.5" r="2.1" fill="#8e9870"/>
<circle cx="296.3" cy="735.5" r="2.0" fill="#3e4a2c"/>
<circle cx="199.1" cy="753.4" r="2.1" fill="#5a6640"/>
<circle cx="200.4" cy="763.7" r="2.3" fill="#3e4a2c"/>
<circle cx="248.1" cy="795.9" r="2.1" fill="#66724a"/>
<circle cx="273.8" cy="726.8" r="2.1" fill="#7e8a60"/>
<circle cx="221.2" cy="736.4" r="1.8" fill="#8e9870"/>
<circle cx="284.4" cy="719.5" r="2.4" fill="#8e9870"/>
<circle cx="219.6" cy="741.0" r="1.7" fill="#66724a"/>
<circle cx="269.1" cy="790.2" r="2.2" fill="#66724a"/>
<circle cx="222.6" cy="778.2" r="2.1" fill="#4e5a36"/>
<circle cx="233.3" cy="788.1" r="2.0" fill="#8e9870"/>
<circle cx="270.1" cy="790.2" r="2.4" fill="#7e8a60"/>
<circle cx="263.5" cy="743.1" r="1.8" fill="#7e8a60"/>
<circle cx="303.9" cy="760.3" r="1.9" fill="#7e8a60"/>
<circle cx="261.9" cy="796.1" r="2.3" fill="#7e8a60"/>
<circle cx="221.4" cy="766.1" r="2.3" fill="#8e9870"/>
<circle cx="293.3" cy="774.9" r="1.6" fill="#3e4a2c"/>
<circle cx="209.7" cy="763.9" r="1.9" fill="#5a6640"/>
<circle cx="233.8" cy="710.5" r="1.8" fill="#5a6640"/>
<circle cx="204.9" cy="739.6" r="1.9" fill="#66724a"/>
<circle cx="226.7" cy="718.6" r="2.1" fill="#7e8a60"/>
<circle cx="246.2" cy="718.7" r="2.2" fill="#66724a"/>
<circle cx="243.5" cy="712.0" r="2.3" fill="#66724a"/>
<circle cx="280.6" cy="743.8" r="2.4" fill="#7e8a60"/>
<circle cx="293.0" cy="761.9" r="2.0" fill="#8e9870"/>
<circle cx="298.0" cy="775.0" r="1.7" fill="#66724a"/>
<circle cx="204.8" cy="763.6" r="2.4" fill="#3e4a2c"/>
<circle cx="208.9" cy="724.8" r="2.1" fill="#8e9870"/>
<circle cx="265.5" cy="745.0" r="1.7" fill="#8e9870"/>
<circle cx="227.7" cy="734.2" r="2.4" fill="#4e5a36"/>
<circle cx="274.1" cy="750.9" r="1.6" fill="#8e9870"/>
<circle cx="287.6" cy="776.0" r="1.7" fill="#5a6640"/>
<circle cx="266.4" cy="722.5" r="1.8" fill="#4e5a36"/>
<circle cx="265.1" cy="717.6" r="2.3" fill="#3e4a2c"/>
<circle cx="198.9" cy="765.8" r="1.9" fill="#3e4a2c"/>
<circle cx="281.3" cy="755.2" r="1.8" fill="#7e8a60"/>
<circle cx="202.6" cy="753.7" r="1.8" fill="#66724a"/>
<circle cx="219.4" cy="775.9" r="2.2" fill="#66724a"/>
<circle cx="229.6" cy="788.7" r="2.1" fill="#7e8a60"/>
<circle cx="235.5" cy="786.1" r="2.4" fill="#3e4a2c"/>
<circle cx="287.3" cy="756.4" r="2.3" fill="#5a6640"/>
<circle cx="271.1" cy="786.6" r="2.4" fill="#5a6640"/>
<circle cx="219.2" cy="789.2" r="1.9" fill="#66724a"/>
<circle cx="262.7" cy="721.2" r="2.2" fill="#66724a"/>
<circle cx="265.1" cy="710.0" r="2.2" fill="#4e5a36"/>
<circle cx="200.4" cy="761.5" r="1.8" fill="#7e8a60"/>
<circle cx="299.9" cy="756.2" r="1.7" fill="#3e4a2c"/>
<circle cx="216.0" cy="716.5" r="2.4" fill="#4e5a36"/>
<circle cx="295.0" cy="776.9" r="2.3" fill="#4e5a36"/>
<circle cx="263.7" cy="733.0" r="1.7" fill="#4e5a36"/>
<circle cx="281.7" cy="766.8" r="1.9" fill="#7e8a60"/>
<circle cx="240.5" cy="708.0" r="2.3" fill="#7e8a60"/>
<circle cx="295.0" cy="778.3" r="2.0" fill="#8e9870"/>
<circle cx="288.4" cy="764.1" r="2.2" fill="#4e5a36"/>
<circle cx="196.5" cy="754.8" r="1.9" fill="#4e5a36"/>
<circle cx="271.9" cy="756.6" r="2.2" fill="#66724a"/>
<circle cx="285.7" cy="760.0" r="1.7" fill="#7e8a60"/>
<circle cx="193.5" cy="752.1" r="2.2" fill="#5a6640"/>
<circle cx="259.4" cy="796.0" r="1.8" fill="#8e9870"/>
<circle cx="298.7" cy="732.7" r="2.4" fill="#66724a"/>
<circle cx="218.9" cy="721.6" r="2.2" fill="#3e4a2c"/>
<circle cx="255.9" cy="715.8" r="1.9" fill="#7e8a60"/>
<circle cx="237.9" cy="743.1" r="1.7" fill="#3e4a2c"/>
<circle cx="216.1" cy="730.7" r="2.0" fill="#8e9870"/>
<circle cx="235.5" cy="789.1" r="2.4" fill="#66724a"/>
<circle cx="207.2" cy="761.8" r="2.2" fill="#3e4a2c"/>
<circle cx="265.4" cy="738.8" r="2.0" fill="#7e8a60"/>
<circle cx="290.2" cy="748.3" r="2.2" fill="#8e9870"/>
<circle cx="212.0" cy="747.2" r="2.1" fill="#7e8a60"/>
<circle cx="207.1" cy="749.4" r="1.8" fill="#3e4a2c"/>
<circle cx="214.5" cy="734.3" r="2.3" fill="#3e4a2c"/>
<circle cx="262.1" cy="774.0" r="1.9" fill="#3e4a2c"/>
<circle cx="251.5" cy="721.1" r="2.4" fill="#7e8a60"/>
<circle cx="266.7" cy="724.4" r="2.4" fill="#66724a"/>
<circle cx="282.0" cy="774.9" r="1.8" fill="#5a6640"/>
<circle cx="224.5" cy="789.2" r="1.6" fill="#5a6640"/>
<circle cx="237.7" cy="780.4" r="1.8" fill="#3e4a2c"/>
<circle cx="220.1" cy="786.2" r="2.1" fill="#3e4a2c"/>
<circle cx="276.9" cy="745.6" r="2.1" fill="#66724a"/>
<circle cx="266.1" cy="788.5" r="2.2" fill="#3e4a2c"/>
<circle cx="288.5" cy="769.9" r="1.7" fill="#3e4a2c"/>
<circle cx="241.4" cy="730.4" r="1.7" fill="#3e4a2c"/>
<circle cx="240.0" cy="779.5" r="2.2" fill="#3e4a2c"/>
<circle cx="210.5" cy="785.8" r="2.0" fill="#5a6640"/>
<circle cx="266.3" cy="779.1" r="2.3" fill="#5a6640"/>
<circle cx="221.1" cy="726.5" r="2.2" fill="#3e4a2c"/>
<circle cx="298.3" cy="754.8" r="2.3" fill="#4e5a36"/>
<circle cx="244.2" cy="725.3" r="2.0" fill="#5a6640"/>
<circle cx="264.6" cy="783.9" r="1.9" fill="#8e9870"/>
<circle cx="276.1" cy="748.9" r="1.7" fill="#3e4a2c"/>
<circle cx="250.5" cy="793.7" r="2.4" fill="#3e4a2c"/>
<circle cx="232.8" cy="711.3" r="1.9" fill="#7e8a60"/>
<circle cx="295.5" cy="765.1" r="1.9" fill="#3e4a2c"/>
<circle cx="222.7" cy="727.1" r="1.9" fill="#3e4a2c"/>
<circle cx="244.8" cy="721.5" r="2.2" fill="#4e5a36"/>
<circle cx="232.6" cy="766.0" r="2.0" fill="#5a6640"/>
<circle cx="226.0" cy="757.5" r="2.2" fill="#66724a"/>
<circle cx="271.9" cy="770.6" r="2.1" fill="#5a6640"/>
<circle cx="246.9" cy="781.7" r="1.8" fill="#7e8a60"/>
<circle cx="226.8" cy="751.1" r="2.1" fill="#5a6640"/>
<circle cx="210.1" cy="734.5" r="1.6" fill="#5a6640"/>
<circle cx="280.8" cy="719.2" r="2.1" fill="#7e8a60"/>
<circle cx="299.6" cy="767.7" r="2.1" fill="#7e8a60"/>
<circle cx="257.8" cy="786.3" r="2.2" fill="#66724a"/>
<circle cx="231.8" cy="720.4" r="2.2" fill="#5a6640"/>
<circle cx="293.1" cy="780.1" r="1.8" fill="#7e8a60"/>
<circle cx="242.1" cy="789.0" r="1.7" fill="#8e9870"/>
<circle cx="239.9" cy="783.7" r="2.0" fill="#5a6640"/>
<circle cx="199.5" cy="749.9" r="2.2" fill="#66724a"/>
<circle cx="220.6" cy="721.5" r="2.3" fill="#8e9870"/>
<circle cx="287.1" cy="741.2" r="2.4" fill="#5a6640"/>
<circle cx="268.7" cy="723.0" r="2.1" fill="#7e8a60"/>
<circle cx="196.2" cy="763.3" r="2.2" fill="#3e4a2c"/>
<circle cx="203.5" cy="751.5" r="1.6" fill="#66724a"/>
<circle cx="273.4" cy="764.8" r="1.7" fill="#7e8a60"/>
<circle cx="266.8" cy="738.1" r="2.0" fill="#8e9870"/>
<circle cx="295.2" cy="732.7" r="1.9" fill="#7e8a60"/>
<circle cx="285.7" cy="744.0" r="2.4" fill="#8e9870"/>
<circle cx="290.8" cy="738.4" r="2.1" fill="#66724a"/>
<circle cx="281.7" cy="737.1" r="2.2" fill="#7e8a60"/>
<circle cx="209.5" cy="769.3" r="2.1" fill="#3e4a2c"/>
<circle cx="269.3" cy="726.0" r="2.1" fill="#3e4a2c"/>
<circle cx="263.0" cy="722.3" r="1.7" fill="#3e4a2c"/>
<circle cx="295.4" cy="767.6" r="2.3" fill="#7e8a60"/>
<circle cx="208.5" cy="735.1" r="1.8" fill="#3e4a2c"/>
<circle cx="226.8" cy="745.6" r="1.6" fill="#7e8a60"/>
<circle cx="256.4" cy="760.4" r="2.1" fill="#5a6640"/>
<circle cx="283.8" cy="760.1" r="2.0" fill="#5a6640"/>
<circle cx="194.6" cy="742.4" r="2.4" fill="#8e9870"/>
<circle cx="266.9" cy="720.6" r="2.0" fill="#5a6640"/>
<circle cx="202.3" cy="750.4" r="2.1" fill="#66724a"/>
<circle cx="289.1" cy="726.5" r="1.7" fill="#4e5a36"/>
<circle cx="220.1" cy="775.0" r="2.3" fill="#66724a"/>
<circle cx="234.0" cy="776.2" r="2.3" fill="#3e4a2c"/>
<circle cx="274.7" cy="713.9" r="2.0" fill="#3e4a2c"/>
<circle cx="248.8" cy="768.9" r="2.2" fill="#4e5a36"/>
<circle cx="265.9" cy="782.8" r="1.9" fill="#4e5a36"/>
<circle cx="228.0" cy="762.4" r="2.1" fill="#5a6640"/>
<circle cx="228.4" cy="795.2" r="2.0" fill="#3e4a2c"/>
<circle cx="268.8" cy="719.6" r="1.9" fill="#4e5a36"/>
<circle cx="236.2" cy="779.9" r="2.2" fill="#7e8a60"/>
<circle cx="256.5" cy="733.5" r="2.1" fill="#4e5a36"/>
<circle cx="265.9" cy="781.4" r="1.9" fill="#8e9870"/>
<circle cx="260.9" cy="797.9" r="2.1" fill="#66724a"/>
<circle cx="227.6" cy="746.3" r="1.9" fill="#66724a"/>
<circle cx="269.7" cy="762.6" r="1.8" fill="#5a6640"/>
<circle cx="240.3" cy="761.1" r="1.8" fill="#4e5a36"/>
<circle cx="235.8" cy="780.0" r="2.3" fill="#3e4a2c"/>
<circle cx="219.2" cy="763.0" r="1.9" fill="#3e4a2c"/>
<circle cx="272.3" cy="793.0" r="2.2" fill="#8e9870"/>
<circle cx="281.7" cy="749.2" r="2.0" fill="#4e5a36"/>
<circle cx="232.8" cy="711.9" r="2.1" fill="#5a6640"/>
<circle cx="214.2" cy="724.1" r="2.2" fill="#66724a"/>
<circle cx="225.5" cy="760.3" r="1.9" fill="#7e8a60"/>
<circle cx="250.9" cy="720.0" r="2.3" fill="#4e5a36"/>
<circle cx="248.2" cy="787.4" r="2.1" fill="#7e8a60"/>
<circle cx="281.2" cy="720.7" r="1.6" fill="#8e9870"/>
<circle cx="224.4" cy="763.1" r="1.6" fill="#4e5a36"/>
<circle cx="280.3" cy="746.0" r="2.2" fill="#5a6640"/>
<circle cx="215.5" cy="723.0" r="1.6" fill="#4e5a36"/>
<circle cx="196.9" cy="740.7" r="2.0" fill="#3e4a2c"/>
<circle cx="200.2" cy="762.2" r="2.3" fill="#5a6640"/>
<circle cx="272.1" cy="714.5" r="2.1" fill="#7e8a60"/>
<circle cx="264.8" cy="795.9" r="2.0" fill="#3e4a2c"/>
<circle cx="213.5" cy="785.9" r="2.4" fill="#7e8a60"/>
<circle cx="232.4" cy="790.9" r="2.3" fill="#4e5a36"/>
<circle cx="272.5" cy="766.8" r="1.6" fill="#5a6640"/>
<circle cx="209.2" cy="777.0" r="2.1" fill="#66724a"/>
<circle cx="226.5" cy="761.6" r="1.7" fill="#3e4a2c"/>
<circle cx="229.3" cy="730.2" r="1.9" fill="#4e5a36"/>
<circle cx="235.5" cy="747.5" r="2.3" fill="#66724a"/>
<circle cx="292.9" cy="750.0" r="2.2" fill="#66724a"/>
<circle cx="210.6" cy="784.3" r="2.3" fill="#4e5a36"/>
<circle cx="208.7" cy="748.0" r="2.3" fill="#4e5a36"/>
<circle cx="229.1" cy="728.0" r="2.1" fill="#4e5a36"/>
<circle cx="209.0" cy="726.8" r="1.7" fill="#4e5a36"/>
<circle cx="243.6" cy="789.6" r="2.3" fill="#5a6640"/>
<circle cx="222.8" cy="744.7" r="1.6" fill="#66724a"/>
<circle cx="257.0" cy="733.9" r="1.8" fill="#66724a"/>
<circle cx="205.2" cy="748.9" r="1.7" fill="#5a6640"/>
<circle cx="293.2" cy="768.8" r="2.0" fill="#66724a"/>
<circle cx="241.4" cy="730.6" r="2.3" fill="#66724a"/>
<circle cx="203.9" cy="733.2" r="1.6" fill="#66724a"/>
<circle cx="274.4" cy="733.6" r="1.6" fill="#3e4a2c"/>
<circle cx="283.4" cy="738.0" r="2.0" fill="#66724a"/>
<circle cx="225.1" cy="739.8" r="2.3" fill="#4e5a36"/>
<circle cx="217.4" cy="759.7" r="2.3" fill="#66724a"/>
<circle cx="251.4" cy="727.7" r="1.8" fill="#66724a"/>
<circle cx="216.1" cy="763.6" r="2.1" fill="#3e4a2c"/>
<circle cx="214.5" cy="735.0" r="1.7" fill="#4e5a36"/>
<circle cx="275.1" cy="744.4" r="2.3" fill="#3e4a2c"/>
<circle cx="251.1" cy="738.7" r="2.3" fill="#7e8a60"/>
<circle cx="289.8" cy="752.3" r="1.9" fill="#4e5a36"/>
<circle cx="278.5" cy="718.5" r="1.8" fill="#3e4a2c"/>
<circle cx="213.8" cy="784.2" r="1.6" fill="#7e8a60"/>
<circle cx="271.7" cy="760.0" r="2.0" fill="#7e8a60"/>
<circle cx="273.0" cy="782.8" r="2.2" fill="#7e8a60"/>
<circle cx="290.2" cy="760.2" r="1.8" fill="#4e5a36"/>
<circle cx="205.1" cy="774.7" r="2.0" fill="#5a6640"/>
<circle cx="221.1" cy="782.8" r="1.6" fill="#4e5a36"/>
<circle cx="296.7" cy="775.4" r="1.6" fill="#7e8a60"/>
<circle cx="271.7" cy="715.7" r="2.2" fill="#4e5a36"/>
<circle cx="206.7" cy="744.1" r="2.0" fill="#66724a"/>
<circle cx="218.5" cy="727.3" r="2.1" fill="#3e4a2c"/>
<circle cx="276.6" cy="721.4" r="2.4" fill="#4e5a36"/>
<circle cx="236.5" cy="745.5" r="2.0" fill="#8e9870"/>
<circle cx="237.3" cy="794.5" r="1.9" fill="#7e8a60"/>
<circle cx="219.9" cy="737.5" r="2.3" fill="#5a6640"/>
<circle cx="228.9" cy="743.7" r="1.6" fill="#8e9870"/>
<circle cx="250.9" cy="796.0" r="1.8" fill="#7e8a60"/>
<circle cx="252.4" cy="712.5" r="1.8" fill="#5a6640"/>
<circle cx="267.9" cy="727.2" r="2.4" fill="#5a6640"/>
<circle cx="263.9" cy="782.1" r="1.6" fill="#4e5a36"/>
<circle cx="264.9" cy="731.0" r="2.1" fill="#3e4a2c"/>
<circle cx="263.4" cy="781.8" r="2.1" fill="#4e5a36"/>
<circle cx="221.1" cy="754.9" r="1.8" fill="#5a6640"/>
<circle cx="231.9" cy="721.7" r="2.1" fill="#4e5a36"/>
<circle cx="300.1" cy="754.3" r="1.7" fill="#7e8a60"/>
<circle cx="259.1" cy="793.6" r="1.7" fill="#5a6640"/>
<circle cx="207.7" cy="733.6" r="2.1" fill="#5a6640"/>
<circle cx="223.7" cy="775.2" r="2.0" fill="#3e4a2c"/>
<circle cx="287.1" cy="763.3" r="1.8" fill="#8e9870"/>
<circle cx="236.3" cy="757.6" r="2.0" fill="#7e8a60"/>
<circle cx="227.8" cy="728.8" r="1.8" fill="#66724a"/>
<circle cx="254.1" cy="797.1" r="1.6" fill="#5a6640"/>
<circle cx="232.5" cy="787.0" r="1.9" fill="#66724a"/>
<circle cx="229.5" cy="731.4" r="1.8" fill="#66724a"/>
<circle cx="279.5" cy="720.9" r="2.1" fill="#4e5a36"/>
<circle cx="232.0" cy="767.8" r="1.9" fill="#8e9870"/>
<circle cx="275.7" cy="720.5" r="2.1" fill="#7e8a60"/>
<circle cx="208.7" cy="725.0" r="2.3" fill="#8e9870"/>
<circle cx="285.0" cy="754.7" r="2.3" fill="#3e4a2c"/>
<circle cx="223.1" cy="765.3" r="2.3" fill="#3e4a2c"/>
<circle cx="258.6" cy="752.8" r="1.7" fill="#8e9870"/>
<circle cx="288.2" cy="732.3" r="2.1" fill="#8e9870"/>
<circle cx="235.5" cy="748.5" r="1.8" fill="#5a6640"/>
<circle cx="232.5" cy="739.2" r="2.0" fill="#8e9870"/>
<circle cx="236.1" cy="736.3" r="2.3" fill="#3e4a2c"/>
<circle cx="227.1" cy="719.6" r="1.9" fill="#8e9870"/>
<circle cx="219.0" cy="783.2" r="1.9" fill="#7e8a60"/>
<circle cx="287.5" cy="784.8" r="1.8" fill="#7e8a60"/>
<circle cx="240.8" cy="791.6" r="1.6" fill="#4e5a36"/>
<circle cx="221.7" cy="790.2" r="2.3" fill="#7e8a60"/>
<circle cx="279.6" cy="756.6" r="2.0" fill="#5a6640"/>
<circle cx="233.1" cy="761.9" r="2.0" fill="#7e8a60"/>
<circle cx="218.7" cy="744.5" r="1.9" fill="#8e9870"/>
<circle cx="255.9" cy="760.0" r="2.0" fill="#5a6640"/>
<circle cx="242.3" cy="764.7" r="2.2" fill="#7e8a60"/>
<circle cx="276.6" cy="714.7" r="1.9" fill="#7e8a60"/>
<circle cx="250.4" cy="716.4" r="2.2" fill="#7e8a60"/>
<circle cx="292.5" cy="745.6" r="2.0" fill="#66724a"/>
<circle cx="284.4" cy="725.5" r="1.9" fill="#66724a"/>
<circle cx="199.7" cy="759.1" r="1.9" fill="#4e5a36"/>
<circle cx="197.7" cy="744.7" r="1.8" fill="#4e5a36"/>
<circle cx="227.1" cy="785.2" r="1.6" fill="#8e9870"/>
<circle cx="279.1" cy="759.3" r="2.3" fill="#3e4a2c"/>
<circle cx="250.6" cy="719.5" r="1.9" fill="#66724a"/>
<circle cx="278.1" cy="716.0" r="1.7" fill="#4e5a36"/>
<circle cx="299.2" cy="752.1" r="2.1" fill="#5a6640"/>
<circle cx="229.2" cy="773.3" r="1.8" fill="#7e8a60"/>
<circle cx="196.7" cy="765.1" r="1.7" fill="#8e9870"/>
<circle cx="214.5" cy="764.7" r="1.6" fill="#4e5a36"/>
<circle cx="292.7" cy="760.8" r="2.0" fill="#4e5a36"/>
<circle cx="262.5" cy="729.4" r="1.7" fill="#4e5a36"/>
<circle cx="258.7" cy="722.3" r="2.3" fill="#4e5a36"/>
<circle cx="284.4" cy="734.5" r="1.8" fill="#8e9870"/>
<circle cx="200.6" cy="769.7" r="2.2" fill="#3e4a2c"/>
<circle cx="217.8" cy="735.1" r="2.0" fill="#3e4a2c"/>
<circle cx="281.8" cy="728.9" r="1.7" fill="#66724a"/>
<circle cx="291.8" cy="743.2" r="1.7" fill="#7e8a60"/>
<circle cx="285.5" cy="739.0" r="1.9" fill="#66724a"/>
<circle cx="245.3" cy="738.4" r="1.6" fill="#5a6640"/>
<circle cx="267.4" cy="738.1" r="1.8" fill="#66724a"/>
<circle cx="207.5" cy="724.5" r="2.3" fill="#8e9870"/>
<circle cx="207.3" cy="747.7" r="1.7" fill="#66724a"/>
<circle cx="232.5" cy="773.9" r="2.1" fill="#5a6640"/>
<circle cx="258.0" cy="733.9" r="2.0" fill="#5a6640"/>
<circle cx="218.5" cy="748.6" r="2.4" fill="#66724a"/>
<circle cx="207.1" cy="776.6" r="2.0" fill="#3e4a2c"/>
<circle cx="253.8" cy="731.4" r="1.6" fill="#5a6640"/>
<circle cx="273.4" cy="719.6" r="1.9" fill="#4e5a36"/>
<circle cx="288.3" cy="736.2" r="2.3" fill="#3e4a2c"/>
<circle cx="283.2" cy="777.3" r="1.7" fill="#66724a"/>
<circle cx="227.9" cy="727.3" r="2.3" fill="#66724a"/>
<circle cx="237.7" cy="739.5" r="2.2" fill="#5a6640"/>
<circle cx="207.8" cy="732.0" r="1.9" fill="#4e5a36"/>
<circle cx="282.5" cy="770.9" r="1.6" fill="#5a6640"/>
<circle cx="271.8" cy="749.5" r="1.9" fill="#5a6640"/>
<circle cx="263.4" cy="723.1" r="1.8" fill="#4e5a36"/>
<circle cx="261.2" cy="726.6" r="1.6" fill="#3e4a2c"/>
<circle cx="215.2" cy="734.5" r="2.2" fill="#5a6640"/>
<circle cx="254.9" cy="765.2" r="2.3" fill="#8e9870"/>
<circle cx="280.0" cy="732.9" r="2.3" fill="#4e5a36"/>
<circle cx="258.5" cy="771.4" r="1.7" fill="#3e4a2c"/>
<circle cx="281.6" cy="725.8" r="2.2" fill="#7e8a60"/>
<circle cx="202.6" cy="771.3" r="2.4" fill="#5a6640"/>
<circle cx="261.9" cy="726.8" r="1.7" fill="#8e9870"/>
<circle cx="299.0" cy="745.9" r="2.2" fill="#7e8a60"/>
<circle cx="275.7" cy="784.0" r="2.1" fill="#3e4a2c"/>
<circle cx="268.4" cy="785.6" r="2.0" fill="#66724a"/>
<circle cx="285.4" cy="758.6" r="2.0" fill="#66724a"/>
<circle cx="301.6" cy="765.9" r="1.8" fill="#8e9870"/>
<circle cx="231.9" cy="714.7" r="1.8" fill="#3e4a2c"/>
<circle cx="208.3" cy="772.5" r="2.0" fill="#3e4a2c"/>
<circle cx="270.5" cy="718.5" r="1.9" fill="#3e4a2c"/>
<circle cx="226.5" cy="789.2" r="2.1" fill="#66724a"/>
<circle cx="220.0" cy="765.2" r="2.0" fill="#4e5a36"/>
<circle cx="278.2" cy="721.9" r="1.7" fill="#3e4a2c"/>
<circle cx="238.5" cy="725.4" r="1.8" fill="#3e4a2c"/>
<circle cx="233.4" cy="725.4" r="2.3" fill="#4e5a36"/>
<circle cx="227.0" cy="716.4" r="2.0" fill="#7e8a60"/>
<circle cx="205.7" cy="736.5" r="2.1" fill="#5a6640"/>
<circle cx="225.4" cy="758.4" r="1.6" fill="#4e5a36"/>
<circle cx="202.4" cy="773.4" r="2.1" fill="#3e4a2c"/>
<circle cx="205.2" cy="752.0" r="2.0" fill="#5a6640"/>
<circle cx="280.8" cy="736.3" r="2.3" fill="#7e8a60"/>
<circle cx="265.2" cy="765.0" r="2.2" fill="#3e4a2c"/>
<circle cx="266.1" cy="713.3" r="1.6" fill="#3e4a2c"/>
<circle cx="279.7" cy="784.9" r="1.9" fill="#7e8a60"/>
<circle cx="300.7" cy="755.4" r="1.7" fill="#3e4a2c"/>
<circle cx="280.9" cy="784.1" r="2.1" fill="#3e4a2c"/>
<circle cx="235.5" cy="766.8" r="1.9" fill="#7e8a60"/>
<circle cx="234.3" cy="757.8" r="2.3" fill="#7e8a60"/>
<circle cx="205.0" cy="781.5" r="1.9" fill="#3e4a2c"/>
<circle cx="240.4" cy="774.7" r="2.1" fill="#8e9870"/>
<circle cx="202.0" cy="770.7" r="1.7" fill="#66724a"/>
<circle cx="264.3" cy="743.7" r="2.3" fill="#4e5a36"/>
<circle cx="246.7" cy="726.5" r="1.6" fill="#7e8a60"/>
<circle cx="287.2" cy="786.4" r="1.9" fill="#8e9870"/>
<circle cx="224.7" cy="768.2" r="2.2" fill="#8e9870"/>
<circle cx="212.7" cy="774.1" r="1.8" fill="#5a6640"/>
<circle cx="229.3" cy="749.3" r="2.3" fill="#8e9870"/>
<circle cx="300.7" cy="764.3" r="2.2" fill="#4e5a36"/>
<circle cx="230.1" cy="767.9" r="2.1" fill="#8e9870"/>
<circle cx="299.7" cy="751.2" r="1.7" fill="#3e4a2c"/>
<circle cx="289.9" cy="755.9" r="1.6" fill="#3e4a2c"/>
<circle cx="214.2" cy="769.8" r="2.2" fill="#5a6640"/>
<circle cx="209.5" cy="760.4" r="2.1" fill="#8e9870"/>
<circle cx="237.4" cy="716.7" r="2.4" fill="#66724a"/>
<circle cx="215.7" cy="776.5" r="2.3" fill="#66724a"/>
<circle cx="221.4" cy="714.9" r="2.1" fill="#8e9870"/>
<circle cx="272.4" cy="727.3" r="1.8" fill="#5a6640"/>
<circle cx="257.1" cy="716.6" r="2.3" fill="#8e9870"/>
<circle cx="256.5" cy="786.0" r="1.7" fill="#3e4a2c"/>
<circle cx="242.2" cy="787.2" r="2.0" fill="#8e9870"/>
<circle cx="263.2" cy="796.3" r="1.7" fill="#8e9870"/>
<circle cx="286.0" cy="742.8" r="2.4" fill="#66724a"/>
<circle cx="214.5" cy="750.7" r="1.7" fill="#4e5a36"/>
<circle cx="219.5" cy="741.0" r="2.2" fill="#4e5a36"/>
<circle cx="300.0" cy="749.2" r="2.2" fill="#4e5a36"/>
<circle cx="240.7" cy="789.5" r="2.4" fill="#8e9870"/>
<circle cx="215.6" cy="716.8" r="2.3" fill="#3e4a2c"/>
<circle cx="211.8" cy="776.1" r="2.2" fill="#7e8a60"/>
<circle cx="221.6" cy="728.5" r="2.2" fill="#8e9870"/>
<circle cx="197.9" cy="762.8" r="1.9" fill="#4e5a36"/>
<circle cx="229.7" cy="762.7" r="2.3" fill="#4e5a36"/>
<circle cx="268.6" cy="729.9" r="2.2" fill="#66724a"/>
<circle cx="242.3" cy="780.4" r="1.7" fill="#5a6640"/>
<circle cx="282.7" cy="723.4" r="2.3" fill="#8e9870"/>
<circle cx="290.9" cy="768.9" r="2.1" fill="#66724a"/>
<circle cx="278.3" cy="731.3" r="1.6" fill="#5a6640"/>
<circle cx="231.3" cy="720.2" r="2.0" fill="#8e9870"/>
<circle cx="201.4" cy="764.3" r="2.1" fill="#3e4a2c"/>
<circle cx="237.0" cy="750.7" r="2.2" fill="#66724a"/>
<circle cx="243.2" cy="727.5" r="2.0" fill="#8e9870"/>
<circle cx="233.4" cy="755.7" r="2.3" fill="#7e8a60"/>
<circle cx="259.0" cy="710.1" r="2.3" fill="#66724a"/>
<circle cx="274.5" cy="737.1" r="1.9" fill="#5a6640"/>
<circle cx="257.9" cy="737.4" r="1.8" fill="#4e5a36"/>
<circle cx="291.1" cy="763.2" r="1.7" fill="#3e4a2c"/>
<circle cx="268.1" cy="731.6" r="1.7" fill="#7e8a60"/>
<circle cx="271.2" cy="792.0" r="2.3" fill="#4e5a36"/>
<circle cx="279.7" cy="765.5" r="1.7" fill="#3e4a2c"/>
<circle cx="281.7" cy="780.5" r="2.3" fill="#66724a"/>
<circle cx="298.1" cy="770.0" r="2.4" fill="#7e8a60"/>
<circle cx="231.2" cy="740.1" r="1.8" fill="#3e4a2c"/>
<circle cx="290.8" cy="773.3" r="1.6" fill="#7e8a60"/>
<circle cx="230.8" cy="736.4" r="2.0" fill="#5a6640"/>
<circle cx="216.0" cy="789.5" r="2.0" fill="#3e4a2c"/>
<circle cx="226.8" cy="735.0" r="2.1" fill="#3e4a2c"/>
<circle cx="296.6" cy="761.0" r="2.1" fill="#7e8a60"/>
<circle cx="279.7" cy="746.3" r="2.3" fill="#4e5a36"/>
<circle cx="228.8" cy="722.5" r="2.0" fill="#7e8a60"/>
<circle cx="278.0" cy="764.9" r="2.2" fill="#66724a"/>
<circle cx="217.5" cy="743.6" r="2.3" fill="#66724a"/>
<circle cx="224.7" cy="753.2" r="1.8" fill="#4e5a36"/>
<circle cx="260.3" cy="713.5" r="1.9" fill="#8e9870"/>
<circle cx="208.3" cy="723.7" r="2.1" fill="#8e9870"/>
<circle cx="247.5" cy="763.3" r="1.6" fill="#66724a"/>
<circle cx="239.4" cy="710.3" r="2.1" fill="#3e4a2c"/>
<circle cx="237.8" cy="794.4" r="1.6" fill="#4e5a36"/>
<circle cx="228.5" cy="767.5" r="1.6" fill="#7e8a60"/>
<circle cx="209.0" cy="778.1" r="1.9" fill="#4e5a36"/>
<circle cx="233.5" cy="738.3" r="2.1" fill="#3e4a2c"/>
<circle cx="230.1" cy="775.7" r="2.3" fill="#7e8a60"/>
<circle cx="246.5" cy="709.0" r="1.8" fill="#3e4a2c"/>
<circle cx="243.8" cy="732.2" r="2.0" fill="#8e9870"/>
<circle cx="223.7" cy="729.8" r="2.0" fill="#8e9870"/>
<circle cx="266.4" cy="778.8" r="1.7" fill="#7e8a60"/>
<circle cx="263.4" cy="743.7" r="2.1" fill="#4e5a36"/>
<circle cx="206.7" cy="757.1" r="2.0" fill="#66724a"/>
<circle cx="233.9" cy="720.0" r="2.3" fill="#66724a"/>
<circle cx="288.8" cy="779.2" r="1.6" fill="#8e9870"/>
<circle cx="280.1" cy="728.8" r="1.8" fill="#5a6640"/>
<circle cx="236.6" cy="725.9" r="1.7" fill="#4e5a36"/>
<circle cx="265.3" cy="743.8" r="1.6" fill="#7e8a60"/>
<circle cx="256.2" cy="744.5" r="2.1" fill="#3e4a2c"/>
<circle cx="218.1" cy="729.7" r="2.2" fill="#7e8a60"/>
<circle cx="220.1" cy="739.3" r="2.2" fill="#7e8a60"/>
<circle cx="265.0" cy="734.1" r="1.8" fill="#5a6640"/>
<circle cx="256.8" cy="720.7" r="2.4" fill="#7e8a60"/>
<circle cx="208.3" cy="734.2" r="1.9" fill="#4e5a36"/>
<circle cx="247.4" cy="789.8" r="1.9" fill="#66724a"/>
<circle cx="261.3" cy="795.9" r="2.1" fill="#66724a"/>
<circle cx="291.9" cy="725.7" r="1.9" fill="#3e4a2c"/>
<circle cx="280.3" cy="787.2" r="1.9" fill="#66724a"/>
<circle cx="269.7" cy="781.7" r="2.4" fill="#66724a"/>
<circle cx="209.9" cy="775.2" r="2.2" fill="#4e5a36"/>
<circle cx="230.6" cy="790.1" r="1.8" fill="#8e9870"/>
<circle cx="281.7" cy="770.8" r="1.7" fill="#4e5a36"/>
<circle cx="301.7" cy="755.4" r="1.7" fill="#4e5a36"/>
<circle cx="269.8" cy="719.9" r="2.0" fill="#3e4a2c"/>
<circle cx="304.3" cy="755.8" r="2.4" fill="#5a6640"/>
<circle cx="222.9" cy="736.6" r="2.1" fill="#4e5a36"/>
<circle cx="273.4" cy="743.5" r="2.0" fill="#7e8a60"/>
<circle cx="235.9" cy="720.2" r="2.3" fill="#5a6640"/>
<circle cx="264.1" cy="728.5" r="2.3" fill="#8e9870"/>
<circle cx="221.5" cy="763.4" r="2.4" fill="#5a6640"/>
<circle cx="285.5" cy="768.4" r="2.3" fill="#4e5a36"/>
<circle cx="198.5" cy="771.3" r="2.1" fill="#7e8a60"/>
<circle cx="245.7" cy="738.2" r="2.4" fill="#8e9870"/>
<circle cx="219.3" cy="765.2" r="2.3" fill="#3e4a2c"/>
<circle cx="232.8" cy="712.0" r="1.8" fill="#8e9870"/>
<circle cx="266.9" cy="783.7" r="2.1" fill="#4e5a36"/>
<circle cx="253.8" cy="727.0" r="2.2" fill="#8e9870"/>
<circle cx="222.4" cy="785.1" r="1.9" fill="#3e4a2c"/>
<circle cx="259.0" cy="759.6" r="2.3" fill="#4e5a36"/>
<circle cx="284.1" cy="728.4" r="1.7" fill="#66724a"/>
<circle cx="267.1" cy="722.7" r="2.3" fill="#3e4a2c"/>
<circle cx="197.8" cy="741.8" r="1.7" fill="#5a6640"/>
<circle cx="210.2" cy="729.6" r="1.9" fill="#4e5a36"/>
<circle cx="267.2" cy="731.9" r="2.4" fill="#7e8a60"/>
<circle cx="270.8" cy="748.2" r="2.2" fill="#5a6640"/>
<circle cx="212.5" cy="754.6" r="2.1" fill="#4e5a36"/>
<circle cx="234.1" cy="754.9" r="2.1" fill="#66724a"/>
<circle cx="222.1" cy="761.5" r="2.2" fill="#7e8a60"/>
<circle cx="223.8" cy="736.5" r="1.8" fill="#66724a"/>
<circle cx="273.3" cy="741.3" r="2.2" fill="#4e5a36"/>
<circle cx="226.1" cy="744.3" r="2.1" fill="#3e4a2c"/>
<circle cx="221.8" cy="728.4" r="1.7" fill="#8e9870"/>
<circle cx="288.4" cy="760.5" r="2.1" fill="#4e5a36"/>
<circle cx="229.9" cy="712.7" r="1.9" fill="#5a6640"/>
<circle cx="251.9" cy="752.7" r="1.7" fill="#4e5a36"/>
<circle cx="256.1" cy="793.9" r="2.3" fill="#3e4a2c"/>
<circle cx="239.5" cy="750.5" r="1.9" fill="#5a6640"/>
<circle cx="208.2" cy="776.8" r="2.1" fill="#4e5a36"/>
<circle cx="275.9" cy="743.8" r="2.3" fill="#4e5a36"/>
<circle cx="225.9" cy="737.0" r="2.2" fill="#5a6640"/>
<circle cx="206.2" cy="726.7" r="2.1" fill="#4e5a36"/>
<circle cx="194.7" cy="752.7" r="2.1" fill="#66724a"/>
<circle cx="199.2" cy="770.0" r="1.9" fill="#3e4a2c"/>
<circle cx="289.7" cy="757.7" r="1.9" fill="#3e4a2c"/>
<circle cx="284.5" cy="788.0" r="1.9" fill="#66724a"/>
<circle cx="213.8" cy="756.7" r="1.8" fill="#8e9870"/>
<circle cx="228.1" cy="730.0" r="2.0" fill="#7e8a60"/>
<circle cx="227.1" cy="787.5" r="2.3" fill="#5a6640"/>
<circle cx="221.8" cy="725.0" r="1.8" fill="#4e5a36"/>
<circle cx="266.1" cy="793.7" r="2.0" fill="#3e4a2c"/>
<circle cx="258.4" cy="740.4" r="1.8" fill="#7e8a60"/>
<circle cx="296.0" cy="758.3" r="2.2" fill="#4e5a36"/>
<circle cx="242.2" cy="724.9" r="2.2" fill="#66724a"/>
<circle cx="259.3" cy="748.7" r="1.8" fill="#5a6640"/>
<circle cx="215.8" cy="722.9" r="1.7" fill="#3e4a2c"/>
<circle cx="284.2" cy="752.7" r="2.3" fill="#4e5a36"/>
<circle cx="216.6" cy="784.8" r="2.2" fill="#66724a"/>
<circle cx="273.1" cy="754.5" r="1.7" fill="#5a6640"/>
<circle cx="294.5" cy="770.5" r="2.3" fill="#66724a"/>
<circle cx="210.9" cy="748.0" r="2.3" fill="#66724a"/>
<circle cx="282.3" cy="772.5" r="1.7" fill="#3e4a2c"/>
<circle cx="295.1" cy="736.5" r="1.7" fill="#66724a"/>
<circle cx="236.8" cy="709.1" r="1.7" fill="#5a6640"/>
<circle cx="225.6" cy="767.6" r="1.7" fill="#3e4a2c"/>
<circle cx="269.0" cy="716.8" r="1.7" fill="#7e8a60"/>
<circle cx="298.2" cy="755.5" r="2.0" fill="#7e8a60"/>
<circle cx="215.5" cy="732.3" r="2.1" fill="#7e8a60"/>
<circle cx="253.6" cy="714.3" r="2.0" fill="#66724a"/>
<circle cx="279.0" cy="777.9" r="2.1" fill="#66724a"/>
<circle cx="226.6" cy="760.5" r="2.4" fill="#4e5a36"/>
<circle cx="231.6" cy="794.8" r="1.8" fill="#3e4a2c"/>
<circle cx="212.3" cy="738.9" r="1.8" fill="#5a6640"/>
<circle cx="276.1" cy="722.8" r="2.2" fill="#7e8a60"/>
<circle cx="274.1" cy="748.8" r="2.0" fill="#3e4a2c"/>
<circle cx="281.3" cy="762.0" r="1.6" fill="#5a6640"/>
<circle cx="197.4" cy="760.4" r="2.1" fill="#5a6640"/>
<circle cx="207.8" cy="760.3" r="1.7" fill="#7e8a60"/>
<circle cx="274.5" cy="775.0" r="1.7" fill="#7e8a60"/>
<circle cx="298.5" cy="737.2" r="2.3" fill="#3e4a2c"/>
<circle cx="246.8" cy="720.0" r="1.7" fill="#4e5a36"/>
<circle cx="219.7" cy="720.4" r="2.0" fill="#7e8a60"/>
<circle cx="206.2" cy="750.0" r="2.1" fill="#66724a"/>
<circle cx="294.7" cy="774.3" r="2.0" fill="#8e9870"/>
<circle cx="298.7" cy="751.9" r="2.1" fill="#3e4a2c"/>
<circle cx="270.2" cy="727.6" r="1.7" fill="#66724a"/>
<circle cx="257.8" cy="728.0" r="2.2" fill="#8e9870"/>
<circle cx="250.4" cy="783.0" r="2.1" fill="#4e5a36"/>
</g>
<g clip-path="url(#cp3)">
<polygon points="356.4,706.7 386.3,716.9 401.6,732.3 403.3,737.4 419.5,739 418.6,745.9 408.4,769.7 398.2,776.5 384.6,793.6 377.7,796.1 352.2,778.3 331.7,762.9 320.7,751 321.5,740.8 338.6,725.4 347,716.9" fill="url(#mer)" stroke="#b89aa8" stroke-width="1"/>
<ellipse cx="416" cy="711" rx="8" ry="7" fill="#5a4010" opacity="0.85"/>
<ellipse cx="320" cy="708" rx="5" ry="3" fill="#e8f0ec" stroke="#203030" stroke-width="1.5"/>
</g>
<g clip-path="url(#cp4)">
<g transform="rotate(-17 473 749.5)">
<ellipse cx="473" cy="749.5" rx="35" ry="40" fill="none" stroke="#c8ecea" stroke-width="1.5"/>
<ellipse cx="473" cy="749.5" rx="33.5" ry="38.5" fill="#8a2c44"/>
<ellipse cx="473" cy="749.5" rx="30.5" ry="35.5" fill="#c88430"/>
<ellipse cx="470" cy="743" rx="23" ry="26" fill="#d89a4a"/>
</g>
<path d="M463,764 C463,756 477,754 483,759 C489,763 487,772 480,771 C475,770 471,774 466,772 C462,770 462,767 463,764 Z" fill="#1a0c04"/>
<path d="M488,778 L496,776 L500,784 L493,789 Z" fill="#3a2008"/>
</g>
<g clip-path="url(#cp5)">
<g transform="rotate(28 553.5 758.5)"><rect x="536" y="741" width="35" height="35" rx="8" fill="#2a2a24" stroke="#a0c8d0" stroke-width="1.2"/><rect x="538" y="743" width="31" height="31" rx="7" fill="#d0aa24"/><path d="M540,748 Q553,752 566,747 L566,752 Q553,758 540,753 Z" fill="#7a5a14"/><path d="M541,768 Q552,760 565,768 L565,772 Q552,766 541,772 Z" fill="#6a4a10"/><ellipse cx="553" cy="757" rx="5" ry="7" fill="#f4ecc8"/><circle cx="562" cy="760" r="2.5" fill="#5a3a08"/><circle cx="545" cy="760" r="2.5" fill="#ecd860"/></g>
<g transform="rotate(12 599 734)"><rect x="578" y="719" width="42" height="30" rx="5" fill="#2a2040" stroke="#b898b8" stroke-width="1"/><rect x="580" y="721" width="38" height="26" rx="4" fill="#d4ae1c"/><path d="M583,728 Q599,722 615,729 L615,733 Q599,727 583,733 Z" fill="#7a5a10"/><path d="M584,740 Q599,734 614,741 L614,744 Q599,738 584,744 Z" fill="#6a4a10"/><ellipse cx="599" cy="734" rx="6" ry="3" fill="#f0e490"/><circle cx="588" cy="736" r="2" fill="#f4e070"/></g>
</g>
<g font-weight="bold" font-size="17" fill="#000">
<text x="20.3" y="716">a</text>
<text x="108.2" y="722">b</text>
<text x="319" y="722">d</text>
<text x="427.6" y="722">e</text>
<text x="536" y="721.5">f</text>
<text x="196" y="716">c</text>
</g>
<rect x="16" y="704" width="613" height="98" fill="none" stroke="#ff0000" stroke-width="2"/>
</svg>
</body></html>
